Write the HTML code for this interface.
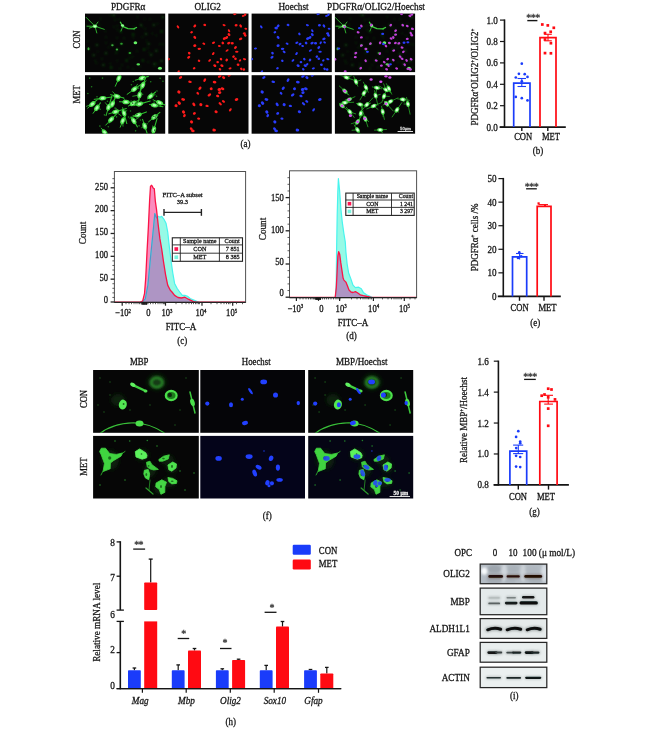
<!DOCTYPE html>
<html><head><meta charset="utf-8"><title>Figure</title>
<style>
html,body{margin:0;padding:0;background:#fff;}
body{width:650px;height:756px;overflow:hidden;}
svg{display:block;font-family:'Liberation Serif', serif;filter:blur(0.3px);}
text{stroke:currentColor;stroke-width:0.28px;}
</style></head>
<body>
<svg width="650" height="756" viewBox="0 0 650 756">
<rect x="0" y="0" width="650" height="756" fill="#fff"/>
<defs>
<filter id="bl" filterUnits="userSpaceOnUse" x="-20" y="-20" width="700" height="800"><feGaussianBlur stdDeviation="0.55"/></filter>
<filter id="bl2" filterUnits="userSpaceOnUse" x="-20" y="-20" width="700" height="800"><feGaussianBlur stdDeviation="1.1"/></filter>
<filter id="bl15" filterUnits="userSpaceOnUse" x="-20" y="-20" width="700" height="800"><feGaussianBlur stdDeviation="0.8"/></filter>
<filter id="bl3" filterUnits="userSpaceOnUse" x="-20" y="-20" width="700" height="800"><feGaussianBlur stdDeviation="2.2"/></filter>
</defs>
<svg x="85.00" y="13.60" width="80.20" height="58.50" overflow="hidden">
<rect x="0.00" y="0.00" width="80.20" height="58.50" fill="#060606" />
<g filter="url(#bl)">
</g><g filter="url(#bl2)">
<ellipse cx="3.52" cy="35.22" rx="1.20" ry="1.00" fill="#135013"/>
<ellipse cx="27.42" cy="31.73" rx="1.20" ry="1.00" fill="#135013"/>
<ellipse cx="32.33" cy="35.87" rx="1.20" ry="1.00" fill="#135013"/>
<ellipse cx="44.87" cy="39.49" rx="1.20" ry="1.00" fill="#135013"/>
<ellipse cx="36.47" cy="30.05" rx="1.20" ry="1.00" fill="#135013"/>
<ellipse cx="11.92" cy="31.35" rx="1.20" ry="1.00" fill="#135013"/>
<ellipse cx="8.69" cy="41.68" rx="1.20" ry="1.00" fill="#135013"/>
<ellipse cx="20.96" cy="39.74" rx="1.20" ry="1.00" fill="#135013"/>
<ellipse cx="59.08" cy="35.87" rx="1.20" ry="1.00" fill="#135013"/>
<ellipse cx="61.02" cy="20.36" rx="1.20" ry="1.00" fill="#135013"/>
<ellipse cx="55.85" cy="11.32" rx="1.20" ry="1.00" fill="#135013"/>
<ellipse cx="68.77" cy="11.32" rx="1.20" ry="1.00" fill="#135013"/>
<ellipse cx="76.52" cy="17.78" rx="1.20" ry="1.00" fill="#135013"/>
<ellipse cx="69.41" cy="50.08" rx="1.20" ry="1.00" fill="#135013"/>
<ellipse cx="41.64" cy="46.85" rx="1.20" ry="1.00" fill="#135013"/>
<ellipse cx="26.13" cy="53.96" rx="1.20" ry="1.00" fill="#135013"/>
<ellipse cx="35.82" cy="17.78" rx="1.20" ry="1.00" fill="#135013"/>
<ellipse cx="48.10" cy="21.01" rx="1.20" ry="1.00" fill="#135013"/>
<ellipse cx="63.60" cy="30.05" rx="1.20" ry="1.00" fill="#135013"/>
<ellipse cx="71.35" cy="37.16" rx="1.20" ry="1.00" fill="#135013"/>
<ellipse cx="18.38" cy="51.37" rx="1.20" ry="1.00" fill="#135013"/>
<ellipse cx="57.79" cy="46.85" rx="1.20" ry="1.00" fill="#135013"/>
<ellipse cx="66.18" cy="41.04" rx="1.20" ry="1.00" fill="#135013"/>
<ellipse cx="76.52" cy="47.50" rx="1.20" ry="1.00" fill="#135013"/>
<ellipse cx="28.72" cy="1.63" rx="1.20" ry="1.00" fill="#135013"/>
<ellipse cx="77.81" cy="3.57" rx="1.20" ry="1.00" fill="#135013"/>
<ellipse cx="32.51" cy="12.20" rx="0.70" ry="0.70" fill="#114411"/>
<ellipse cx="14.95" cy="14.91" rx="0.70" ry="0.70" fill="#114411"/>
<ellipse cx="60.27" cy="15.06" rx="0.70" ry="0.70" fill="#114411"/>
<ellipse cx="30.88" cy="39.32" rx="0.70" ry="0.70" fill="#114411"/>
<ellipse cx="43.01" cy="53.55" rx="0.70" ry="0.70" fill="#114411"/>
<ellipse cx="39.16" cy="24.61" rx="0.70" ry="0.70" fill="#114411"/>
<ellipse cx="48.83" cy="13.13" rx="0.70" ry="0.70" fill="#114411"/>
<ellipse cx="71.36" cy="21.94" rx="0.70" ry="0.70" fill="#114411"/>
<ellipse cx="31.27" cy="39.21" rx="0.70" ry="0.70" fill="#114411"/>
<ellipse cx="12.88" cy="37.99" rx="0.70" ry="0.70" fill="#114411"/>
<ellipse cx="67.30" cy="19.97" rx="0.70" ry="0.70" fill="#114411"/>
<ellipse cx="74.86" cy="30.61" rx="0.70" ry="0.70" fill="#114411"/>
<ellipse cx="61.41" cy="27.27" rx="0.70" ry="0.70" fill="#114411"/>
<ellipse cx="32.40" cy="16.09" rx="0.70" ry="0.70" fill="#114411"/>
<ellipse cx="1.59" cy="12.41" rx="0.70" ry="0.70" fill="#114411"/>
<ellipse cx="78.19" cy="30.92" rx="0.70" ry="0.70" fill="#114411"/>
<ellipse cx="37.04" cy="51.41" rx="0.70" ry="0.70" fill="#114411"/>
<ellipse cx="48.23" cy="55.70" rx="0.70" ry="0.70" fill="#114411"/>
<ellipse cx="28.89" cy="13.09" rx="0.70" ry="0.70" fill="#114411"/>
<ellipse cx="72.82" cy="10.01" rx="0.70" ry="0.70" fill="#114411"/>
<ellipse cx="62.76" cy="34.34" rx="0.70" ry="0.70" fill="#114411"/>
<ellipse cx="77.67" cy="53.86" rx="0.70" ry="0.70" fill="#114411"/>
<ellipse cx="52.50" cy="3.08" rx="0.70" ry="0.70" fill="#114411"/>
<ellipse cx="2.82" cy="27.53" rx="0.70" ry="0.70" fill="#114411"/>
<ellipse cx="64.93" cy="5.54" rx="0.70" ry="0.70" fill="#114411"/>
<ellipse cx="34.18" cy="5.82" rx="0.70" ry="0.70" fill="#114411"/>
<ellipse cx="25.16" cy="1.32" rx="0.70" ry="0.70" fill="#114411"/>
<ellipse cx="26.72" cy="30.31" rx="0.70" ry="0.70" fill="#114411"/>
<ellipse cx="16.66" cy="45.08" rx="0.70" ry="0.70" fill="#114411"/>
<ellipse cx="5.32" cy="12.84" rx="0.70" ry="0.70" fill="#114411"/>
<ellipse cx="21.09" cy="23.63" rx="0.70" ry="0.70" fill="#114411"/>
<ellipse cx="60.58" cy="20.81" rx="0.70" ry="0.70" fill="#114411"/>
<ellipse cx="55.21" cy="52.64" rx="0.70" ry="0.70" fill="#114411"/>
<ellipse cx="11.21" cy="49.38" rx="0.70" ry="0.70" fill="#114411"/>
<ellipse cx="47.77" cy="42.84" rx="0.70" ry="0.70" fill="#114411"/>
<ellipse cx="48.43" cy="23.86" rx="0.70" ry="0.70" fill="#114411"/>
<ellipse cx="8.53" cy="9.05" rx="0.70" ry="0.70" fill="#114411"/>
<ellipse cx="14.58" cy="10.95" rx="0.70" ry="0.70" fill="#114411"/>
<ellipse cx="12.35" cy="12.62" rx="0.70" ry="0.70" fill="#114411"/>
<ellipse cx="44.76" cy="44.15" rx="0.70" ry="0.70" fill="#114411"/>
<ellipse cx="63.24" cy="48.38" rx="0.70" ry="0.70" fill="#114411"/>
<ellipse cx="10.14" cy="47.05" rx="0.70" ry="0.70" fill="#114411"/>
<ellipse cx="15.50" cy="5.05" rx="0.70" ry="0.70" fill="#114411"/>
<ellipse cx="23.44" cy="33.80" rx="0.70" ry="0.70" fill="#114411"/>
<ellipse cx="4.72" cy="13.11" rx="0.70" ry="0.70" fill="#114411"/>
<ellipse cx="32.13" cy="47.05" rx="0.70" ry="0.70" fill="#114411"/>
<ellipse cx="32.15" cy="24.19" rx="0.70" ry="0.70" fill="#114411"/>
<ellipse cx="29.94" cy="6.19" rx="0.70" ry="0.70" fill="#114411"/>
<ellipse cx="69.61" cy="52.69" rx="0.70" ry="0.70" fill="#114411"/>
<ellipse cx="57.29" cy="23.32" rx="0.70" ry="0.70" fill="#114411"/>
<ellipse cx="35.63" cy="18.44" rx="0.70" ry="0.70" fill="#114411"/>
<ellipse cx="52.04" cy="37.59" rx="0.70" ry="0.70" fill="#114411"/>
<ellipse cx="25.23" cy="49.96" rx="0.70" ry="0.70" fill="#114411"/>
<ellipse cx="57.22" cy="13.24" rx="0.70" ry="0.70" fill="#114411"/>
<ellipse cx="64.12" cy="38.76" rx="0.70" ry="0.70" fill="#114411"/>
<ellipse cx="20.48" cy="17.60" rx="0.70" ry="0.70" fill="#114411"/>
<ellipse cx="59.62" cy="5.49" rx="0.70" ry="0.70" fill="#114411"/>
<ellipse cx="35.15" cy="54.97" rx="0.70" ry="0.70" fill="#114411"/>
<ellipse cx="20.98" cy="29.18" rx="0.70" ry="0.70" fill="#114411"/>
<ellipse cx="71.76" cy="49.98" rx="0.70" ry="0.70" fill="#114411"/>
</g><g filter="url(#bl)">
<line x1="9.98" y1="12.61" x2="0.94" y2="3.57" stroke="#2fae2f" stroke-width="1.0" />
<line x1="9.98" y1="12.61" x2="4.17" y2="14.55" stroke="#2fae2f" stroke-width="1.0" />
<line x1="9.98" y1="12.61" x2="11.92" y2="19.72" stroke="#2fae2f" stroke-width="1.0" />
<line x1="9.98" y1="12.61" x2="19.67" y2="15.84" stroke="#2fae2f" stroke-width="1.0" />
<line x1="9.98" y1="12.61" x2="13.21" y2="8.09" stroke="#2fae2f" stroke-width="1.0" />
<line x1="9.98" y1="12.61" x2="1.58" y2="12.61" stroke="#2fae2f" stroke-width="1.0" />
<ellipse cx="9.98" cy="12.61" rx="2.20" ry="1.70" fill="#7dff7d"/>
<ellipse cx="9.98" cy="12.61" rx="1.00" ry="0.80" fill="#d8ffd8"/>
<path d="M35.18,8.09 L37.76,12.87 L42.93,14.94 L48.74,15.20 L51.97,13.65" fill="none" stroke="#3ccc3c" stroke-width="1.3" />
<line x1="48.74" y1="15.20" x2="49.39" y2="16.49" stroke="#2fae2f" stroke-width="0.9" />
<line x1="37.76" y1="12.87" x2="35.82" y2="17.78" stroke="#2fae2f" stroke-width="0.9" />
<ellipse cx="37.50" cy="11.97" rx="1.60" ry="1.30" fill="#8cff8c"/>
<ellipse cx="50.42" cy="29.15" rx="1.80" ry="1.50" fill="#66f266"/>
<ellipse cx="53.26" cy="50.73" rx="1.80" ry="1.20" fill="#55e055"/>
<ellipse cx="74.97" cy="54.60" rx="2.00" ry="1.50" fill="#6af06a"/>
<ellipse cx="31.95" cy="35.87" rx="1.20" ry="1.00" fill="#3caa3c"/>
<ellipse cx="27.42" cy="31.73" rx="1.20" ry="1.00" fill="#3caa3c"/>
<ellipse cx="3.52" cy="35.22" rx="1.00" ry="1.50" fill="#3caa3c"/>
<ellipse cx="44.87" cy="39.49" rx="1.30" ry="1.00" fill="#2e9a2e"/>
<ellipse cx="36.47" cy="30.05" rx="1.30" ry="1.00" fill="#2e9a2e"/>
</g>
</svg>
<svg x="168.30" y="13.60" width="80.20" height="58.50" overflow="hidden">
<rect x="0.00" y="0.00" width="80.20" height="58.50" fill="#060606" />
<g filter="url(#bl)">
<ellipse cx="9.68" cy="13.26" rx="1.76" ry="1.00" fill="#ff1a1a" transform="rotate(54.724112626709925 9.68 13.26)"/>
<ellipse cx="26.48" cy="12.35" rx="1.71" ry="1.23" fill="#ff1a1a" transform="rotate(-49.81536058092941 26.48 12.35)"/>
<ellipse cx="36.43" cy="11.32" rx="1.46" ry="1.19" fill="#ff1a1a" transform="rotate(20.367648172826506 36.43 11.32)"/>
<ellipse cx="55.81" cy="11.58" rx="1.59" ry="1.03" fill="#ff1a1a" transform="rotate(12.816208036900548 55.81 11.58)"/>
<ellipse cx="67.82" cy="11.58" rx="1.50" ry="1.23" fill="#ff1a1a" transform="rotate(-8.319643165047765 67.82 11.58)"/>
<ellipse cx="72.34" cy="12.35" rx="1.76" ry="1.17" fill="#ff1a1a" transform="rotate(59.37834755396912 72.34 12.35)"/>
<ellipse cx="74.93" cy="2.28" rx="1.44" ry="0.99" fill="#ff1a1a" transform="rotate(-6.617497352897573 74.93 2.28)"/>
<ellipse cx="76.87" cy="0.98" rx="1.53" ry="1.09" fill="#ff1a1a" transform="rotate(-56.70661714910172 76.87 0.98)"/>
<ellipse cx="66.53" cy="0.34" rx="1.73" ry="1.16" fill="#ff1a1a" transform="rotate(-14.398209371914604 66.53 0.34)"/>
<ellipse cx="77.51" cy="15.20" rx="1.43" ry="0.99" fill="#ff1a1a" transform="rotate(7.261243323179869 77.51 15.20)"/>
<ellipse cx="23.25" cy="18.68" rx="1.38" ry="1.15" fill="#ff1a1a" transform="rotate(-20.982848548660797 23.25 18.68)"/>
<ellipse cx="60.72" cy="17.13" rx="1.63" ry="1.04" fill="#ff1a1a" transform="rotate(59.84202818310624 60.72 17.13)"/>
<ellipse cx="26.48" cy="23.85" rx="1.69" ry="1.23" fill="#ff1a1a" transform="rotate(47.22858438995861 26.48 23.85)"/>
<ellipse cx="60.72" cy="21.01" rx="1.67" ry="1.25" fill="#ff1a1a" transform="rotate(48.79123798770732 60.72 21.01)"/>
<ellipse cx="56.19" cy="24.89" rx="1.77" ry="1.31" fill="#ff1a1a" transform="rotate(-17.54556265900758 56.19 24.89)"/>
<ellipse cx="58.39" cy="23.85" rx="1.67" ry="1.22" fill="#ff1a1a" transform="rotate(-40.65784160351774 58.39 23.85)"/>
<ellipse cx="75.96" cy="19.72" rx="1.56" ry="1.15" fill="#ff1a1a" transform="rotate(-4.631196270962683 75.96 19.72)"/>
<ellipse cx="76.87" cy="21.66" rx="1.55" ry="1.26" fill="#ff1a1a" transform="rotate(50.97984865134843 76.87 21.66)"/>
<ellipse cx="72.34" cy="25.27" rx="1.73" ry="1.29" fill="#ff1a1a" transform="rotate(-17.529095415754092 72.34 25.27)"/>
<ellipse cx="26.48" cy="31.99" rx="1.58" ry="1.30" fill="#ff1a1a" transform="rotate(-4.67854021420348 26.48 31.99)"/>
<ellipse cx="35.52" cy="30.05" rx="1.54" ry="1.05" fill="#ff1a1a" transform="rotate(26.852754464642203 35.52 30.05)"/>
<ellipse cx="45.21" cy="29.15" rx="1.64" ry="1.03" fill="#ff1a1a" transform="rotate(-21.039930747732242 45.21 29.15)"/>
<ellipse cx="54.51" cy="29.41" rx="1.44" ry="1.29" fill="#ff1a1a" transform="rotate(48.95285959513134 54.51 29.41)"/>
<ellipse cx="60.46" cy="29.41" rx="1.76" ry="1.22" fill="#ff1a1a" transform="rotate(-22.852425006064713 60.46 29.41)"/>
<ellipse cx="63.95" cy="29.67" rx="1.56" ry="1.20" fill="#ff1a1a" transform="rotate(0.5098580379981072 63.95 29.67)"/>
<ellipse cx="51.03" cy="32.38" rx="1.46" ry="1.05" fill="#ff1a1a" transform="rotate(10.553365415338149 51.03 32.38)"/>
<ellipse cx="31.00" cy="35.22" rx="1.75" ry="1.19" fill="#ff1a1a" transform="rotate(1.4269990026338988 31.00 35.22)"/>
<ellipse cx="67.18" cy="33.93" rx="1.70" ry="1.23" fill="#ff1a1a" transform="rotate(-50.95495571111455 67.18 33.93)"/>
<ellipse cx="20.92" cy="39.49" rx="1.41" ry="1.23" fill="#ff1a1a" transform="rotate(48.918434514158506 20.92 39.49)"/>
<ellipse cx="44.95" cy="40.00" rx="1.62" ry="1.07" fill="#ff1a1a" transform="rotate(-52.948932432161314 44.95 40.00)"/>
<ellipse cx="58.78" cy="36.90" rx="1.72" ry="1.01" fill="#ff1a1a" transform="rotate(-32.80601649062844 58.78 36.90)"/>
<ellipse cx="68.47" cy="38.19" rx="1.71" ry="1.06" fill="#ff1a1a" transform="rotate(2.6835198430715934 68.47 38.19)"/>
<ellipse cx="20.41" cy="43.62" rx="1.73" ry="1.12" fill="#ff1a1a" transform="rotate(-34.74252735652242 20.41 43.62)"/>
<ellipse cx="30.74" cy="47.11" rx="1.33" ry="1.10" fill="#ff1a1a" transform="rotate(26.03533186859704 30.74 47.11)"/>
<ellipse cx="41.34" cy="46.85" rx="1.63" ry="1.01" fill="#ff1a1a" transform="rotate(-39.374280944912115 41.34 46.85)"/>
<ellipse cx="52.71" cy="45.56" rx="1.33" ry="1.23" fill="#ff1a1a" transform="rotate(54.547459841489726 52.71 45.56)"/>
<ellipse cx="58.39" cy="46.46" rx="1.44" ry="1.26" fill="#ff1a1a" transform="rotate(-57.46261563322192 58.39 46.46)"/>
<ellipse cx="65.24" cy="42.97" rx="1.40" ry="1.22" fill="#ff1a1a" transform="rotate(-41.14580535758701 65.24 42.97)"/>
<ellipse cx="67.18" cy="45.17" rx="1.34" ry="1.32" fill="#ff1a1a" transform="rotate(-13.732094237692735 67.18 45.17)"/>
<ellipse cx="71.70" cy="46.85" rx="1.33" ry="1.10" fill="#ff1a1a" transform="rotate(-41.82958694921382 71.70 46.85)"/>
<ellipse cx="76.22" cy="45.56" rx="1.66" ry="1.02" fill="#ff1a1a" transform="rotate(13.828737998982902 76.22 45.56)"/>
<ellipse cx="49.35" cy="48.53" rx="1.33" ry="1.13" fill="#ff1a1a" transform="rotate(-19.534347216402573 49.35 48.53)"/>
<ellipse cx="46.50" cy="52.02" rx="1.66" ry="1.29" fill="#ff1a1a" transform="rotate(31.91639239056937 46.50 52.02)"/>
<ellipse cx="53.61" cy="52.02" rx="1.72" ry="1.22" fill="#ff1a1a" transform="rotate(30.67945844100771 53.61 52.02)"/>
<ellipse cx="69.76" cy="51.11" rx="1.42" ry="1.21" fill="#ff1a1a" transform="rotate(-3.266458548202479 69.76 51.11)"/>
<ellipse cx="25.83" cy="54.60" rx="1.36" ry="1.13" fill="#ff1a1a" transform="rotate(-22.043288792608898 25.83 54.60)"/>
<ellipse cx="51.67" cy="55.64" rx="1.38" ry="1.18" fill="#ff1a1a" transform="rotate(44.97156496175609 51.67 55.64)"/>
<ellipse cx="61.75" cy="54.86" rx="1.56" ry="1.03" fill="#ff1a1a" transform="rotate(-12.845693987379917 61.75 54.86)"/>
<ellipse cx="72.99" cy="55.25" rx="1.44" ry="1.19" fill="#ff1a1a" transform="rotate(55.167742378459295 72.99 55.25)"/>
<ellipse cx="75.57" cy="55.89" rx="1.33" ry="1.17" fill="#ff1a1a" transform="rotate(-9.62933452131037 75.57 55.89)"/>
<ellipse cx="10.33" cy="57.83" rx="1.34" ry="0.99" fill="#ff1a1a" transform="rotate(-43.13167452463989 10.33 57.83)"/>
<ellipse cx="0.25" cy="45.56" rx="1.36" ry="1.20" fill="#ff1a1a" transform="rotate(-40.6601981782519 0.25 45.56)"/>
</g>
</svg>
<svg x="251.60" y="13.60" width="80.20" height="58.50" overflow="hidden">
<rect x="0.00" y="0.00" width="80.20" height="58.50" fill="#060606" />
<g filter="url(#bl)">
<ellipse cx="9.68" cy="13.26" rx="1.76" ry="1.00" fill="#2a3cff" transform="rotate(54.724112626709925 9.68 13.26)"/>
<ellipse cx="26.48" cy="12.35" rx="1.71" ry="1.23" fill="#2a3cff" transform="rotate(-49.81536058092941 26.48 12.35)"/>
<ellipse cx="36.43" cy="11.32" rx="1.46" ry="1.19" fill="#2a3cff" transform="rotate(20.367648172826506 36.43 11.32)"/>
<ellipse cx="55.81" cy="11.58" rx="1.59" ry="1.03" fill="#2a3cff" transform="rotate(12.816208036900548 55.81 11.58)"/>
<ellipse cx="67.82" cy="11.58" rx="1.50" ry="1.23" fill="#2a3cff" transform="rotate(-8.319643165047765 67.82 11.58)"/>
<ellipse cx="72.34" cy="12.35" rx="1.76" ry="1.17" fill="#2a3cff" transform="rotate(59.37834755396912 72.34 12.35)"/>
<ellipse cx="74.93" cy="2.28" rx="1.44" ry="0.99" fill="#2a3cff" transform="rotate(-6.617497352897573 74.93 2.28)"/>
<ellipse cx="76.87" cy="0.98" rx="1.53" ry="1.09" fill="#2a3cff" transform="rotate(-56.70661714910172 76.87 0.98)"/>
<ellipse cx="66.53" cy="0.34" rx="1.73" ry="1.16" fill="#2a3cff" transform="rotate(-14.398209371914604 66.53 0.34)"/>
<ellipse cx="77.51" cy="15.20" rx="1.43" ry="0.99" fill="#2a3cff" transform="rotate(7.261243323179869 77.51 15.20)"/>
<ellipse cx="23.25" cy="18.68" rx="1.38" ry="1.15" fill="#2a3cff" transform="rotate(-20.982848548660797 23.25 18.68)"/>
<ellipse cx="60.72" cy="17.13" rx="1.63" ry="1.04" fill="#2a3cff" transform="rotate(59.84202818310624 60.72 17.13)"/>
<ellipse cx="26.48" cy="23.85" rx="1.69" ry="1.23" fill="#2a3cff" transform="rotate(47.22858438995861 26.48 23.85)"/>
<ellipse cx="60.72" cy="21.01" rx="1.67" ry="1.25" fill="#2a3cff" transform="rotate(48.79123798770732 60.72 21.01)"/>
<ellipse cx="56.19" cy="24.89" rx="1.77" ry="1.31" fill="#2a3cff" transform="rotate(-17.54556265900758 56.19 24.89)"/>
<ellipse cx="58.39" cy="23.85" rx="1.67" ry="1.22" fill="#2a3cff" transform="rotate(-40.65784160351774 58.39 23.85)"/>
<ellipse cx="75.96" cy="19.72" rx="1.56" ry="1.15" fill="#2a3cff" transform="rotate(-4.631196270962683 75.96 19.72)"/>
<ellipse cx="76.87" cy="21.66" rx="1.55" ry="1.26" fill="#2a3cff" transform="rotate(50.97984865134843 76.87 21.66)"/>
<ellipse cx="72.34" cy="25.27" rx="1.73" ry="1.29" fill="#2a3cff" transform="rotate(-17.529095415754092 72.34 25.27)"/>
<ellipse cx="26.48" cy="31.99" rx="1.58" ry="1.30" fill="#2a3cff" transform="rotate(-4.67854021420348 26.48 31.99)"/>
<ellipse cx="35.52" cy="30.05" rx="1.54" ry="1.05" fill="#2a3cff" transform="rotate(26.852754464642203 35.52 30.05)"/>
<ellipse cx="45.21" cy="29.15" rx="1.64" ry="1.03" fill="#2a3cff" transform="rotate(-21.039930747732242 45.21 29.15)"/>
<ellipse cx="54.51" cy="29.41" rx="1.44" ry="1.29" fill="#2a3cff" transform="rotate(48.95285959513134 54.51 29.41)"/>
<ellipse cx="60.46" cy="29.41" rx="1.76" ry="1.22" fill="#2a3cff" transform="rotate(-22.852425006064713 60.46 29.41)"/>
<ellipse cx="63.95" cy="29.67" rx="1.56" ry="1.20" fill="#2a3cff" transform="rotate(0.5098580379981072 63.95 29.67)"/>
<ellipse cx="51.03" cy="32.38" rx="1.46" ry="1.05" fill="#2a3cff" transform="rotate(10.553365415338149 51.03 32.38)"/>
<ellipse cx="31.00" cy="35.22" rx="1.75" ry="1.19" fill="#2a3cff" transform="rotate(1.4269990026338988 31.00 35.22)"/>
<ellipse cx="67.18" cy="33.93" rx="1.70" ry="1.23" fill="#2a3cff" transform="rotate(-50.95495571111455 67.18 33.93)"/>
<ellipse cx="20.92" cy="39.49" rx="1.41" ry="1.23" fill="#2a3cff" transform="rotate(48.918434514158506 20.92 39.49)"/>
<ellipse cx="44.95" cy="40.00" rx="1.62" ry="1.07" fill="#2a3cff" transform="rotate(-52.948932432161314 44.95 40.00)"/>
<ellipse cx="58.78" cy="36.90" rx="1.72" ry="1.01" fill="#2a3cff" transform="rotate(-32.80601649062844 58.78 36.90)"/>
<ellipse cx="68.47" cy="38.19" rx="1.71" ry="1.06" fill="#2a3cff" transform="rotate(2.6835198430715934 68.47 38.19)"/>
<ellipse cx="20.41" cy="43.62" rx="1.73" ry="1.12" fill="#2a3cff" transform="rotate(-34.74252735652242 20.41 43.62)"/>
<ellipse cx="30.74" cy="47.11" rx="1.33" ry="1.10" fill="#2a3cff" transform="rotate(26.03533186859704 30.74 47.11)"/>
<ellipse cx="41.34" cy="46.85" rx="1.63" ry="1.01" fill="#2a3cff" transform="rotate(-39.374280944912115 41.34 46.85)"/>
<ellipse cx="52.71" cy="45.56" rx="1.33" ry="1.23" fill="#2a3cff" transform="rotate(54.547459841489726 52.71 45.56)"/>
<ellipse cx="58.39" cy="46.46" rx="1.44" ry="1.26" fill="#2a3cff" transform="rotate(-57.46261563322192 58.39 46.46)"/>
<ellipse cx="65.24" cy="42.97" rx="1.40" ry="1.22" fill="#2a3cff" transform="rotate(-41.14580535758701 65.24 42.97)"/>
<ellipse cx="67.18" cy="45.17" rx="1.34" ry="1.32" fill="#2a3cff" transform="rotate(-13.732094237692735 67.18 45.17)"/>
<ellipse cx="71.70" cy="46.85" rx="1.33" ry="1.10" fill="#2a3cff" transform="rotate(-41.82958694921382 71.70 46.85)"/>
<ellipse cx="76.22" cy="45.56" rx="1.66" ry="1.02" fill="#2a3cff" transform="rotate(13.828737998982902 76.22 45.56)"/>
<ellipse cx="49.35" cy="48.53" rx="1.33" ry="1.13" fill="#2a3cff" transform="rotate(-19.534347216402573 49.35 48.53)"/>
<ellipse cx="46.50" cy="52.02" rx="1.66" ry="1.29" fill="#2a3cff" transform="rotate(31.91639239056937 46.50 52.02)"/>
<ellipse cx="53.61" cy="52.02" rx="1.72" ry="1.22" fill="#2a3cff" transform="rotate(30.67945844100771 53.61 52.02)"/>
<ellipse cx="69.76" cy="51.11" rx="1.42" ry="1.21" fill="#2a3cff" transform="rotate(-3.266458548202479 69.76 51.11)"/>
<ellipse cx="25.83" cy="54.60" rx="1.36" ry="1.13" fill="#2a3cff" transform="rotate(-22.043288792608898 25.83 54.60)"/>
<ellipse cx="51.67" cy="55.64" rx="1.38" ry="1.18" fill="#2a3cff" transform="rotate(44.97156496175609 51.67 55.64)"/>
<ellipse cx="61.75" cy="54.86" rx="1.56" ry="1.03" fill="#2a3cff" transform="rotate(-12.845693987379917 61.75 54.86)"/>
<ellipse cx="72.99" cy="55.25" rx="1.44" ry="1.19" fill="#2a3cff" transform="rotate(55.167742378459295 72.99 55.25)"/>
<ellipse cx="75.57" cy="55.89" rx="1.33" ry="1.17" fill="#2a3cff" transform="rotate(-9.62933452131037 75.57 55.89)"/>
<ellipse cx="10.33" cy="57.83" rx="1.34" ry="0.99" fill="#2a3cff" transform="rotate(-43.13167452463989 10.33 57.83)"/>
<ellipse cx="0.25" cy="45.56" rx="1.36" ry="1.20" fill="#2a3cff" transform="rotate(-40.6601981782519 0.25 45.56)"/>
<ellipse cx="24.54" cy="14.55" rx="1.77" ry="1.30" fill="#2a3cff" transform="rotate(0.9911020842772373 24.54 14.55)"/>
<ellipse cx="47.80" cy="20.36" rx="1.43" ry="1.13" fill="#2a3cff" transform="rotate(59.343027991140374 47.80 20.36)"/>
<ellipse cx="48.44" cy="30.44" rx="1.59" ry="1.19" fill="#2a3cff" transform="rotate(-29.90630857906114 48.44 30.44)"/>
<ellipse cx="32.55" cy="38.19" rx="1.65" ry="1.07" fill="#2a3cff" transform="rotate(36.02489467612756 32.55 38.19)"/>
<ellipse cx="3.87" cy="34.96" rx="1.56" ry="0.98" fill="#2a3cff" transform="rotate(-9.237969268497409 3.87 34.96)"/>
<ellipse cx="69.11" cy="29.15" rx="1.51" ry="1.02" fill="#2a3cff" transform="rotate(-55.74007059506825 69.11 29.15)"/>
<ellipse cx="72.99" cy="28.76" rx="1.43" ry="1.01" fill="#2a3cff" transform="rotate(26.8523607443166 72.99 28.76)"/>
<ellipse cx="55.55" cy="50.73" rx="1.43" ry="1.05" fill="#2a3cff" transform="rotate(-38.188790603948966 55.55 50.73)"/>
</g>
</svg>
<svg x="334.90" y="13.60" width="80.20" height="58.50" overflow="hidden">
<rect x="0.00" y="0.00" width="80.20" height="58.50" fill="#060606" />
<g filter="url(#bl)">
</g><g filter="url(#bl2)">
<ellipse cx="2.62" cy="35.22" rx="1.20" ry="1.00" fill="#135013"/>
<ellipse cx="26.52" cy="31.73" rx="1.20" ry="1.00" fill="#135013"/>
<ellipse cx="31.43" cy="35.87" rx="1.20" ry="1.00" fill="#135013"/>
<ellipse cx="43.97" cy="39.49" rx="1.20" ry="1.00" fill="#135013"/>
<ellipse cx="35.57" cy="30.05" rx="1.20" ry="1.00" fill="#135013"/>
<ellipse cx="11.02" cy="31.35" rx="1.20" ry="1.00" fill="#135013"/>
<ellipse cx="7.79" cy="41.68" rx="1.20" ry="1.00" fill="#135013"/>
<ellipse cx="20.06" cy="39.74" rx="1.20" ry="1.00" fill="#135013"/>
<ellipse cx="58.18" cy="35.87" rx="1.20" ry="1.00" fill="#135013"/>
<ellipse cx="60.12" cy="20.36" rx="1.20" ry="1.00" fill="#135013"/>
<ellipse cx="54.95" cy="11.32" rx="1.20" ry="1.00" fill="#135013"/>
<ellipse cx="67.87" cy="11.32" rx="1.20" ry="1.00" fill="#135013"/>
<ellipse cx="75.62" cy="17.78" rx="1.20" ry="1.00" fill="#135013"/>
<ellipse cx="68.51" cy="50.08" rx="1.20" ry="1.00" fill="#135013"/>
<ellipse cx="40.74" cy="46.85" rx="1.20" ry="1.00" fill="#135013"/>
<ellipse cx="25.23" cy="53.96" rx="1.20" ry="1.00" fill="#135013"/>
<ellipse cx="34.92" cy="17.78" rx="1.20" ry="1.00" fill="#135013"/>
<ellipse cx="47.20" cy="21.01" rx="1.20" ry="1.00" fill="#135013"/>
<ellipse cx="62.70" cy="30.05" rx="1.20" ry="1.00" fill="#135013"/>
<ellipse cx="70.45" cy="37.16" rx="1.20" ry="1.00" fill="#135013"/>
<ellipse cx="17.48" cy="51.37" rx="1.20" ry="1.00" fill="#135013"/>
<ellipse cx="56.89" cy="46.85" rx="1.20" ry="1.00" fill="#135013"/>
<ellipse cx="65.28" cy="41.04" rx="1.20" ry="1.00" fill="#135013"/>
<ellipse cx="75.62" cy="47.50" rx="1.20" ry="1.00" fill="#135013"/>
<ellipse cx="27.82" cy="1.63" rx="1.20" ry="1.00" fill="#135013"/>
<ellipse cx="76.91" cy="3.57" rx="1.20" ry="1.00" fill="#135013"/>
<ellipse cx="32.51" cy="12.20" rx="0.70" ry="0.70" fill="#114411"/>
<ellipse cx="14.95" cy="14.91" rx="0.70" ry="0.70" fill="#114411"/>
<ellipse cx="60.27" cy="15.06" rx="0.70" ry="0.70" fill="#114411"/>
<ellipse cx="30.88" cy="39.32" rx="0.70" ry="0.70" fill="#114411"/>
<ellipse cx="43.01" cy="53.55" rx="0.70" ry="0.70" fill="#114411"/>
<ellipse cx="39.16" cy="24.61" rx="0.70" ry="0.70" fill="#114411"/>
<ellipse cx="48.83" cy="13.13" rx="0.70" ry="0.70" fill="#114411"/>
<ellipse cx="71.36" cy="21.94" rx="0.70" ry="0.70" fill="#114411"/>
<ellipse cx="31.27" cy="39.21" rx="0.70" ry="0.70" fill="#114411"/>
<ellipse cx="12.88" cy="37.99" rx="0.70" ry="0.70" fill="#114411"/>
<ellipse cx="67.30" cy="19.97" rx="0.70" ry="0.70" fill="#114411"/>
<ellipse cx="74.86" cy="30.61" rx="0.70" ry="0.70" fill="#114411"/>
<ellipse cx="61.41" cy="27.27" rx="0.70" ry="0.70" fill="#114411"/>
<ellipse cx="32.40" cy="16.09" rx="0.70" ry="0.70" fill="#114411"/>
<ellipse cx="1.59" cy="12.41" rx="0.70" ry="0.70" fill="#114411"/>
<ellipse cx="78.19" cy="30.92" rx="0.70" ry="0.70" fill="#114411"/>
<ellipse cx="37.04" cy="51.41" rx="0.70" ry="0.70" fill="#114411"/>
<ellipse cx="48.23" cy="55.70" rx="0.70" ry="0.70" fill="#114411"/>
<ellipse cx="28.89" cy="13.09" rx="0.70" ry="0.70" fill="#114411"/>
<ellipse cx="72.82" cy="10.01" rx="0.70" ry="0.70" fill="#114411"/>
<ellipse cx="62.76" cy="34.34" rx="0.70" ry="0.70" fill="#114411"/>
<ellipse cx="77.67" cy="53.86" rx="0.70" ry="0.70" fill="#114411"/>
<ellipse cx="52.50" cy="3.08" rx="0.70" ry="0.70" fill="#114411"/>
<ellipse cx="2.82" cy="27.53" rx="0.70" ry="0.70" fill="#114411"/>
<ellipse cx="64.93" cy="5.54" rx="0.70" ry="0.70" fill="#114411"/>
<ellipse cx="34.18" cy="5.82" rx="0.70" ry="0.70" fill="#114411"/>
<ellipse cx="25.16" cy="1.32" rx="0.70" ry="0.70" fill="#114411"/>
<ellipse cx="26.72" cy="30.31" rx="0.70" ry="0.70" fill="#114411"/>
<ellipse cx="16.66" cy="45.08" rx="0.70" ry="0.70" fill="#114411"/>
<ellipse cx="5.32" cy="12.84" rx="0.70" ry="0.70" fill="#114411"/>
<ellipse cx="21.09" cy="23.63" rx="0.70" ry="0.70" fill="#114411"/>
<ellipse cx="60.58" cy="20.81" rx="0.70" ry="0.70" fill="#114411"/>
<ellipse cx="55.21" cy="52.64" rx="0.70" ry="0.70" fill="#114411"/>
<ellipse cx="11.21" cy="49.38" rx="0.70" ry="0.70" fill="#114411"/>
<ellipse cx="47.77" cy="42.84" rx="0.70" ry="0.70" fill="#114411"/>
<ellipse cx="48.43" cy="23.86" rx="0.70" ry="0.70" fill="#114411"/>
<ellipse cx="8.53" cy="9.05" rx="0.70" ry="0.70" fill="#114411"/>
<ellipse cx="14.58" cy="10.95" rx="0.70" ry="0.70" fill="#114411"/>
<ellipse cx="12.35" cy="12.62" rx="0.70" ry="0.70" fill="#114411"/>
<ellipse cx="44.76" cy="44.15" rx="0.70" ry="0.70" fill="#114411"/>
<ellipse cx="63.24" cy="48.38" rx="0.70" ry="0.70" fill="#114411"/>
<ellipse cx="10.14" cy="47.05" rx="0.70" ry="0.70" fill="#114411"/>
<ellipse cx="15.50" cy="5.05" rx="0.70" ry="0.70" fill="#114411"/>
<ellipse cx="23.44" cy="33.80" rx="0.70" ry="0.70" fill="#114411"/>
<ellipse cx="4.72" cy="13.11" rx="0.70" ry="0.70" fill="#114411"/>
<ellipse cx="32.13" cy="47.05" rx="0.70" ry="0.70" fill="#114411"/>
<ellipse cx="32.15" cy="24.19" rx="0.70" ry="0.70" fill="#114411"/>
<ellipse cx="29.94" cy="6.19" rx="0.70" ry="0.70" fill="#114411"/>
<ellipse cx="69.61" cy="52.69" rx="0.70" ry="0.70" fill="#114411"/>
<ellipse cx="57.29" cy="23.32" rx="0.70" ry="0.70" fill="#114411"/>
<ellipse cx="35.63" cy="18.44" rx="0.70" ry="0.70" fill="#114411"/>
<ellipse cx="52.04" cy="37.59" rx="0.70" ry="0.70" fill="#114411"/>
<ellipse cx="25.23" cy="49.96" rx="0.70" ry="0.70" fill="#114411"/>
<ellipse cx="57.22" cy="13.24" rx="0.70" ry="0.70" fill="#114411"/>
<ellipse cx="64.12" cy="38.76" rx="0.70" ry="0.70" fill="#114411"/>
<ellipse cx="20.48" cy="17.60" rx="0.70" ry="0.70" fill="#114411"/>
<ellipse cx="59.62" cy="5.49" rx="0.70" ry="0.70" fill="#114411"/>
<ellipse cx="35.15" cy="54.97" rx="0.70" ry="0.70" fill="#114411"/>
<ellipse cx="20.98" cy="29.18" rx="0.70" ry="0.70" fill="#114411"/>
<ellipse cx="71.76" cy="49.98" rx="0.70" ry="0.70" fill="#114411"/>
</g><g filter="url(#bl)">
<line x1="9.08" y1="12.61" x2="0.04" y2="3.57" stroke="#2fae2f" stroke-width="1.0" />
<line x1="9.08" y1="12.61" x2="3.27" y2="14.55" stroke="#2fae2f" stroke-width="1.0" />
<line x1="9.08" y1="12.61" x2="11.02" y2="19.72" stroke="#2fae2f" stroke-width="1.0" />
<line x1="9.08" y1="12.61" x2="18.77" y2="15.84" stroke="#2fae2f" stroke-width="1.0" />
<line x1="9.08" y1="12.61" x2="12.31" y2="8.09" stroke="#2fae2f" stroke-width="1.0" />
<line x1="9.08" y1="12.61" x2="0.68" y2="12.61" stroke="#2fae2f" stroke-width="1.0" />
<ellipse cx="9.08" cy="12.61" rx="2.20" ry="1.70" fill="#7dff7d"/>
<ellipse cx="9.08" cy="12.61" rx="1.00" ry="0.80" fill="#d8ffd8"/>
<path d="M34.28,8.09 L36.86,12.87 L42.03,14.94 L47.84,15.20 L51.07,13.65" fill="none" stroke="#3ccc3c" stroke-width="1.3" />
<line x1="47.84" y1="15.20" x2="48.49" y2="16.49" stroke="#2fae2f" stroke-width="0.9" />
<line x1="36.86" y1="12.87" x2="34.92" y2="17.78" stroke="#2fae2f" stroke-width="0.9" />
<ellipse cx="36.60" cy="11.97" rx="1.60" ry="1.30" fill="#8cff8c"/>
<ellipse cx="49.52" cy="29.15" rx="1.80" ry="1.50" fill="#66f266"/>
<ellipse cx="52.36" cy="50.73" rx="1.80" ry="1.20" fill="#55e055"/>
<ellipse cx="74.07" cy="54.60" rx="2.00" ry="1.50" fill="#6af06a"/>
<ellipse cx="31.05" cy="35.87" rx="1.20" ry="1.00" fill="#3caa3c"/>
<ellipse cx="26.52" cy="31.73" rx="1.20" ry="1.00" fill="#3caa3c"/>
<ellipse cx="2.62" cy="35.22" rx="1.00" ry="1.50" fill="#3caa3c"/>
<ellipse cx="43.97" cy="39.49" rx="1.30" ry="1.00" fill="#2e9a2e"/>
<ellipse cx="35.57" cy="30.05" rx="1.30" ry="1.00" fill="#2e9a2e"/>
</g>
<g filter="url(#bl)">
<ellipse cx="9.68" cy="13.26" rx="1.50" ry="1.15" fill="#c040d8" transform="rotate(54.724112626709925 9.68 13.26)"/>
<ellipse cx="26.48" cy="12.35" rx="1.50" ry="1.15" fill="#c040d8" transform="rotate(53.739298447121925 26.48 12.35)"/>
<ellipse cx="36.43" cy="11.32" rx="1.50" ry="1.15" fill="#c040d8" transform="rotate(-53.21383587278296 36.43 11.32)"/>
<ellipse cx="55.81" cy="11.58" rx="1.50" ry="1.15" fill="#c040d8" transform="rotate(-49.81536058092941 55.81 11.58)"/>
<ellipse cx="67.82" cy="11.58" rx="1.50" ry="1.15" fill="#c040d8" transform="rotate(40.25986537553395 67.82 11.58)"/>
<ellipse cx="72.34" cy="12.35" rx="1.50" ry="1.15" fill="#c040d8" transform="rotate(28.31639868822279 72.34 12.35)"/>
<ellipse cx="74.93" cy="2.28" rx="1.50" ry="1.15" fill="#c040d8" transform="rotate(20.367648172826506 74.93 2.28)"/>
<ellipse cx="76.87" cy="0.98" rx="1.50" ry="1.15" fill="#c040d8" transform="rotate(-23.023625089302698 76.87 0.98)"/>
<ellipse cx="66.53" cy="0.34" rx="1.50" ry="1.15" fill="#c040d8" transform="rotate(12.713299881415494 66.53 0.34)"/>
<ellipse cx="77.51" cy="15.20" rx="1.50" ry="1.15" fill="#c040d8" transform="rotate(12.816208036900548 77.51 15.20)"/>
<ellipse cx="23.25" cy="18.68" rx="1.50" ry="1.15" fill="#c040d8" transform="rotate(9.744482053440365 23.25 18.68)"/>
<ellipse cx="60.72" cy="17.13" rx="1.50" ry="1.15" fill="#c040d8" transform="rotate(-40.99405556942333 60.72 17.13)"/>
<ellipse cx="26.48" cy="23.85" rx="1.50" ry="1.15" fill="#c040d8" transform="rotate(-8.319643165047765 26.48 23.85)"/>
<ellipse cx="60.72" cy="21.01" rx="1.50" ry="1.15" fill="#c040d8" transform="rotate(-12.776181575355437 60.72 21.01)"/>
<ellipse cx="56.19" cy="24.89" rx="1.50" ry="1.15" fill="#c040d8" transform="rotate(26.761449748495906 56.19 24.89)"/>
<ellipse cx="58.39" cy="23.85" rx="1.50" ry="1.15" fill="#c040d8" transform="rotate(59.37834755396912 58.39 23.85)"/>
<ellipse cx="75.96" cy="19.72" rx="1.50" ry="1.15" fill="#c040d8" transform="rotate(53.92745677118923 75.96 19.72)"/>
<ellipse cx="76.87" cy="21.66" rx="1.50" ry="1.15" fill="#c040d8" transform="rotate(5.301245691518503 76.87 21.66)"/>
<ellipse cx="72.34" cy="25.27" rx="1.50" ry="1.15" fill="#c040d8" transform="rotate(-6.617497352897573 72.34 25.27)"/>
<ellipse cx="26.48" cy="31.99" rx="1.50" ry="1.15" fill="#c040d8" transform="rotate(-27.81111100208063 26.48 31.99)"/>
<ellipse cx="35.52" cy="30.05" rx="1.50" ry="1.15" fill="#c040d8" transform="rotate(-55.689080472857086 35.52 30.05)"/>
<ellipse cx="45.21" cy="29.15" rx="1.50" ry="1.15" fill="#c040d8" transform="rotate(-56.70661714910172 45.21 29.15)"/>
<ellipse cx="54.51" cy="29.41" rx="1.50" ry="1.15" fill="#c040d8" transform="rotate(-4.212736548322546 54.51 29.41)"/>
<ellipse cx="60.46" cy="29.41" rx="1.50" ry="1.15" fill="#c040d8" transform="rotate(-21.78418465755871 60.46 29.41)"/>
<ellipse cx="63.95" cy="29.67" rx="1.50" ry="1.15" fill="#c040d8" transform="rotate(-14.398209371914604 63.95 29.67)"/>
<ellipse cx="51.03" cy="32.38" rx="1.50" ry="1.15" fill="#c040d8" transform="rotate(47.014734939394486 51.03 32.38)"/>
<ellipse cx="31.00" cy="35.22" rx="1.50" ry="1.15" fill="#c040d8" transform="rotate(3.090332297523396 31.00 35.22)"/>
<ellipse cx="67.18" cy="33.93" rx="1.50" ry="1.15" fill="#c040d8" transform="rotate(7.261243323179869 67.18 33.93)"/>
<ellipse cx="20.92" cy="39.49" rx="1.50" ry="1.15" fill="#c040d8" transform="rotate(-31.66519114619255 20.92 39.49)"/>
<ellipse cx="44.95" cy="40.00" rx="1.50" ry="1.15" fill="#c040d8" transform="rotate(-57.13703050310614 44.95 40.00)"/>
<ellipse cx="58.78" cy="36.90" rx="1.50" ry="1.15" fill="#c040d8" transform="rotate(-20.982848548660797 58.78 36.90)"/>
<ellipse cx="68.47" cy="38.19" rx="1.50" ry="1.15" fill="#c040d8" transform="rotate(-43.596312841624 68.47 38.19)"/>
<ellipse cx="20.41" cy="43.62" rx="1.50" ry="1.15" fill="#c040d8" transform="rotate(1.226861500464139 20.41 43.62)"/>
<ellipse cx="30.74" cy="47.11" rx="1.50" ry="1.15" fill="#c040d8" transform="rotate(59.84202818310624 30.74 47.11)"/>
<ellipse cx="41.34" cy="46.85" rx="1.50" ry="1.15" fill="#c040d8" transform="rotate(20.937563681504415 41.34 46.85)"/>
<ellipse cx="52.71" cy="45.56" rx="1.50" ry="1.15" fill="#c040d8" transform="rotate(-38.17878038122267 52.71 45.56)"/>
<ellipse cx="58.39" cy="46.46" rx="1.50" ry="1.15" fill="#c040d8" transform="rotate(47.22858438995861 58.39 46.46)"/>
<ellipse cx="65.24" cy="42.97" rx="1.50" ry="1.15" fill="#c040d8" transform="rotate(35.61119057059675 65.24 42.97)"/>
<ellipse cx="67.18" cy="45.17" rx="1.50" ry="1.15" fill="#c040d8" transform="rotate(28.128203027277323 67.18 45.17)"/>
<ellipse cx="71.70" cy="46.85" rx="1.50" ry="1.15" fill="#c040d8" transform="rotate(48.79123798770732 71.70 46.85)"/>
<ellipse cx="76.22" cy="45.56" rx="1.50" ry="1.15" fill="#c040d8" transform="rotate(31.546258059968523 76.22 45.56)"/>
<ellipse cx="49.35" cy="48.53" rx="1.50" ry="1.15" fill="#c040d8" transform="rotate(34.769716495411586 49.35 48.53)"/>
<ellipse cx="46.50" cy="52.02" rx="1.50" ry="1.15" fill="#c040d8" transform="rotate(-17.54556265900758 46.50 52.02)"/>
<ellipse cx="53.61" cy="52.02" rx="1.50" ry="1.15" fill="#c040d8" transform="rotate(57.71718876865519 53.61 52.02)"/>
<ellipse cx="69.76" cy="51.11" rx="1.50" ry="1.15" fill="#c040d8" transform="rotate(55.428112547787094 69.76 51.11)"/>
<ellipse cx="25.83" cy="54.60" rx="1.50" ry="1.15" fill="#c040d8" transform="rotate(-40.65784160351774 25.83 54.60)"/>
<ellipse cx="51.67" cy="55.64" rx="1.50" ry="1.15" fill="#c040d8" transform="rotate(30.480488598224653 51.67 55.64)"/>
<ellipse cx="61.75" cy="54.86" rx="1.50" ry="1.15" fill="#c040d8" transform="rotate(25.818107788494416 61.75 54.86)"/>
<ellipse cx="72.99" cy="55.25" rx="1.50" ry="1.15" fill="#c040d8" transform="rotate(-4.631196270962683 72.99 55.25)"/>
<ellipse cx="75.57" cy="55.89" rx="1.50" ry="1.15" fill="#c040d8" transform="rotate(3.6426859348134 75.57 55.89)"/>
<ellipse cx="10.33" cy="57.83" rx="1.50" ry="1.15" fill="#c040d8" transform="rotate(-1.1983293779770392 10.33 57.83)"/>
<ellipse cx="0.25" cy="45.56" rx="1.50" ry="1.15" fill="#c040d8" transform="rotate(50.97984865134843 0.25 45.56)"/>
<ellipse cx="24.54" cy="14.55" rx="1.50" ry="1.15" fill="#2a3cff"/>
<ellipse cx="47.80" cy="20.36" rx="1.50" ry="1.15" fill="#2a3cff"/>
<ellipse cx="48.44" cy="30.44" rx="1.50" ry="1.15" fill="#2a3cff"/>
<ellipse cx="32.55" cy="38.19" rx="1.50" ry="1.15" fill="#2a3cff"/>
<ellipse cx="3.87" cy="34.96" rx="1.50" ry="1.15" fill="#2a3cff"/>
<ellipse cx="69.11" cy="29.15" rx="1.50" ry="1.15" fill="#2a3cff"/>
<ellipse cx="72.99" cy="28.76" rx="1.50" ry="1.15" fill="#2a3cff"/>
<ellipse cx="55.55" cy="50.73" rx="1.50" ry="1.15" fill="#2a3cff"/>
</g>
</svg>
<svg x="85.00" y="75.20" width="80.20" height="58.50" overflow="hidden">
<rect x="0.00" y="0.00" width="80.20" height="58.50" fill="#060606" />
<g filter="url(#bl)">
<line x1="17.73" y1="22.99" x2="27.01" y2="21.75" stroke="#2dbb2d" stroke-width="1.1" stroke-linecap="round"/>
<line x1="17.73" y1="22.99" x2="9.19" y2="24.14" stroke="#2dbb2d" stroke-width="1.0" stroke-linecap="round"/>
<line x1="17.73" y1="22.99" x2="12.82" y2="24.07" stroke="#2dbb2d" stroke-width="0.8" stroke-linecap="round"/>
<line x1="31.95" y1="21.06" x2="38.84" y2="22.77" stroke="#2dbb2d" stroke-width="1.1" stroke-linecap="round"/>
<line x1="31.95" y1="21.06" x2="25.58" y2="19.47" stroke="#2dbb2d" stroke-width="1.0" stroke-linecap="round"/>
<line x1="31.95" y1="21.06" x2="27.72" y2="16.56" stroke="#2dbb2d" stroke-width="0.8" stroke-linecap="round"/>
<line x1="27.42" y1="28.81" x2="30.74" y2="21.72" stroke="#2dbb2d" stroke-width="1.1" stroke-linecap="round"/>
<line x1="27.42" y1="28.81" x2="25.54" y2="32.84" stroke="#2dbb2d" stroke-width="1.0" stroke-linecap="round"/>
<line x1="27.42" y1="28.81" x2="29.54" y2="23.43" stroke="#2dbb2d" stroke-width="0.8" stroke-linecap="round"/>
<line x1="23.55" y1="32.04" x2="26.97" y2="20.65" stroke="#2dbb2d" stroke-width="1.1" stroke-linecap="round"/>
<line x1="23.55" y1="32.04" x2="21.01" y2="40.49" stroke="#2dbb2d" stroke-width="1.0" stroke-linecap="round"/>
<line x1="23.55" y1="32.04" x2="20.45" y2="27.54" stroke="#2dbb2d" stroke-width="0.8" stroke-linecap="round"/>
<line x1="11.92" y1="32.68" x2="15.43" y2="27.71" stroke="#2dbb2d" stroke-width="1.1" stroke-linecap="round"/>
<line x1="11.92" y1="32.68" x2="8.09" y2="38.11" stroke="#2dbb2d" stroke-width="1.0" stroke-linecap="round"/>
<line x1="11.92" y1="32.68" x2="15.42" y2="34.06" stroke="#2dbb2d" stroke-width="0.8" stroke-linecap="round"/>
<line x1="7.40" y1="28.81" x2="12.04" y2="24.73" stroke="#2dbb2d" stroke-width="1.1" stroke-linecap="round"/>
<line x1="7.40" y1="28.81" x2="2.65" y2="32.98" stroke="#2dbb2d" stroke-width="1.0" stroke-linecap="round"/>
<line x1="7.40" y1="28.81" x2="1.47" y2="31.13" stroke="#2dbb2d" stroke-width="0.8" stroke-linecap="round"/>
<line x1="40.99" y1="26.87" x2="50.82" y2="27.40" stroke="#2dbb2d" stroke-width="1.1" stroke-linecap="round"/>
<line x1="40.99" y1="26.87" x2="34.50" y2="26.52" stroke="#2dbb2d" stroke-width="1.0" stroke-linecap="round"/>
<line x1="40.99" y1="26.87" x2="38.47" y2="22.75" stroke="#2dbb2d" stroke-width="0.8" stroke-linecap="round"/>
<line x1="49.39" y1="13.95" x2="59.15" y2="6.99" stroke="#2dbb2d" stroke-width="1.1" stroke-linecap="round"/>
<line x1="49.39" y1="13.95" x2="42.08" y2="19.16" stroke="#2dbb2d" stroke-width="1.0" stroke-linecap="round"/>
<line x1="49.39" y1="13.95" x2="52.52" y2="9.03" stroke="#2dbb2d" stroke-width="0.8" stroke-linecap="round"/>
<line x1="48.10" y1="28.16" x2="54.51" y2="24.52" stroke="#2dbb2d" stroke-width="1.1" stroke-linecap="round"/>
<line x1="48.10" y1="28.16" x2="43.36" y2="30.85" stroke="#2dbb2d" stroke-width="1.0" stroke-linecap="round"/>
<line x1="48.10" y1="28.16" x2="53.58" y2="30.75" stroke="#2dbb2d" stroke-width="0.8" stroke-linecap="round"/>
<line x1="54.56" y1="28.81" x2="65.21" y2="25.77" stroke="#2dbb2d" stroke-width="1.1" stroke-linecap="round"/>
<line x1="54.56" y1="28.81" x2="48.85" y2="30.44" stroke="#2dbb2d" stroke-width="1.0" stroke-linecap="round"/>
<line x1="54.56" y1="28.81" x2="60.72" y2="27.14" stroke="#2dbb2d" stroke-width="0.8" stroke-linecap="round"/>
<line x1="54.56" y1="19.76" x2="55.83" y2="12.62" stroke="#2dbb2d" stroke-width="1.1" stroke-linecap="round"/>
<line x1="54.56" y1="19.76" x2="53.06" y2="28.18" stroke="#2dbb2d" stroke-width="1.0" stroke-linecap="round"/>
<line x1="54.56" y1="19.76" x2="47.76" y2="21.06" stroke="#2dbb2d" stroke-width="0.8" stroke-linecap="round"/>
<line x1="57.14" y1="2.97" x2="63.32" y2="1.15" stroke="#2dbb2d" stroke-width="1.1" stroke-linecap="round"/>
<line x1="57.14" y1="2.97" x2="50.28" y2="4.99" stroke="#2dbb2d" stroke-width="1.0" stroke-linecap="round"/>
<line x1="57.14" y1="2.97" x2="57.87" y2="-1.05" stroke="#2dbb2d" stroke-width="0.8" stroke-linecap="round"/>
<line x1="33.88" y1="2.97" x2="37.13" y2="-4.34" stroke="#2dbb2d" stroke-width="1.1" stroke-linecap="round"/>
<line x1="33.88" y1="2.97" x2="30.30" y2="11.03" stroke="#2dbb2d" stroke-width="1.0" stroke-linecap="round"/>
<line x1="33.88" y1="2.97" x2="34.06" y2="-0.50" stroke="#2dbb2d" stroke-width="0.8" stroke-linecap="round"/>
<line x1="65.54" y1="21.06" x2="70.56" y2="16.76" stroke="#2dbb2d" stroke-width="1.1" stroke-linecap="round"/>
<line x1="65.54" y1="21.06" x2="62.27" y2="23.85" stroke="#2dbb2d" stroke-width="1.0" stroke-linecap="round"/>
<line x1="65.54" y1="21.06" x2="66.62" y2="17.51" stroke="#2dbb2d" stroke-width="0.8" stroke-linecap="round"/>
<line x1="69.41" y1="30.10" x2="77.98" y2="31.53" stroke="#2dbb2d" stroke-width="1.1" stroke-linecap="round"/>
<line x1="69.41" y1="30.10" x2="64.53" y2="29.28" stroke="#2dbb2d" stroke-width="1.0" stroke-linecap="round"/>
<line x1="69.41" y1="30.10" x2="69.01" y2="26.60" stroke="#2dbb2d" stroke-width="0.8" stroke-linecap="round"/>
<line x1="74.58" y1="27.52" x2="80.75" y2="30.13" stroke="#2dbb2d" stroke-width="1.1" stroke-linecap="round"/>
<line x1="74.58" y1="27.52" x2="68.96" y2="25.13" stroke="#2dbb2d" stroke-width="1.0" stroke-linecap="round"/>
<line x1="74.58" y1="27.52" x2="75.52" y2="31.48" stroke="#2dbb2d" stroke-width="0.8" stroke-linecap="round"/>
<line x1="39.05" y1="37.85" x2="41.79" y2="48.32" stroke="#2dbb2d" stroke-width="1.1" stroke-linecap="round"/>
<line x1="39.05" y1="37.85" x2="37.66" y2="32.51" stroke="#2dbb2d" stroke-width="1.0" stroke-linecap="round"/>
<line x1="39.05" y1="37.85" x2="41.93" y2="35.31" stroke="#2dbb2d" stroke-width="0.8" stroke-linecap="round"/>
<line x1="30.65" y1="36.56" x2="41.30" y2="33.32" stroke="#2dbb2d" stroke-width="1.1" stroke-linecap="round"/>
<line x1="30.65" y1="36.56" x2="23.76" y2="38.66" stroke="#2dbb2d" stroke-width="1.0" stroke-linecap="round"/>
<line x1="30.65" y1="36.56" x2="36.27" y2="40.66" stroke="#2dbb2d" stroke-width="0.8" stroke-linecap="round"/>
<line x1="26.13" y1="44.31" x2="31.39" y2="38.89" stroke="#2dbb2d" stroke-width="1.1" stroke-linecap="round"/>
<line x1="26.13" y1="44.31" x2="20.66" y2="49.96" stroke="#2dbb2d" stroke-width="1.0" stroke-linecap="round"/>
<line x1="26.13" y1="44.31" x2="24.14" y2="47.99" stroke="#2dbb2d" stroke-width="0.8" stroke-linecap="round"/>
<line x1="37.76" y1="45.60" x2="40.18" y2="39.53" stroke="#2dbb2d" stroke-width="1.1" stroke-linecap="round"/>
<line x1="37.76" y1="45.60" x2="35.20" y2="52.03" stroke="#2dbb2d" stroke-width="1.0" stroke-linecap="round"/>
<line x1="37.76" y1="45.60" x2="38.00" y2="51.00" stroke="#2dbb2d" stroke-width="0.8" stroke-linecap="round"/>
<line x1="53.26" y1="39.79" x2="61.43" y2="36.73" stroke="#2dbb2d" stroke-width="1.1" stroke-linecap="round"/>
<line x1="53.26" y1="39.79" x2="45.03" y2="42.87" stroke="#2dbb2d" stroke-width="1.0" stroke-linecap="round"/>
<line x1="53.26" y1="39.79" x2="47.99" y2="40.33" stroke="#2dbb2d" stroke-width="0.8" stroke-linecap="round"/>
<line x1="48.74" y1="45.60" x2="52.43" y2="51.66" stroke="#2dbb2d" stroke-width="1.1" stroke-linecap="round"/>
<line x1="48.74" y1="45.60" x2="46.26" y2="41.53" stroke="#2dbb2d" stroke-width="1.0" stroke-linecap="round"/>
<line x1="48.74" y1="45.60" x2="54.00" y2="42.19" stroke="#2dbb2d" stroke-width="0.8" stroke-linecap="round"/>
<line x1="69.41" y1="41.73" x2="74.88" y2="37.13" stroke="#2dbb2d" stroke-width="1.1" stroke-linecap="round"/>
<line x1="69.41" y1="41.73" x2="63.52" y2="46.68" stroke="#2dbb2d" stroke-width="1.0" stroke-linecap="round"/>
<line x1="69.41" y1="41.73" x2="72.94" y2="40.34" stroke="#2dbb2d" stroke-width="0.8" stroke-linecap="round"/>
<line x1="59.72" y1="50.77" x2="63.21" y2="61.51" stroke="#2dbb2d" stroke-width="1.1" stroke-linecap="round"/>
<line x1="59.72" y1="50.77" x2="57.56" y2="44.10" stroke="#2dbb2d" stroke-width="1.0" stroke-linecap="round"/>
<line x1="59.72" y1="50.77" x2="56.72" y2="52.39" stroke="#2dbb2d" stroke-width="0.8" stroke-linecap="round"/>
<line x1="68.77" y1="54.65" x2="72.05" y2="43.34" stroke="#2dbb2d" stroke-width="1.1" stroke-linecap="round"/>
<line x1="68.77" y1="54.65" x2="67.32" y2="59.63" stroke="#2dbb2d" stroke-width="1.0" stroke-linecap="round"/>
<line x1="68.77" y1="54.65" x2="67.63" y2="50.78" stroke="#2dbb2d" stroke-width="0.8" stroke-linecap="round"/>
<line x1="19.67" y1="57.23" x2="25.60" y2="64.76" stroke="#2dbb2d" stroke-width="1.1" stroke-linecap="round"/>
<line x1="19.67" y1="57.23" x2="16.29" y2="52.94" stroke="#2dbb2d" stroke-width="1.0" stroke-linecap="round"/>
<line x1="19.67" y1="57.23" x2="22.33" y2="62.48" stroke="#2dbb2d" stroke-width="0.8" stroke-linecap="round"/>
<line x1="57.79" y1="10.07" x2="60.43" y2="3.19" stroke="#2dbb2d" stroke-width="1.1" stroke-linecap="round"/>
<line x1="57.79" y1="10.07" x2="55.35" y2="16.42" stroke="#2dbb2d" stroke-width="1.0" stroke-linecap="round"/>
<line x1="57.79" y1="10.07" x2="61.06" y2="5.71" stroke="#2dbb2d" stroke-width="0.8" stroke-linecap="round"/>
<ellipse cx="17.73" cy="22.99" rx="3.60" ry="2.20" fill="#4ae04a" transform="rotate(-7.619271438429024 17.73 22.99)"/>
<ellipse cx="17.73" cy="22.99" rx="1.90" ry="1.20" fill="#b0ffb0" transform="rotate(-7.619271438429024 17.73 22.99)"/>
<ellipse cx="31.95" cy="21.06" rx="3.60" ry="2.20" fill="#4ae04a" transform="rotate(13.98157261598351 31.95 21.06)"/>
<ellipse cx="31.95" cy="21.06" rx="1.90" ry="1.20" fill="#b0ffb0" transform="rotate(13.98157261598351 31.95 21.06)"/>
<ellipse cx="27.42" cy="28.81" rx="3.60" ry="2.20" fill="#4ae04a" transform="rotate(-64.94024700332504 27.42 28.81)"/>
<ellipse cx="27.42" cy="28.81" rx="1.90" ry="1.20" fill="#b0ffb0" transform="rotate(-64.94024700332504 27.42 28.81)"/>
<ellipse cx="23.55" cy="32.04" rx="3.60" ry="2.20" fill="#4ae04a" transform="rotate(-73.29914618082464 23.55 32.04)"/>
<ellipse cx="23.55" cy="32.04" rx="1.90" ry="1.20" fill="#b0ffb0" transform="rotate(-73.29914618082464 23.55 32.04)"/>
<ellipse cx="11.92" cy="32.68" rx="3.60" ry="2.20" fill="#4ae04a" transform="rotate(-54.80094477757401 11.92 32.68)"/>
<ellipse cx="11.92" cy="32.68" rx="1.90" ry="1.20" fill="#b0ffb0" transform="rotate(-54.80094477757401 11.92 32.68)"/>
<ellipse cx="7.40" cy="28.81" rx="3.60" ry="2.20" fill="#4ae04a" transform="rotate(-41.28911781356564 7.40 28.81)"/>
<ellipse cx="7.40" cy="28.81" rx="1.90" ry="1.20" fill="#b0ffb0" transform="rotate(-41.28911781356564 7.40 28.81)"/>
<ellipse cx="40.99" cy="26.87" rx="3.60" ry="2.20" fill="#4ae04a" transform="rotate(3.059858362252271 40.99 26.87)"/>
<ellipse cx="40.99" cy="26.87" rx="1.90" ry="1.20" fill="#b0ffb0" transform="rotate(3.059858362252271 40.99 26.87)"/>
<ellipse cx="49.39" cy="13.95" rx="3.60" ry="2.20" fill="#4ae04a" transform="rotate(-35.49393605377826 49.39 13.95)"/>
<ellipse cx="49.39" cy="13.95" rx="1.90" ry="1.20" fill="#b0ffb0" transform="rotate(-35.49393605377826 49.39 13.95)"/>
<ellipse cx="48.10" cy="28.16" rx="3.60" ry="2.20" fill="#4ae04a" transform="rotate(-29.555645277512014 48.10 28.16)"/>
<ellipse cx="48.10" cy="28.16" rx="1.90" ry="1.20" fill="#b0ffb0" transform="rotate(-29.555645277512014 48.10 28.16)"/>
<ellipse cx="54.56" cy="28.81" rx="3.60" ry="2.20" fill="#4ae04a" transform="rotate(-15.936031213041431 54.56 28.81)"/>
<ellipse cx="54.56" cy="28.81" rx="1.90" ry="1.20" fill="#b0ffb0" transform="rotate(-15.936031213041431 54.56 28.81)"/>
<ellipse cx="54.56" cy="19.76" rx="3.60" ry="2.20" fill="#4ae04a" transform="rotate(-79.91281007110872 54.56 19.76)"/>
<ellipse cx="54.56" cy="19.76" rx="1.90" ry="1.20" fill="#b0ffb0" transform="rotate(-79.91281007110872 54.56 19.76)"/>
<ellipse cx="57.14" cy="2.97" rx="3.60" ry="2.20" fill="#4ae04a" transform="rotate(-16.412097907315015 57.14 2.97)"/>
<ellipse cx="57.14" cy="2.97" rx="1.90" ry="1.20" fill="#b0ffb0" transform="rotate(-16.412097907315015 57.14 2.97)"/>
<ellipse cx="33.88" cy="2.97" rx="3.60" ry="2.20" fill="#4ae04a" transform="rotate(-66.05692826365278 33.88 2.97)"/>
<ellipse cx="33.88" cy="2.97" rx="1.90" ry="1.20" fill="#b0ffb0" transform="rotate(-66.05692826365278 33.88 2.97)"/>
<ellipse cx="65.54" cy="21.06" rx="3.60" ry="2.20" fill="#4ae04a" transform="rotate(-40.5779281770992 65.54 21.06)"/>
<ellipse cx="65.54" cy="21.06" rx="1.90" ry="1.20" fill="#b0ffb0" transform="rotate(-40.5779281770992 65.54 21.06)"/>
<ellipse cx="69.41" cy="30.10" rx="3.60" ry="2.20" fill="#4ae04a" transform="rotate(9.487222657663182 69.41 30.10)"/>
<ellipse cx="69.41" cy="30.10" rx="1.90" ry="1.20" fill="#b0ffb0" transform="rotate(9.487222657663182 69.41 30.10)"/>
<ellipse cx="74.58" cy="27.52" rx="3.60" ry="2.20" fill="#4ae04a" transform="rotate(22.994419793786733 74.58 27.52)"/>
<ellipse cx="74.58" cy="27.52" rx="1.90" ry="1.20" fill="#b0ffb0" transform="rotate(22.994419793786733 74.58 27.52)"/>
<ellipse cx="39.05" cy="37.85" rx="3.60" ry="2.20" fill="#4ae04a" transform="rotate(75.34864899499064 39.05 37.85)"/>
<ellipse cx="39.05" cy="37.85" rx="1.90" ry="1.20" fill="#b0ffb0" transform="rotate(75.34864899499064 39.05 37.85)"/>
<ellipse cx="30.65" cy="36.56" rx="3.60" ry="2.20" fill="#4ae04a" transform="rotate(-16.9160580684713 30.65 36.56)"/>
<ellipse cx="30.65" cy="36.56" rx="1.90" ry="1.20" fill="#b0ffb0" transform="rotate(-16.9160580684713 30.65 36.56)"/>
<ellipse cx="26.13" cy="44.31" rx="3.60" ry="2.20" fill="#4ae04a" transform="rotate(-45.88106102759639 26.13 44.31)"/>
<ellipse cx="26.13" cy="44.31" rx="1.90" ry="1.20" fill="#b0ffb0" transform="rotate(-45.88106102759639 26.13 44.31)"/>
<ellipse cx="37.76" cy="45.60" rx="3.60" ry="2.20" fill="#4ae04a" transform="rotate(-68.25623145785214 37.76 45.60)"/>
<ellipse cx="37.76" cy="45.60" rx="1.90" ry="1.20" fill="#b0ffb0" transform="rotate(-68.25623145785214 37.76 45.60)"/>
<ellipse cx="53.26" cy="39.79" rx="3.60" ry="2.20" fill="#4ae04a" transform="rotate(-20.527352545083488 53.26 39.79)"/>
<ellipse cx="53.26" cy="39.79" rx="1.90" ry="1.20" fill="#b0ffb0" transform="rotate(-20.527352545083488 53.26 39.79)"/>
<ellipse cx="48.74" cy="45.60" rx="3.60" ry="2.20" fill="#4ae04a" transform="rotate(58.64410684835556 48.74 45.60)"/>
<ellipse cx="48.74" cy="45.60" rx="1.90" ry="1.20" fill="#b0ffb0" transform="rotate(58.64410684835556 48.74 45.60)"/>
<ellipse cx="69.41" cy="41.73" rx="3.60" ry="2.20" fill="#4ae04a" transform="rotate(-40.08022937132006 69.41 41.73)"/>
<ellipse cx="69.41" cy="41.73" rx="1.90" ry="1.20" fill="#b0ffb0" transform="rotate(-40.08022937132006 69.41 41.73)"/>
<ellipse cx="59.72" cy="50.77" rx="3.60" ry="2.20" fill="#4ae04a" transform="rotate(72.02173636938323 59.72 50.77)"/>
<ellipse cx="59.72" cy="50.77" rx="1.90" ry="1.20" fill="#b0ffb0" transform="rotate(72.02173636938323 59.72 50.77)"/>
<ellipse cx="68.77" cy="54.65" rx="3.60" ry="2.20" fill="#4ae04a" transform="rotate(-73.80856452899478 68.77 54.65)"/>
<ellipse cx="68.77" cy="54.65" rx="1.90" ry="1.20" fill="#b0ffb0" transform="rotate(-73.80856452899478 68.77 54.65)"/>
<ellipse cx="19.67" cy="57.23" rx="3.60" ry="2.20" fill="#4ae04a" transform="rotate(51.79485548117643 19.67 57.23)"/>
<ellipse cx="19.67" cy="57.23" rx="1.90" ry="1.20" fill="#b0ffb0" transform="rotate(51.79485548117643 19.67 57.23)"/>
<ellipse cx="57.79" cy="10.07" rx="3.60" ry="2.20" fill="#4ae04a" transform="rotate(-68.99582013320902 57.79 10.07)"/>
<ellipse cx="57.79" cy="10.07" rx="1.90" ry="1.20" fill="#b0ffb0" transform="rotate(-68.99582013320902 57.79 10.07)"/>
<ellipse cx="23.30" cy="51.54" rx="0.80" ry="0.80" fill="#1f7a1f"/>
<ellipse cx="17.50" cy="2.90" rx="0.80" ry="0.80" fill="#1f7a1f"/>
<ellipse cx="22.46" cy="26.07" rx="0.80" ry="0.80" fill="#1f7a1f"/>
<ellipse cx="6.59" cy="11.52" rx="0.80" ry="0.80" fill="#1f7a1f"/>
<ellipse cx="30.03" cy="32.90" rx="0.80" ry="0.80" fill="#1f7a1f"/>
<ellipse cx="12.00" cy="21.56" rx="0.80" ry="0.80" fill="#1f7a1f"/>
<ellipse cx="69.71" cy="54.95" rx="0.80" ry="0.80" fill="#1f7a1f"/>
<ellipse cx="51.93" cy="39.33" rx="0.80" ry="0.80" fill="#1f7a1f"/>
<ellipse cx="46.42" cy="9.58" rx="0.80" ry="0.80" fill="#1f7a1f"/>
<ellipse cx="4.67" cy="2.97" rx="0.80" ry="0.80" fill="#1f7a1f"/>
<ellipse cx="71.18" cy="39.85" rx="0.80" ry="0.80" fill="#1f7a1f"/>
<ellipse cx="75.17" cy="3.15" rx="0.80" ry="0.80" fill="#1f7a1f"/>
<ellipse cx="50.35" cy="28.04" rx="0.80" ry="0.80" fill="#1f7a1f"/>
<ellipse cx="57.52" cy="19.22" rx="0.80" ry="0.80" fill="#1f7a1f"/>
<ellipse cx="77.95" cy="6.06" rx="0.80" ry="0.80" fill="#1f7a1f"/>
<ellipse cx="43.50" cy="41.80" rx="0.80" ry="0.80" fill="#1f7a1f"/>
<ellipse cx="70.41" cy="41.80" rx="0.80" ry="0.80" fill="#1f7a1f"/>
<ellipse cx="55.48" cy="44.84" rx="0.80" ry="0.80" fill="#1f7a1f"/>
<ellipse cx="71.54" cy="21.00" rx="0.80" ry="0.80" fill="#1f7a1f"/>
<ellipse cx="54.07" cy="50.65" rx="0.80" ry="0.80" fill="#1f7a1f"/>
<ellipse cx="68.20" cy="24.53" rx="0.80" ry="0.80" fill="#1f7a1f"/>
<ellipse cx="62.08" cy="48.63" rx="0.80" ry="0.80" fill="#1f7a1f"/>
<ellipse cx="45.53" cy="35.75" rx="0.80" ry="0.80" fill="#1f7a1f"/>
<ellipse cx="31.06" cy="33.46" rx="0.80" ry="0.80" fill="#1f7a1f"/>
<ellipse cx="48.27" cy="6.33" rx="0.80" ry="0.80" fill="#1f7a1f"/>
<ellipse cx="50.59" cy="55.64" rx="0.80" ry="0.80" fill="#1f7a1f"/>
<ellipse cx="68.86" cy="41.32" rx="0.80" ry="0.80" fill="#1f7a1f"/>
<ellipse cx="31.52" cy="41.69" rx="0.80" ry="0.80" fill="#1f7a1f"/>
<ellipse cx="46.15" cy="25.79" rx="0.80" ry="0.80" fill="#1f7a1f"/>
<ellipse cx="65.72" cy="6.52" rx="0.80" ry="0.80" fill="#1f7a1f"/>
<ellipse cx="59.02" cy="3.61" rx="0.80" ry="0.80" fill="#1f7a1f"/>
<ellipse cx="47.70" cy="27.97" rx="0.80" ry="0.80" fill="#1f7a1f"/>
<ellipse cx="19.50" cy="39.71" rx="0.80" ry="0.80" fill="#1f7a1f"/>
<ellipse cx="39.79" cy="35.18" rx="0.80" ry="0.80" fill="#1f7a1f"/>
<ellipse cx="71.96" cy="15.81" rx="0.80" ry="0.80" fill="#1f7a1f"/>
<ellipse cx="2.86" cy="18.26" rx="0.80" ry="0.80" fill="#1f7a1f"/>
<ellipse cx="53.54" cy="12.94" rx="0.80" ry="0.80" fill="#1f7a1f"/>
<ellipse cx="14.89" cy="50.91" rx="0.80" ry="0.80" fill="#1f7a1f"/>
<ellipse cx="52.16" cy="25.86" rx="0.80" ry="0.80" fill="#1f7a1f"/>
<ellipse cx="69.77" cy="19.66" rx="0.80" ry="0.80" fill="#1f7a1f"/>
</g>
</svg>
<svg x="168.30" y="75.20" width="80.20" height="58.50" overflow="hidden">
<rect x="0.00" y="0.00" width="80.20" height="58.50" fill="#060606" />
<g filter="url(#bl)">
<ellipse cx="12.27" cy="2.32" rx="1.77" ry="1.25" fill="#ff1a1a" transform="rotate(-31.444244748973034 12.27 2.32)"/>
<ellipse cx="21.70" cy="6.59" rx="1.82" ry="1.13" fill="#ff1a1a" transform="rotate(12.470404631543332 21.70 6.59)"/>
<ellipse cx="36.43" cy="4.91" rx="1.93" ry="1.21" fill="#ff1a1a" transform="rotate(-58.4198410134151 36.43 4.91)"/>
<ellipse cx="51.41" cy="1.03" rx="2.01" ry="1.29" fill="#ff1a1a" transform="rotate(-31.880284674396435 51.41 1.03)"/>
<ellipse cx="55.29" cy="2.32" rx="1.74" ry="1.35" fill="#ff1a1a" transform="rotate(40.37537415292665 55.29 2.32)"/>
<ellipse cx="60.97" cy="-0.26" rx="1.82" ry="1.44" fill="#ff1a1a" transform="rotate(-41.92602911717713 60.97 -0.26)"/>
<ellipse cx="46.25" cy="6.84" rx="1.88" ry="1.37" fill="#ff1a1a" transform="rotate(2.781745245996163 46.25 6.84)"/>
<ellipse cx="31.65" cy="13.05" rx="1.89" ry="1.34" fill="#ff1a1a" transform="rotate(-52.31622741276033 31.65 13.05)"/>
<ellipse cx="42.89" cy="13.56" rx="1.50" ry="1.44" fill="#ff1a1a" transform="rotate(-23.84788085811452 42.89 13.56)"/>
<ellipse cx="51.03" cy="14.34" rx="1.86" ry="1.45" fill="#ff1a1a" transform="rotate(-3.2701093601439766 51.03 14.34)"/>
<ellipse cx="54.26" cy="13.56" rx="1.97" ry="1.26" fill="#ff1a1a" transform="rotate(25.695538033344306 54.26 13.56)"/>
<ellipse cx="10.59" cy="16.79" rx="1.72" ry="1.47" fill="#ff1a1a" transform="rotate(36.1090525182274 10.59 16.79)"/>
<ellipse cx="29.45" cy="18.08" rx="1.54" ry="1.16" fill="#ff1a1a" transform="rotate(45.46399924056499 29.45 18.08)"/>
<ellipse cx="41.08" cy="19.76" rx="1.99" ry="1.28" fill="#ff1a1a" transform="rotate(-33.96156705202352 41.08 19.76)"/>
<ellipse cx="49.35" cy="20.80" rx="1.65" ry="1.30" fill="#ff1a1a" transform="rotate(15.197794904016476 49.35 20.80)"/>
<ellipse cx="51.41" cy="17.44" rx="1.67" ry="1.33" fill="#ff1a1a" transform="rotate(-13.696048938611696 51.41 17.44)"/>
<ellipse cx="14.85" cy="24.29" rx="1.96" ry="1.37" fill="#ff1a1a" transform="rotate(10.110215156423862 14.85 24.29)"/>
<ellipse cx="10.97" cy="27.90" rx="1.94" ry="1.49" fill="#ff1a1a" transform="rotate(51.473472144002045 10.97 27.90)"/>
<ellipse cx="7.74" cy="30.49" rx="1.57" ry="1.44" fill="#ff1a1a" transform="rotate(20.552825059502183 7.74 30.49)"/>
<ellipse cx="25.57" cy="29.20" rx="1.96" ry="1.33" fill="#ff1a1a" transform="rotate(55.75595367708736 25.57 29.20)"/>
<ellipse cx="32.55" cy="29.45" rx="1.60" ry="1.43" fill="#ff1a1a" transform="rotate(25.65804242090391 32.55 29.45)"/>
<ellipse cx="38.75" cy="30.75" rx="1.64" ry="1.13" fill="#ff1a1a" transform="rotate(8.823882282154173 38.75 30.75)"/>
<ellipse cx="51.93" cy="28.55" rx="2.01" ry="1.14" fill="#ff1a1a" transform="rotate(42.47309861072162 51.93 28.55)"/>
<ellipse cx="55.16" cy="26.22" rx="1.70" ry="1.16" fill="#ff1a1a" transform="rotate(36.071438550900226 55.16 26.22)"/>
<ellipse cx="68.21" cy="24.29" rx="1.89" ry="1.45" fill="#ff1a1a" transform="rotate(-24.733050381712538 68.21 24.29)"/>
<ellipse cx="62.01" cy="34.62" rx="1.81" ry="1.12" fill="#ff1a1a" transform="rotate(-54.697192664454796 62.01 34.62)"/>
<ellipse cx="47.80" cy="36.56" rx="1.66" ry="1.45" fill="#ff1a1a" transform="rotate(26.212857293821955 47.80 36.56)"/>
<ellipse cx="15.24" cy="36.82" rx="1.75" ry="1.49" fill="#ff1a1a" transform="rotate(57.67629082120075 15.24 36.82)"/>
<ellipse cx="26.09" cy="38.24" rx="1.53" ry="1.34" fill="#ff1a1a" transform="rotate(-22.839593582839314 26.09 38.24)"/>
<ellipse cx="16.14" cy="40.44" rx="1.59" ry="1.26" fill="#ff1a1a" transform="rotate(-56.23466853896187 16.14 40.44)"/>
<ellipse cx="30.35" cy="43.41" rx="1.57" ry="1.12" fill="#ff1a1a" transform="rotate(13.256054756080985 30.35 43.41)"/>
<ellipse cx="23.25" cy="46.64" rx="1.65" ry="1.48" fill="#ff1a1a" transform="rotate(44.13348407132669 23.25 46.64)"/>
<ellipse cx="22.99" cy="53.61" rx="1.69" ry="1.28" fill="#ff1a1a" transform="rotate(47.59915697131218 22.99 53.61)"/>
<ellipse cx="24.54" cy="55.68" rx="1.83" ry="1.34" fill="#ff1a1a" transform="rotate(2.408758151107669 24.54 55.68)"/>
<ellipse cx="45.86" cy="54.91" rx="1.81" ry="1.47" fill="#ff1a1a" transform="rotate(7.1113274418468535 45.86 54.91)"/>
</g>
</svg>
<svg x="251.60" y="75.20" width="80.20" height="58.50" overflow="hidden">
<rect x="0.00" y="0.00" width="80.20" height="58.50" fill="#060606" />
<g filter="url(#bl)">
<ellipse cx="12.27" cy="2.32" rx="1.77" ry="1.25" fill="#2a3cff" transform="rotate(-31.444244748973034 12.27 2.32)"/>
<ellipse cx="21.70" cy="6.59" rx="1.82" ry="1.13" fill="#2a3cff" transform="rotate(12.470404631543332 21.70 6.59)"/>
<ellipse cx="36.43" cy="4.91" rx="1.93" ry="1.21" fill="#2a3cff" transform="rotate(-58.4198410134151 36.43 4.91)"/>
<ellipse cx="51.41" cy="1.03" rx="2.01" ry="1.29" fill="#2a3cff" transform="rotate(-31.880284674396435 51.41 1.03)"/>
<ellipse cx="55.29" cy="2.32" rx="1.74" ry="1.35" fill="#2a3cff" transform="rotate(40.37537415292665 55.29 2.32)"/>
<ellipse cx="60.97" cy="-0.26" rx="1.82" ry="1.44" fill="#2a3cff" transform="rotate(-41.92602911717713 60.97 -0.26)"/>
<ellipse cx="46.25" cy="6.84" rx="1.88" ry="1.37" fill="#2a3cff" transform="rotate(2.781745245996163 46.25 6.84)"/>
<ellipse cx="31.65" cy="13.05" rx="1.89" ry="1.34" fill="#2a3cff" transform="rotate(-52.31622741276033 31.65 13.05)"/>
<ellipse cx="42.89" cy="13.56" rx="1.50" ry="1.44" fill="#2a3cff" transform="rotate(-23.84788085811452 42.89 13.56)"/>
<ellipse cx="51.03" cy="14.34" rx="1.86" ry="1.45" fill="#2a3cff" transform="rotate(-3.2701093601439766 51.03 14.34)"/>
<ellipse cx="54.26" cy="13.56" rx="1.97" ry="1.26" fill="#2a3cff" transform="rotate(25.695538033344306 54.26 13.56)"/>
<ellipse cx="10.59" cy="16.79" rx="1.72" ry="1.47" fill="#2a3cff" transform="rotate(36.1090525182274 10.59 16.79)"/>
<ellipse cx="29.45" cy="18.08" rx="1.54" ry="1.16" fill="#2a3cff" transform="rotate(45.46399924056499 29.45 18.08)"/>
<ellipse cx="41.08" cy="19.76" rx="1.99" ry="1.28" fill="#2a3cff" transform="rotate(-33.96156705202352 41.08 19.76)"/>
<ellipse cx="49.35" cy="20.80" rx="1.65" ry="1.30" fill="#2a3cff" transform="rotate(15.197794904016476 49.35 20.80)"/>
<ellipse cx="51.41" cy="17.44" rx="1.67" ry="1.33" fill="#2a3cff" transform="rotate(-13.696048938611696 51.41 17.44)"/>
<ellipse cx="14.85" cy="24.29" rx="1.96" ry="1.37" fill="#2a3cff" transform="rotate(10.110215156423862 14.85 24.29)"/>
<ellipse cx="10.97" cy="27.90" rx="1.94" ry="1.49" fill="#2a3cff" transform="rotate(51.473472144002045 10.97 27.90)"/>
<ellipse cx="7.74" cy="30.49" rx="1.57" ry="1.44" fill="#2a3cff" transform="rotate(20.552825059502183 7.74 30.49)"/>
<ellipse cx="25.57" cy="29.20" rx="1.96" ry="1.33" fill="#2a3cff" transform="rotate(55.75595367708736 25.57 29.20)"/>
<ellipse cx="32.55" cy="29.45" rx="1.60" ry="1.43" fill="#2a3cff" transform="rotate(25.65804242090391 32.55 29.45)"/>
<ellipse cx="38.75" cy="30.75" rx="1.64" ry="1.13" fill="#2a3cff" transform="rotate(8.823882282154173 38.75 30.75)"/>
<ellipse cx="51.93" cy="28.55" rx="2.01" ry="1.14" fill="#2a3cff" transform="rotate(42.47309861072162 51.93 28.55)"/>
<ellipse cx="55.16" cy="26.22" rx="1.70" ry="1.16" fill="#2a3cff" transform="rotate(36.071438550900226 55.16 26.22)"/>
<ellipse cx="68.21" cy="24.29" rx="1.89" ry="1.45" fill="#2a3cff" transform="rotate(-24.733050381712538 68.21 24.29)"/>
<ellipse cx="62.01" cy="34.62" rx="1.81" ry="1.12" fill="#2a3cff" transform="rotate(-54.697192664454796 62.01 34.62)"/>
<ellipse cx="47.80" cy="36.56" rx="1.66" ry="1.45" fill="#2a3cff" transform="rotate(26.212857293821955 47.80 36.56)"/>
<ellipse cx="15.24" cy="36.82" rx="1.75" ry="1.49" fill="#2a3cff" transform="rotate(57.67629082120075 15.24 36.82)"/>
<ellipse cx="26.09" cy="38.24" rx="1.53" ry="1.34" fill="#2a3cff" transform="rotate(-22.839593582839314 26.09 38.24)"/>
<ellipse cx="16.14" cy="40.44" rx="1.59" ry="1.26" fill="#2a3cff" transform="rotate(-56.23466853896187 16.14 40.44)"/>
<ellipse cx="30.35" cy="43.41" rx="1.57" ry="1.12" fill="#2a3cff" transform="rotate(13.256054756080985 30.35 43.41)"/>
<ellipse cx="23.25" cy="46.64" rx="1.65" ry="1.48" fill="#2a3cff" transform="rotate(44.13348407132669 23.25 46.64)"/>
<ellipse cx="22.99" cy="53.61" rx="1.69" ry="1.28" fill="#2a3cff" transform="rotate(47.59915697131218 22.99 53.61)"/>
<ellipse cx="24.54" cy="55.68" rx="1.83" ry="1.34" fill="#2a3cff" transform="rotate(2.408758151107669 24.54 55.68)"/>
<ellipse cx="45.86" cy="54.91" rx="1.81" ry="1.47" fill="#2a3cff" transform="rotate(7.1113274418468535 45.86 54.91)"/>
</g>
</svg>
<svg x="334.90" y="75.20" width="80.20" height="58.50" overflow="hidden">
<rect x="0.00" y="0.00" width="80.20" height="58.50" fill="#060606" />
<g filter="url(#bl)">
<line x1="11.67" y1="2.32" x2="20.57" y2="5.50" stroke="#26a626" stroke-width="0.8" />
<line x1="11.67" y1="2.32" x2="4.16" y2="-0.36" stroke="#26a626" stroke-width="0.8" />
<line x1="11.67" y1="2.32" x2="17.24" y2="0.21" stroke="#26a626" stroke-width="0.8" />
<line x1="21.10" y1="6.59" x2="23.07" y2="11.37" stroke="#26a626" stroke-width="0.8" />
<line x1="21.10" y1="6.59" x2="18.68" y2="0.74" stroke="#26a626" stroke-width="0.8" />
<line x1="21.10" y1="6.59" x2="26.34" y2="4.64" stroke="#26a626" stroke-width="0.8" />
<line x1="31.05" y1="12.27" x2="33.52" y2="17.38" stroke="#26a626" stroke-width="0.8" />
<line x1="31.05" y1="12.27" x2="28.28" y2="6.56" stroke="#26a626" stroke-width="0.8" />
<line x1="31.05" y1="12.27" x2="31.16" y2="17.44" stroke="#26a626" stroke-width="0.8" />
<line x1="42.03" y1="12.66" x2="47.00" y2="13.70" stroke="#26a626" stroke-width="0.8" />
<line x1="42.03" y1="12.66" x2="37.05" y2="11.62" stroke="#26a626" stroke-width="0.8" />
<line x1="42.03" y1="12.66" x2="40.80" y2="19.21" stroke="#26a626" stroke-width="0.8" />
<line x1="9.99" y1="15.89" x2="14.38" y2="19.91" stroke="#26a626" stroke-width="0.8" />
<line x1="9.99" y1="15.89" x2="4.10" y2="10.49" stroke="#26a626" stroke-width="0.8" />
<line x1="9.99" y1="15.89" x2="13.51" y2="20.08" stroke="#26a626" stroke-width="0.8" />
<line x1="29.11" y1="17.83" x2="31.63" y2="13.50" stroke="#26a626" stroke-width="0.8" />
<line x1="29.11" y1="17.83" x2="24.89" y2="25.04" stroke="#26a626" stroke-width="0.8" />
<line x1="29.11" y1="17.83" x2="30.08" y2="21.56" stroke="#26a626" stroke-width="0.8" />
<line x1="40.74" y1="20.41" x2="43.01" y2="30.39" stroke="#26a626" stroke-width="0.8" />
<line x1="40.74" y1="20.41" x2="39.53" y2="15.10" stroke="#26a626" stroke-width="0.8" />
<line x1="40.74" y1="20.41" x2="45.74" y2="19.17" stroke="#26a626" stroke-width="0.8" />
<line x1="51.07" y1="14.60" x2="56.55" y2="17.56" stroke="#26a626" stroke-width="0.8" />
<line x1="51.07" y1="14.60" x2="43.42" y2="10.45" stroke="#26a626" stroke-width="0.8" />
<line x1="51.07" y1="14.60" x2="48.57" y2="8.20" stroke="#26a626" stroke-width="0.8" />
<line x1="53.91" y1="13.30" x2="57.00" y2="19.36" stroke="#26a626" stroke-width="0.8" />
<line x1="53.91" y1="13.30" x2="51.28" y2="8.13" stroke="#26a626" stroke-width="0.8" />
<line x1="53.91" y1="13.30" x2="55.72" y2="16.40" stroke="#26a626" stroke-width="0.8" />
<line x1="49.13" y1="21.06" x2="51.51" y2="14.68" stroke="#26a626" stroke-width="0.8" />
<line x1="49.13" y1="21.06" x2="46.69" y2="27.63" stroke="#26a626" stroke-width="0.8" />
<line x1="49.13" y1="21.06" x2="54.84" y2="21.18" stroke="#26a626" stroke-width="0.8" />
<line x1="14.25" y1="24.29" x2="20.42" y2="21.29" stroke="#26a626" stroke-width="0.8" />
<line x1="14.25" y1="24.29" x2="6.97" y2="27.83" stroke="#26a626" stroke-width="0.8" />
<line x1="14.25" y1="24.29" x2="10.02" y2="24.80" stroke="#26a626" stroke-width="0.8" />
<line x1="9.99" y1="27.52" x2="19.20" y2="27.03" stroke="#26a626" stroke-width="0.8" />
<line x1="9.99" y1="27.52" x2="5.71" y2="27.74" stroke="#26a626" stroke-width="0.8" />
<line x1="9.99" y1="27.52" x2="13.04" y2="27.03" stroke="#26a626" stroke-width="0.8" />
<line x1="7.14" y1="30.49" x2="14.86" y2="36.96" stroke="#26a626" stroke-width="0.8" />
<line x1="7.14" y1="30.49" x2="4.01" y2="27.86" stroke="#26a626" stroke-width="0.8" />
<line x1="7.14" y1="30.49" x2="8.19" y2="26.15" stroke="#26a626" stroke-width="0.8" />
<line x1="25.23" y1="29.20" x2="30.17" y2="30.29" stroke="#26a626" stroke-width="0.8" />
<line x1="25.23" y1="29.20" x2="21.10" y2="28.27" stroke="#26a626" stroke-width="0.8" />
<line x1="25.23" y1="29.20" x2="28.10" y2="35.38" stroke="#26a626" stroke-width="0.8" />
<line x1="31.95" y1="29.45" x2="38.26" y2="22.31" stroke="#26a626" stroke-width="0.8" />
<line x1="31.95" y1="29.45" x2="26.23" y2="35.94" stroke="#26a626" stroke-width="0.8" />
<line x1="31.95" y1="29.45" x2="36.04" y2="27.89" stroke="#26a626" stroke-width="0.8" />
<line x1="38.80" y1="30.75" x2="46.29" y2="27.53" stroke="#26a626" stroke-width="0.8" />
<line x1="38.80" y1="30.75" x2="31.56" y2="33.85" stroke="#26a626" stroke-width="0.8" />
<line x1="38.80" y1="30.75" x2="43.46" y2="34.51" stroke="#26a626" stroke-width="0.8" />
<line x1="51.72" y1="28.55" x2="58.57" y2="36.05" stroke="#26a626" stroke-width="0.8" />
<line x1="51.72" y1="28.55" x2="48.89" y2="25.46" stroke="#26a626" stroke-width="0.8" />
<line x1="51.72" y1="28.55" x2="54.89" y2="27.43" stroke="#26a626" stroke-width="0.8" />
<line x1="55.59" y1="26.22" x2="63.42" y2="22.50" stroke="#26a626" stroke-width="0.8" />
<line x1="55.59" y1="26.22" x2="47.84" y2="29.92" stroke="#26a626" stroke-width="0.8" />
<line x1="55.59" y1="26.22" x2="52.01" y2="31.88" stroke="#26a626" stroke-width="0.8" />
<line x1="67.87" y1="24.29" x2="74.69" y2="25.15" stroke="#26a626" stroke-width="0.8" />
<line x1="67.87" y1="24.29" x2="62.33" y2="23.58" stroke="#26a626" stroke-width="0.8" />
<line x1="67.87" y1="24.29" x2="69.33" y2="27.26" stroke="#26a626" stroke-width="0.8" />
<line x1="62.05" y1="34.62" x2="67.14" y2="27.03" stroke="#26a626" stroke-width="0.8" />
<line x1="62.05" y1="34.62" x2="57.05" y2="42.09" stroke="#26a626" stroke-width="0.8" />
<line x1="62.05" y1="34.62" x2="63.74" y2="37.33" stroke="#26a626" stroke-width="0.8" />
<line x1="47.84" y1="36.56" x2="49.56" y2="44.58" stroke="#26a626" stroke-width="0.8" />
<line x1="47.84" y1="36.56" x2="46.57" y2="30.66" stroke="#26a626" stroke-width="0.8" />
<line x1="47.84" y1="36.56" x2="48.27" y2="41.92" stroke="#26a626" stroke-width="0.8" />
<line x1="14.90" y1="36.56" x2="19.64" y2="42.67" stroke="#26a626" stroke-width="0.8" />
<line x1="14.90" y1="36.56" x2="11.15" y2="31.73" stroke="#26a626" stroke-width="0.8" />
<line x1="14.90" y1="36.56" x2="21.16" y2="38.84" stroke="#26a626" stroke-width="0.8" />
<line x1="25.88" y1="38.24" x2="27.97" y2="30.56" stroke="#26a626" stroke-width="0.8" />
<line x1="25.88" y1="38.24" x2="23.73" y2="46.14" stroke="#26a626" stroke-width="0.8" />
<line x1="25.88" y1="38.24" x2="29.92" y2="42.57" stroke="#26a626" stroke-width="0.8" />
<line x1="30.40" y1="43.67" x2="33.12" y2="52.02" stroke="#26a626" stroke-width="0.8" />
<line x1="30.40" y1="43.67" x2="27.94" y2="36.12" stroke="#26a626" stroke-width="0.8" />
<line x1="30.40" y1="43.67" x2="34.11" y2="46.61" stroke="#26a626" stroke-width="0.8" />
<line x1="22.65" y1="46.64" x2="28.26" y2="38.28" stroke="#26a626" stroke-width="0.8" />
<line x1="22.65" y1="46.64" x2="19.60" y2="51.18" stroke="#26a626" stroke-width="0.8" />
<line x1="22.65" y1="46.64" x2="15.95" y2="48.67" stroke="#26a626" stroke-width="0.8" />
<line x1="22.65" y1="54.65" x2="28.66" y2="63.69" stroke="#26a626" stroke-width="0.8" />
<line x1="22.65" y1="54.65" x2="19.18" y2="49.43" stroke="#26a626" stroke-width="0.8" />
<line x1="22.65" y1="54.65" x2="16.75" y2="55.09" stroke="#26a626" stroke-width="0.8" />
<line x1="45.26" y1="54.65" x2="51.99" y2="54.25" stroke="#26a626" stroke-width="0.8" />
<line x1="45.26" y1="54.65" x2="39.25" y2="55.00" stroke="#26a626" stroke-width="0.8" />
<line x1="45.26" y1="54.65" x2="47.99" y2="58.24" stroke="#26a626" stroke-width="0.8" />
<line x1="73.04" y1="28.81" x2="75.25" y2="39.34" stroke="#26a626" stroke-width="0.8" />
<line x1="73.04" y1="28.81" x2="71.57" y2="21.83" stroke="#26a626" stroke-width="0.8" />
<line x1="73.04" y1="28.81" x2="68.68" y2="28.83" stroke="#26a626" stroke-width="0.8" />
<ellipse cx="11.67" cy="2.32" rx="3.00" ry="1.90" fill="#4ee04e" transform="rotate(19.66427118235231 11.67 2.32)"/>
<ellipse cx="11.67" cy="2.32" rx="1.60" ry="1.20" fill="#e0ffe0" transform="rotate(19.66427118235231 11.67 2.32)"/>
<ellipse cx="21.10" cy="6.59" rx="3.00" ry="1.90" fill="#4ee04e" transform="rotate(67.5719994664667 21.10 6.59)"/>
<ellipse cx="21.10" cy="6.59" rx="1.60" ry="1.20" fill="#e0ffe0" transform="rotate(67.5719994664667 21.10 6.59)"/>
<ellipse cx="31.05" cy="12.27" rx="3.00" ry="1.90" fill="#4ee04e" transform="rotate(64.14407868009962 31.05 12.27)"/>
<ellipse cx="31.05" cy="12.27" rx="1.60" ry="1.20" fill="#e0ffe0" transform="rotate(64.14407868009962 31.05 12.27)"/>
<ellipse cx="42.03" cy="12.66" rx="3.00" ry="1.90" fill="#4ee04e" transform="rotate(11.830590068496122 42.03 12.66)"/>
<ellipse cx="42.03" cy="12.66" rx="1.60" ry="1.20" fill="#e0ffe0" transform="rotate(11.830590068496122 42.03 12.66)"/>
<ellipse cx="9.99" cy="15.89" rx="3.00" ry="1.90" fill="#4ee04e" transform="rotate(42.51607226066268 9.99 15.89)"/>
<ellipse cx="9.99" cy="15.89" rx="1.60" ry="1.20" fill="#e0ffe0" transform="rotate(42.51607226066268 9.99 15.89)"/>
<ellipse cx="29.11" cy="17.83" rx="3.00" ry="1.90" fill="#4ee04e" transform="rotate(-59.72812279195685 29.11 17.83)"/>
<ellipse cx="29.11" cy="17.83" rx="1.60" ry="1.20" fill="#e0ffe0" transform="rotate(-59.72812279195685 29.11 17.83)"/>
<ellipse cx="40.74" cy="20.41" rx="3.00" ry="1.90" fill="#4ee04e" transform="rotate(77.18737741214804 40.74 20.41)"/>
<ellipse cx="40.74" cy="20.41" rx="1.60" ry="1.20" fill="#e0ffe0" transform="rotate(77.18737741214804 40.74 20.41)"/>
<ellipse cx="51.07" cy="14.60" rx="3.00" ry="1.90" fill="#4ee04e" transform="rotate(28.452876360094763 51.07 14.60)"/>
<ellipse cx="51.07" cy="14.60" rx="1.60" ry="1.20" fill="#e0ffe0" transform="rotate(28.452876360094763 51.07 14.60)"/>
<ellipse cx="53.91" cy="13.30" rx="3.00" ry="1.90" fill="#4ee04e" transform="rotate(62.998668412236555 53.91 13.30)"/>
<ellipse cx="53.91" cy="13.30" rx="1.60" ry="1.20" fill="#e0ffe0" transform="rotate(62.998668412236555 53.91 13.30)"/>
<ellipse cx="49.13" cy="21.06" rx="3.00" ry="1.90" fill="#4ee04e" transform="rotate(-69.5776458598918 49.13 21.06)"/>
<ellipse cx="49.13" cy="21.06" rx="1.60" ry="1.20" fill="#e0ffe0" transform="rotate(-69.5776458598918 49.13 21.06)"/>
<ellipse cx="14.25" cy="24.29" rx="3.00" ry="1.90" fill="#4ee04e" transform="rotate(-25.936502139541574 14.25 24.29)"/>
<ellipse cx="14.25" cy="24.29" rx="1.60" ry="1.20" fill="#e0ffe0" transform="rotate(-25.936502139541574 14.25 24.29)"/>
<ellipse cx="9.99" cy="27.52" rx="3.00" ry="1.90" fill="#4ee04e" transform="rotate(-3.005058202101779 9.99 27.52)"/>
<ellipse cx="9.99" cy="27.52" rx="1.60" ry="1.20" fill="#e0ffe0" transform="rotate(-3.005058202101779 9.99 27.52)"/>
<ellipse cx="7.14" cy="30.49" rx="3.00" ry="1.90" fill="#4ee04e" transform="rotate(39.96720356660373 7.14 30.49)"/>
<ellipse cx="7.14" cy="30.49" rx="1.60" ry="1.20" fill="#e0ffe0" transform="rotate(39.96720356660373 7.14 30.49)"/>
<ellipse cx="25.23" cy="29.20" rx="3.00" ry="1.90" fill="#4ee04e" transform="rotate(12.563012649099932 25.23 29.20)"/>
<ellipse cx="25.23" cy="29.20" rx="1.60" ry="1.20" fill="#e0ffe0" transform="rotate(12.563012649099932 25.23 29.20)"/>
<ellipse cx="31.95" cy="29.45" rx="3.00" ry="1.90" fill="#4ee04e" transform="rotate(-48.55653271791869 31.95 29.45)"/>
<ellipse cx="31.95" cy="29.45" rx="1.60" ry="1.20" fill="#e0ffe0" transform="rotate(-48.55653271791869 31.95 29.45)"/>
<ellipse cx="38.80" cy="30.75" rx="3.00" ry="1.90" fill="#4ee04e" transform="rotate(-23.23308719073404 38.80 30.75)"/>
<ellipse cx="38.80" cy="30.75" rx="1.60" ry="1.20" fill="#e0ffe0" transform="rotate(-23.23308719073404 38.80 30.75)"/>
<ellipse cx="51.72" cy="28.55" rx="3.00" ry="1.90" fill="#4ee04e" transform="rotate(47.55626841461324 51.72 28.55)"/>
<ellipse cx="51.72" cy="28.55" rx="1.60" ry="1.20" fill="#e0ffe0" transform="rotate(47.55626841461324 51.72 28.55)"/>
<ellipse cx="55.59" cy="26.22" rx="3.00" ry="1.90" fill="#4ee04e" transform="rotate(-25.481514319324447 55.59 26.22)"/>
<ellipse cx="55.59" cy="26.22" rx="1.60" ry="1.20" fill="#e0ffe0" transform="rotate(-25.481514319324447 55.59 26.22)"/>
<ellipse cx="67.87" cy="24.29" rx="3.00" ry="1.90" fill="#4ee04e" transform="rotate(7.223045935718218 67.87 24.29)"/>
<ellipse cx="67.87" cy="24.29" rx="1.60" ry="1.20" fill="#e0ffe0" transform="rotate(7.223045935718218 67.87 24.29)"/>
<ellipse cx="62.05" cy="34.62" rx="3.00" ry="1.90" fill="#4ee04e" transform="rotate(-56.18111286028024 62.05 34.62)"/>
<ellipse cx="62.05" cy="34.62" rx="1.60" ry="1.20" fill="#e0ffe0" transform="rotate(-56.18111286028024 62.05 34.62)"/>
<ellipse cx="47.84" cy="36.56" rx="3.00" ry="1.90" fill="#4ee04e" transform="rotate(77.87185740548279 47.84 36.56)"/>
<ellipse cx="47.84" cy="36.56" rx="1.60" ry="1.20" fill="#e0ffe0" transform="rotate(77.87185740548279 47.84 36.56)"/>
<ellipse cx="14.90" cy="36.56" rx="3.00" ry="1.90" fill="#4ee04e" transform="rotate(52.207281887780255 14.90 36.56)"/>
<ellipse cx="14.90" cy="36.56" rx="1.60" ry="1.20" fill="#e0ffe0" transform="rotate(52.207281887780255 14.90 36.56)"/>
<ellipse cx="25.88" cy="38.24" rx="3.00" ry="1.90" fill="#4ee04e" transform="rotate(-74.76460480491588 25.88 38.24)"/>
<ellipse cx="25.88" cy="38.24" rx="1.60" ry="1.20" fill="#e0ffe0" transform="rotate(-74.76460480491588 25.88 38.24)"/>
<ellipse cx="30.40" cy="43.67" rx="3.00" ry="1.90" fill="#4ee04e" transform="rotate(71.9677700195038 30.40 43.67)"/>
<ellipse cx="30.40" cy="43.67" rx="1.60" ry="1.20" fill="#e0ffe0" transform="rotate(71.9677700195038 30.40 43.67)"/>
<ellipse cx="22.65" cy="46.64" rx="3.00" ry="1.90" fill="#4ee04e" transform="rotate(-56.12074487355875 22.65 46.64)"/>
<ellipse cx="22.65" cy="46.64" rx="1.60" ry="1.20" fill="#e0ffe0" transform="rotate(-56.12074487355875 22.65 46.64)"/>
<ellipse cx="22.65" cy="54.65" rx="3.00" ry="1.90" fill="#4ee04e" transform="rotate(56.36042734299886 22.65 54.65)"/>
<ellipse cx="22.65" cy="54.65" rx="1.60" ry="1.20" fill="#e0ffe0" transform="rotate(56.36042734299886 22.65 54.65)"/>
<ellipse cx="45.26" cy="54.65" rx="3.00" ry="1.90" fill="#4ee04e" transform="rotate(-3.3532079767757352 45.26 54.65)"/>
<ellipse cx="45.26" cy="54.65" rx="1.60" ry="1.20" fill="#e0ffe0" transform="rotate(-3.3532079767757352 45.26 54.65)"/>
<ellipse cx="73.04" cy="28.81" rx="3.00" ry="1.90" fill="#4ee04e" transform="rotate(78.14203206509572 73.04 28.81)"/>
<ellipse cx="73.04" cy="28.81" rx="1.60" ry="1.20" fill="#e0ffe0" transform="rotate(78.14203206509572 73.04 28.81)"/>
<ellipse cx="14.25" cy="24.29" rx="1.60" ry="1.30" fill="#d050e8"/>
<ellipse cx="15.54" cy="40.44" rx="1.60" ry="1.30" fill="#d050e8"/>
<ellipse cx="29.75" cy="43.41" rx="1.60" ry="1.30" fill="#d050e8"/>
<ellipse cx="22.65" cy="46.64" rx="1.60" ry="1.30" fill="#d050e8"/>
<ellipse cx="51.07" cy="28.55" rx="1.60" ry="1.30" fill="#d050e8"/>
<ellipse cx="36.21" cy="4.26" rx="1.60" ry="1.30" fill="#d050e8"/>
<ellipse cx="45.90" cy="6.59" rx="1.60" ry="1.30" fill="#d050e8"/>
<ellipse cx="51.07" cy="1.03" rx="1.60" ry="1.30" fill="#d050e8"/>
<ellipse cx="54.95" cy="2.32" rx="1.60" ry="1.30" fill="#d050e8"/>
<ellipse cx="9.73" cy="15.89" rx="1.60" ry="1.30" fill="#d050e8"/>
<ellipse cx="7.14" cy="30.49" rx="1.60" ry="1.30" fill="#d050e8"/>
</g>
<line x1="62.70" y1="56.30" x2="78.10" y2="56.30" stroke="#e8e8e8" stroke-width="1.0" />
<text transform="translate(70.50,54.40) scale(0.9259,1)" font-size="4.97" text-anchor="middle" fill="#d8d8d8" color="#d8d8d8" >50μm</text>
</svg>
<text transform="translate(111.00,9.70) scale(0.9259,1)" font-size="9.94" text-anchor="start" fill="#151515" color="#151515" >PDGFRα</text>
<text transform="translate(207.70,9.70) scale(0.9259,1)" font-size="9.94" text-anchor="middle" fill="#151515" color="#151515" >OLIG2</text>
<text transform="translate(293.50,9.70) scale(0.9259,1)" font-size="9.94" text-anchor="middle" fill="#151515" color="#151515" >Hoechst</text>
<text transform="translate(376.00,9.70) scale(0.9259,1)" font-size="10.10" text-anchor="middle" fill="#151515" color="#151515" >PDGFRα/OLIG2/Hoechst</text>
<text transform="translate(80.30,39.50) rotate(-90) scale(0.9259,1)" font-size="9.29" text-anchor="middle" fill="#151515" color="#151515" >CON</text>
<text transform="translate(80.30,94.40) rotate(-90) scale(0.9259,1)" font-size="9.29" text-anchor="middle" fill="#151515" color="#151515" >MET</text>
<text transform="translate(245.40,147.20) scale(0.9259,1)" font-size="9.72" text-anchor="middle" fill="#151515" color="#151515" >(a)</text>
<line x1="504.50" y1="19.40" x2="504.50" y2="127.80" stroke="#151515" stroke-width="1.6" />
<line x1="499.60" y1="127.10" x2="565.80" y2="127.10" stroke="#151515" stroke-width="1.6" />
<line x1="500.00" y1="127.10" x2="504.50" y2="127.10" stroke="#151515" stroke-width="1.2" />
<text transform="translate(497.90,130.60) scale(0.9259,1)" font-size="9.83" text-anchor="end" fill="#151515" color="#151515" >0.0</text>
<line x1="500.00" y1="105.70" x2="504.50" y2="105.70" stroke="#151515" stroke-width="1.2" />
<text transform="translate(497.90,109.20) scale(0.9259,1)" font-size="9.83" text-anchor="end" fill="#151515" color="#151515" >0.2</text>
<line x1="500.00" y1="84.30" x2="504.50" y2="84.30" stroke="#151515" stroke-width="1.2" />
<text transform="translate(497.90,87.80) scale(0.9259,1)" font-size="9.83" text-anchor="end" fill="#151515" color="#151515" >0.4</text>
<line x1="500.00" y1="62.90" x2="504.50" y2="62.90" stroke="#151515" stroke-width="1.2" />
<text transform="translate(497.90,66.40) scale(0.9259,1)" font-size="9.83" text-anchor="end" fill="#151515" color="#151515" >0.6</text>
<line x1="500.00" y1="41.50" x2="504.50" y2="41.50" stroke="#151515" stroke-width="1.2" />
<text transform="translate(497.90,45.00) scale(0.9259,1)" font-size="9.83" text-anchor="end" fill="#151515" color="#151515" >0.8</text>
<line x1="500.00" y1="20.10" x2="504.50" y2="20.10" stroke="#151515" stroke-width="1.2" />
<text transform="translate(497.90,23.60) scale(0.9259,1)" font-size="9.83" text-anchor="end" fill="#151515" color="#151515" >1.0</text>
<line x1="521.80" y1="127.10" x2="521.80" y2="131.00" stroke="#151515" stroke-width="1.4" />
<line x1="547.80" y1="127.10" x2="547.80" y2="131.00" stroke="#151515" stroke-width="1.4" />
<text transform="translate(523.20,139.70) scale(0.9259,1)" font-size="9.29" text-anchor="middle" fill="#151515" color="#151515" >CON</text>
<text transform="translate(551.00,139.70) scale(0.9259,1)" font-size="9.29" text-anchor="middle" fill="#151515" color="#151515" >MET</text>
<text transform="translate(538.00,154.30) scale(0.9259,1)" font-size="9.72" text-anchor="middle" fill="#151515" color="#151515" >(b)</text>
<path d="M513.7,127.1 L513.7,83.2 L530.0,83.2 L530.0,127.1" fill="none" stroke="#1a3cfa" stroke-width="1.7" />
<path d="M540.0,127.1 L540.0,37.7 L556.0,37.7 L556.0,127.1" fill="none" stroke="#ff0a12" stroke-width="1.7" />
<line x1="521.80" y1="78.50" x2="521.80" y2="86.50" stroke="#1a3cfa" stroke-width="1.1" />
<line x1="517.50" y1="78.50" x2="526.00" y2="78.50" stroke="#1a3cfa" stroke-width="1.1" />
<line x1="517.50" y1="86.50" x2="526.00" y2="86.50" stroke="#1a3cfa" stroke-width="1.1" />
<line x1="548.00" y1="34.30" x2="548.00" y2="40.80" stroke="#ff0a12" stroke-width="1.1" />
<line x1="544.20" y1="34.30" x2="551.80" y2="34.30" stroke="#ff0a12" stroke-width="1.1" />
<line x1="544.20" y1="40.80" x2="551.80" y2="40.80" stroke="#ff0a12" stroke-width="1.1" />
<circle cx="521.80" cy="63.70" r="1.35" fill="#1a3cfa"/>
<circle cx="518.90" cy="73.80" r="1.35" fill="#1a3cfa"/>
<circle cx="524.70" cy="74.20" r="1.35" fill="#1a3cfa"/>
<circle cx="515.80" cy="77.50" r="1.35" fill="#1a3cfa"/>
<circle cx="527.50" cy="76.90" r="1.35" fill="#1a3cfa"/>
<circle cx="521.80" cy="81.30" r="1.35" fill="#1a3cfa"/>
<circle cx="515.80" cy="96.90" r="1.35" fill="#1a3cfa"/>
<circle cx="521.80" cy="98.20" r="1.35" fill="#1a3cfa"/>
<circle cx="527.50" cy="100.40" r="1.35" fill="#1a3cfa"/>
<rect x="540.95" y="23.15" width="2.70" height="2.70" fill="#ff0a12" />
<rect x="546.45" y="24.05" width="2.70" height="2.70" fill="#ff0a12" />
<rect x="552.45" y="26.45" width="2.70" height="2.70" fill="#ff0a12" />
<rect x="549.35" y="30.45" width="2.70" height="2.70" fill="#ff0a12" />
<rect x="543.65" y="31.75" width="2.70" height="2.70" fill="#ff0a12" />
<rect x="543.65" y="38.15" width="2.70" height="2.70" fill="#ff0a12" />
<rect x="549.55" y="41.85" width="2.70" height="2.70" fill="#ff0a12" />
<rect x="543.65" y="51.75" width="2.70" height="2.70" fill="#ff0a12" />
<rect x="549.55" y="51.95" width="2.70" height="2.70" fill="#ff0a12" />
<line x1="527.30" y1="20.60" x2="537.40" y2="20.60" stroke="#151515" stroke-width="1.4" />
<text transform="translate(533.00,21.00) scale(0.9259,1)" font-size="10.80" text-anchor="middle" fill="#3a3a3a" color="#3a3a3a" letter-spacing="-0.6" style="stroke-width:0.3px">***</text>
<text transform="translate(478.00,77.00) rotate(-90) scale(0.9259,1)" font-size="9.72" text-anchor="middle" fill="#151515" color="#151515" >PDGFRα<tspan font-size="5.5" dy="-3.2">+</tspan><tspan dy="3.2">OLIG2</tspan><tspan font-size="5.5" dy="-3.2">+</tspan><tspan dy="3.2">/OLIG2</tspan><tspan font-size="5.5" dy="-3.2">+</tspan></text>
<line x1="503.30" y1="177.90" x2="503.30" y2="297.10" stroke="#151515" stroke-width="1.6" />
<line x1="497.80" y1="296.40" x2="560.80" y2="296.40" stroke="#151515" stroke-width="1.6" />
<line x1="498.40" y1="296.40" x2="503.30" y2="296.40" stroke="#151515" stroke-width="1.2" />
<text transform="translate(496.60,299.90) scale(0.9259,1)" font-size="9.83" text-anchor="end" fill="#151515" color="#151515" >0</text>
<line x1="498.40" y1="272.84" x2="503.30" y2="272.84" stroke="#151515" stroke-width="1.2" />
<text transform="translate(496.60,276.34) scale(0.9259,1)" font-size="9.83" text-anchor="end" fill="#151515" color="#151515" >10</text>
<line x1="498.40" y1="249.28" x2="503.30" y2="249.28" stroke="#151515" stroke-width="1.2" />
<text transform="translate(496.60,252.78) scale(0.9259,1)" font-size="9.83" text-anchor="end" fill="#151515" color="#151515" >20</text>
<line x1="498.40" y1="225.72" x2="503.30" y2="225.72" stroke="#151515" stroke-width="1.2" />
<text transform="translate(496.60,229.22) scale(0.9259,1)" font-size="9.83" text-anchor="end" fill="#151515" color="#151515" >30</text>
<line x1="498.40" y1="202.16" x2="503.30" y2="202.16" stroke="#151515" stroke-width="1.2" />
<text transform="translate(496.60,205.66) scale(0.9259,1)" font-size="9.83" text-anchor="end" fill="#151515" color="#151515" >40</text>
<line x1="498.40" y1="178.60" x2="503.30" y2="178.60" stroke="#151515" stroke-width="1.2" />
<text transform="translate(496.60,182.10) scale(0.9259,1)" font-size="9.83" text-anchor="end" fill="#151515" color="#151515" >50</text>
<line x1="519.50" y1="296.40" x2="519.50" y2="300.80" stroke="#151515" stroke-width="1.4" />
<line x1="544.00" y1="296.40" x2="544.00" y2="300.80" stroke="#151515" stroke-width="1.4" />
<text transform="translate(519.60,311.40) scale(0.9259,1)" font-size="9.29" text-anchor="middle" fill="#151515" color="#151515" >CON</text>
<text transform="translate(547.50,311.40) scale(0.9259,1)" font-size="9.29" text-anchor="middle" fill="#151515" color="#151515" >MET</text>
<text transform="translate(535.20,326.20) scale(0.9259,1)" font-size="9.72" text-anchor="middle" fill="#151515" color="#151515" >(e)</text>
<path d="M512.5,296.4 L512.5,256.9 L526.7,256.9 L526.7,296.4" fill="none" stroke="#1a3cfa" stroke-width="1.7" />
<path d="M537.2,296.4 L537.2,206.4 L551.0,206.4 L551.0,296.4" fill="none" stroke="#ff0a12" stroke-width="1.7" />
<line x1="519.60" y1="252.80" x2="519.60" y2="259.50" stroke="#1a3cfa" stroke-width="1.1" />
<line x1="516.00" y1="253.50" x2="523.50" y2="253.50" stroke="#1a3cfa" stroke-width="1.1" />
<circle cx="519.30" cy="252.40" r="1.35" fill="#1a3cfa"/>
<circle cx="521.20" cy="256.20" r="1.30" fill="#1a3cfa"/>
<circle cx="518.00" cy="258.00" r="1.30" fill="#1a3cfa"/>
<line x1="538.50" y1="204.60" x2="548.00" y2="204.60" stroke="#ff0a12" stroke-width="1.1" />
<rect x="537.50" y="202.30" width="2.20" height="2.20" fill="#ff0a12" />
<rect x="544.00" y="204.50" width="2.00" height="2.00" fill="#ff0a12" />
<line x1="526.10" y1="188.80" x2="536.80" y2="188.80" stroke="#151515" stroke-width="1.3" />
<text transform="translate(531.50,189.50) scale(0.9259,1)" font-size="10.80" text-anchor="middle" fill="#3a3a3a" color="#3a3a3a" letter-spacing="-0.6" style="stroke-width:0.3px">***</text>
<text transform="translate(478.20,237.40) rotate(-90) scale(0.9259,1)" font-size="9.72" text-anchor="middle" fill="#151515" color="#151515" >PDGFRα<tspan font-size="5.5" dy="-3.2">+</tspan><tspan dy="3.2"> cells /%</tspan></text>
<line x1="498.40" y1="360.60" x2="498.40" y2="485.60" stroke="#151515" stroke-width="1.6" />
<line x1="493.60" y1="484.90" x2="568.90" y2="484.90" stroke="#151515" stroke-width="1.6" />
<line x1="493.80" y1="484.90" x2="498.40" y2="484.90" stroke="#151515" stroke-width="1.2" />
<text transform="translate(488.80,488.40) scale(0.9259,1)" font-size="9.83" text-anchor="end" fill="#151515" color="#151515" >0.8</text>
<line x1="493.80" y1="453.97" x2="498.40" y2="453.97" stroke="#151515" stroke-width="1.2" />
<text transform="translate(488.80,457.47) scale(0.9259,1)" font-size="9.83" text-anchor="end" fill="#151515" color="#151515" >1.0</text>
<line x1="493.80" y1="423.04" x2="498.40" y2="423.04" stroke="#151515" stroke-width="1.2" />
<text transform="translate(488.80,426.54) scale(0.9259,1)" font-size="9.83" text-anchor="end" fill="#151515" color="#151515" >1.2</text>
<line x1="493.80" y1="392.11" x2="498.40" y2="392.11" stroke="#151515" stroke-width="1.2" />
<text transform="translate(488.80,395.61) scale(0.9259,1)" font-size="9.83" text-anchor="end" fill="#151515" color="#151515" >1.4</text>
<line x1="493.80" y1="361.18" x2="498.40" y2="361.18" stroke="#151515" stroke-width="1.2" />
<text transform="translate(488.80,364.68) scale(0.9259,1)" font-size="9.83" text-anchor="end" fill="#151515" color="#151515" >1.6</text>
<line x1="518.30" y1="484.90" x2="518.30" y2="489.60" stroke="#151515" stroke-width="1.4" />
<line x1="548.50" y1="484.90" x2="548.50" y2="489.60" stroke="#151515" stroke-width="1.4" />
<text transform="translate(518.00,499.80) scale(0.9259,1)" font-size="9.29" text-anchor="middle" fill="#151515" color="#151515" >CON</text>
<text transform="translate(546.00,499.80) scale(0.9259,1)" font-size="9.29" text-anchor="middle" fill="#151515" color="#151515" >MET</text>
<text transform="translate(534.60,515.20) scale(0.9259,1)" font-size="9.72" text-anchor="middle" fill="#151515" color="#151515" >(g)</text>
<path d="M509.9,484.9 L509.9,451.2 L526.7,451.2 L526.7,484.9" fill="none" stroke="#1a3cfa" stroke-width="1.7" />
<path d="M539.8,484.9 L539.8,401.5 L557.1,401.5 L557.1,484.9" fill="none" stroke="#ff0a12" stroke-width="1.7" />
<line x1="518.30" y1="445.10" x2="518.30" y2="453.60" stroke="#1a3cfa" stroke-width="1.1" />
<line x1="513.10" y1="445.10" x2="523.20" y2="445.10" stroke="#1a3cfa" stroke-width="1.1" />
<line x1="513.10" y1="453.60" x2="523.20" y2="453.60" stroke="#1a3cfa" stroke-width="1.1" />
<line x1="548.20" y1="395.30" x2="548.20" y2="404.10" stroke="#ff0a12" stroke-width="1.1" />
<line x1="544.20" y1="395.30" x2="553.00" y2="395.30" stroke="#ff0a12" stroke-width="1.1" />
<line x1="544.20" y1="404.10" x2="553.00" y2="404.10" stroke="#ff0a12" stroke-width="1.1" />
<circle cx="518.30" cy="431.20" r="1.35" fill="#1a3cfa"/>
<circle cx="516.10" cy="436.90" r="1.35" fill="#1a3cfa"/>
<circle cx="520.20" cy="441.60" r="1.35" fill="#1a3cfa"/>
<circle cx="520.20" cy="443.20" r="1.35" fill="#1a3cfa"/>
<circle cx="516.20" cy="448.10" r="1.35" fill="#1a3cfa"/>
<circle cx="516.10" cy="455.80" r="1.35" fill="#1a3cfa"/>
<circle cx="520.20" cy="457.00" r="1.35" fill="#1a3cfa"/>
<circle cx="516.10" cy="466.60" r="1.35" fill="#1a3cfa"/>
<circle cx="520.20" cy="467.10" r="1.35" fill="#1a3cfa"/>
<rect x="546.85" y="387.35" width="2.70" height="2.70" fill="#ff0a12" />
<rect x="550.15" y="388.15" width="2.70" height="2.70" fill="#ff0a12" />
<rect x="540.35" y="394.35" width="2.70" height="2.70" fill="#ff0a12" />
<rect x="543.15" y="393.15" width="2.70" height="2.70" fill="#ff0a12" />
<rect x="546.85" y="395.95" width="2.70" height="2.70" fill="#ff0a12" />
<rect x="553.65" y="398.05" width="2.70" height="2.70" fill="#ff0a12" />
<rect x="546.85" y="407.25" width="2.70" height="2.70" fill="#ff0a12" />
<rect x="546.85" y="424.45" width="2.70" height="2.70" fill="#ff0a12" />
<line x1="524.10" y1="379.40" x2="535.80" y2="379.40" stroke="#151515" stroke-width="1.3" />
<text transform="translate(530.00,380.10) scale(0.9259,1)" font-size="10.80" text-anchor="middle" fill="#3a3a3a" color="#3a3a3a" letter-spacing="-0.6" style="stroke-width:0.3px">***</text>
<text transform="translate(467.00,420.00) rotate(-90) scale(0.9259,1)" font-size="9.72" text-anchor="middle" fill="#151515" color="#151515" >Relative MBP<tspan font-size="5.5" dy="-3.2">+</tspan><tspan dy="3.2">/Hoechst</tspan></text>
<clipPath id="hcr"><path d="M114.40,302.20 L140.20,302.20 L142.70,301.00 L144.50,293.70 L145.70,278.20 L147.00,252.40 L148.40,226.60 L149.60,200.80 L150.50,186.20 L151.70,185.30 L153.10,187.90 L154.30,188.80 L155.30,200.80 L156.50,209.40 L158.20,224.90 L159.90,238.70 L161.70,249.00 L163.40,261.00 L165.60,274.80 L167.70,285.10 L170.30,290.30 L172.00,292.00 L174.60,295.40 L178.00,297.50 L181.50,298.00 L184.90,297.20 L188.30,299.20 L193.50,301.60 L196.90,302.20 L245.60,302.20 Z"/></clipPath>
<clipPath id="hcc"><path d="M141.90,302.20 L145.30,298.90 L147.90,285.10 L150.50,257.60 L153.10,231.80 L154.80,213.70 L156.50,218.00 L158.20,216.30 L159.90,217.20 L161.70,216.30 L164.20,219.70 L166.00,223.20 L167.70,231.80 L169.40,247.30 L171.10,261.00 L172.80,273.10 L174.60,283.40 L177.20,288.50 L179.70,292.00 L182.30,295.40 L184.90,295.40 L187.50,296.30 L190.10,298.50 L195.00,300.60 L198.90,302.20 Z"/></clipPath>
<path d="M141.90,302.20 L145.30,298.90 L147.90,285.10 L150.50,257.60 L153.10,231.80 L154.80,213.70 L156.50,218.00 L158.20,216.30 L159.90,217.20 L161.70,216.30 L164.20,219.70 L166.00,223.20 L167.70,231.80 L169.40,247.30 L171.10,261.00 L172.80,273.10 L174.60,283.40 L177.20,288.50 L179.70,292.00 L182.30,295.40 L184.90,295.40 L187.50,296.30 L190.10,298.50 L195.00,300.60 L198.90,302.20 Z" fill="#96fae6" />
<path d="M114.40,302.20 L140.20,302.20 L142.70,301.00 L144.50,293.70 L145.70,278.20 L147.00,252.40 L148.40,226.60 L149.60,200.80 L150.50,186.20 L151.70,185.30 L153.10,187.90 L154.30,188.80 L155.30,200.80 L156.50,209.40 L158.20,224.90 L159.90,238.70 L161.70,249.00 L163.40,261.00 L165.60,274.80 L167.70,285.10 L170.30,290.30 L172.00,292.00 L174.60,295.40 L178.00,297.50 L181.50,298.00 L184.90,297.20 L188.30,299.20 L193.50,301.60 L196.90,302.20 L245.60,302.20 Z" fill="#fa8cbe" />
<g clip-path="url(#hcc)">
<path d="M114.40,302.20 L140.20,302.20 L142.70,301.00 L144.50,293.70 L145.70,278.20 L147.00,252.40 L148.40,226.60 L149.60,200.80 L150.50,186.20 L151.70,185.30 L153.10,187.90 L154.30,188.80 L155.30,200.80 L156.50,209.40 L158.20,224.90 L159.90,238.70 L161.70,249.00 L163.40,261.00 L165.60,274.80 L167.70,285.10 L170.30,290.30 L172.00,292.00 L174.60,295.40 L178.00,297.50 L181.50,298.00 L184.90,297.20 L188.30,299.20 L193.50,301.60 L196.90,302.20 L245.60,302.20 Z" fill="#ae95c4" />
</g>
<path d="M141.90,302.20 L145.30,298.90 L147.90,285.10 L150.50,257.60 L153.10,231.80 L154.80,213.70 L156.50,218.00 L158.20,216.30 L159.90,217.20 L161.70,216.30 L164.20,219.70 L166.00,223.20 L167.70,231.80 L169.40,247.30 L171.10,261.00 L172.80,273.10 L174.60,283.40 L177.20,288.50 L179.70,292.00 L182.30,295.40 L184.90,295.40 L187.50,296.30 L190.10,298.50 L195.00,300.60 L198.90,302.20" fill="none" stroke="#48f4ee" stroke-width="1.2" stroke-linejoin="round"/>
<g clip-path="url(#hcr)">
<path d="M141.90,302.20 L145.30,298.90 L147.90,285.10 L150.50,257.60 L153.10,231.80 L154.80,213.70 L156.50,218.00 L158.20,216.30 L159.90,217.20 L161.70,216.30 L164.20,219.70 L166.00,223.20 L167.70,231.80 L169.40,247.30 L171.10,261.00 L172.80,273.10 L174.60,283.40 L177.20,288.50 L179.70,292.00 L182.30,295.40 L184.90,295.40 L187.50,296.30 L190.10,298.50 L195.00,300.60 L198.90,302.20" fill="none" stroke="#5096c8" stroke-width="1.2" stroke-linejoin="round"/>
</g>
<path d="M114.40,302.20 L140.20,302.20 L142.70,301.00 L144.50,293.70 L145.70,278.20 L147.00,252.40 L148.40,226.60 L149.60,200.80 L150.50,186.20 L151.70,185.30 L153.10,187.90 L154.30,188.80 L155.30,200.80 L156.50,209.40 L158.20,224.90 L159.90,238.70 L161.70,249.00 L163.40,261.00 L165.60,274.80 L167.70,285.10 L170.30,290.30 L172.00,292.00 L174.60,295.40 L178.00,297.50 L181.50,298.00 L184.90,297.20 L188.30,299.20 L193.50,301.60 L196.90,302.20 L245.60,302.20" fill="none" stroke="#fa1446" stroke-width="1.3" stroke-linejoin="round"/>
<rect x="114.40" y="171.50" width="131.20" height="130.90" fill="none" stroke="#505050" stroke-width="1.0" />
<line x1="114.40" y1="302.40" x2="245.60" y2="302.40" stroke="#222" stroke-width="1.2" />
<line x1="110.60" y1="302.00" x2="114.40" y2="302.00" stroke="#222" stroke-width="1.3" />
<text transform="translate(108.00,302.60) scale(0.9259,1)" font-size="9.29" text-anchor="end" fill="#151515" color="#151515" >0</text>
<line x1="112.40" y1="297.43" x2="114.40" y2="297.43" stroke="#333" stroke-width="0.8" />
<line x1="112.40" y1="292.86" x2="114.40" y2="292.86" stroke="#333" stroke-width="0.8" />
<line x1="112.40" y1="288.30" x2="114.40" y2="288.30" stroke="#333" stroke-width="0.8" />
<line x1="112.40" y1="283.73" x2="114.40" y2="283.73" stroke="#333" stroke-width="0.8" />
<line x1="110.60" y1="279.16" x2="114.40" y2="279.16" stroke="#222" stroke-width="1.3" />
<text transform="translate(108.00,280.86) scale(0.9259,1)" font-size="9.29" text-anchor="end" fill="#151515" color="#151515" >50</text>
<line x1="112.40" y1="274.59" x2="114.40" y2="274.59" stroke="#333" stroke-width="0.8" />
<line x1="112.40" y1="270.02" x2="114.40" y2="270.02" stroke="#333" stroke-width="0.8" />
<line x1="112.40" y1="265.46" x2="114.40" y2="265.46" stroke="#333" stroke-width="0.8" />
<line x1="112.40" y1="260.89" x2="114.40" y2="260.89" stroke="#333" stroke-width="0.8" />
<line x1="110.60" y1="256.32" x2="114.40" y2="256.32" stroke="#222" stroke-width="1.3" />
<text transform="translate(108.00,257.72) scale(0.9259,1)" font-size="9.29" text-anchor="end" fill="#151515" color="#151515" >100</text>
<line x1="112.40" y1="251.75" x2="114.40" y2="251.75" stroke="#333" stroke-width="0.8" />
<line x1="112.40" y1="247.18" x2="114.40" y2="247.18" stroke="#333" stroke-width="0.8" />
<line x1="112.40" y1="242.62" x2="114.40" y2="242.62" stroke="#333" stroke-width="0.8" />
<line x1="112.40" y1="238.05" x2="114.40" y2="238.05" stroke="#333" stroke-width="0.8" />
<line x1="110.60" y1="233.48" x2="114.40" y2="233.48" stroke="#222" stroke-width="1.3" />
<text transform="translate(108.00,235.28) scale(0.9259,1)" font-size="9.29" text-anchor="end" fill="#151515" color="#151515" >150</text>
<line x1="112.40" y1="228.91" x2="114.40" y2="228.91" stroke="#333" stroke-width="0.8" />
<line x1="112.40" y1="224.34" x2="114.40" y2="224.34" stroke="#333" stroke-width="0.8" />
<line x1="112.40" y1="219.78" x2="114.40" y2="219.78" stroke="#333" stroke-width="0.8" />
<line x1="112.40" y1="215.21" x2="114.40" y2="215.21" stroke="#333" stroke-width="0.8" />
<line x1="110.60" y1="210.64" x2="114.40" y2="210.64" stroke="#222" stroke-width="1.3" />
<text transform="translate(108.00,212.04) scale(0.9259,1)" font-size="9.29" text-anchor="end" fill="#151515" color="#151515" >200</text>
<line x1="112.40" y1="206.07" x2="114.40" y2="206.07" stroke="#333" stroke-width="0.8" />
<line x1="112.40" y1="201.50" x2="114.40" y2="201.50" stroke="#333" stroke-width="0.8" />
<line x1="112.40" y1="196.94" x2="114.40" y2="196.94" stroke="#333" stroke-width="0.8" />
<line x1="112.40" y1="192.37" x2="114.40" y2="192.37" stroke="#333" stroke-width="0.8" />
<line x1="110.60" y1="187.80" x2="114.40" y2="187.80" stroke="#222" stroke-width="1.3" />
<text transform="translate(108.00,190.20) scale(0.9259,1)" font-size="9.29" text-anchor="end" fill="#151515" color="#151515" >250</text>
<line x1="112.40" y1="183.23" x2="114.40" y2="183.23" stroke="#333" stroke-width="0.8" />
<line x1="112.40" y1="178.66" x2="114.40" y2="178.66" stroke="#333" stroke-width="0.8" />
<line x1="122.20" y1="302.40" x2="122.20" y2="305.70" stroke="#222" stroke-width="1.2" />
<line x1="165.50" y1="302.40" x2="165.50" y2="305.70" stroke="#222" stroke-width="1.2" />
<line x1="202.00" y1="302.40" x2="202.00" y2="305.70" stroke="#222" stroke-width="1.2" />
<line x1="232.70" y1="302.40" x2="232.70" y2="305.70" stroke="#222" stroke-width="1.2" />
<line x1="126.00" y1="302.40" x2="126.00" y2="304.20" stroke="#333" stroke-width="0.8" />
<line x1="129.00" y1="302.40" x2="129.00" y2="304.20" stroke="#333" stroke-width="0.8" />
<line x1="131.50" y1="302.40" x2="131.50" y2="304.20" stroke="#333" stroke-width="0.8" />
<line x1="134.00" y1="302.40" x2="134.00" y2="304.20" stroke="#333" stroke-width="0.8" />
<line x1="136.00" y1="302.40" x2="136.00" y2="304.20" stroke="#333" stroke-width="0.8" />
<line x1="138.00" y1="302.40" x2="138.00" y2="304.20" stroke="#333" stroke-width="0.8" />
<line x1="139.50" y1="302.40" x2="139.50" y2="304.20" stroke="#333" stroke-width="0.8" />
<line x1="141.00" y1="302.40" x2="141.00" y2="304.20" stroke="#333" stroke-width="0.8" />
<line x1="142.00" y1="302.40" x2="142.00" y2="304.20" stroke="#333" stroke-width="0.8" />
<line x1="143.00" y1="302.40" x2="143.00" y2="304.20" stroke="#333" stroke-width="0.8" />
<line x1="144.00" y1="302.40" x2="144.00" y2="304.20" stroke="#333" stroke-width="0.8" />
<line x1="145.00" y1="302.40" x2="145.00" y2="304.20" stroke="#333" stroke-width="0.8" />
<line x1="146.00" y1="302.40" x2="146.00" y2="304.20" stroke="#333" stroke-width="0.8" />
<line x1="147.00" y1="302.40" x2="147.00" y2="304.20" stroke="#333" stroke-width="0.8" />
<line x1="148.00" y1="302.40" x2="148.00" y2="304.20" stroke="#333" stroke-width="0.8" />
<line x1="150.50" y1="302.40" x2="150.50" y2="304.20" stroke="#333" stroke-width="0.8" />
<line x1="153.00" y1="302.40" x2="153.00" y2="304.20" stroke="#333" stroke-width="0.8" />
<line x1="155.50" y1="302.40" x2="155.50" y2="304.20" stroke="#333" stroke-width="0.8" />
<line x1="158.00" y1="302.40" x2="158.00" y2="304.20" stroke="#333" stroke-width="0.8" />
<line x1="160.00" y1="302.40" x2="160.00" y2="304.20" stroke="#333" stroke-width="0.8" />
<line x1="162.00" y1="302.40" x2="162.00" y2="304.20" stroke="#333" stroke-width="0.8" />
<line x1="163.50" y1="302.40" x2="163.50" y2="304.20" stroke="#333" stroke-width="0.8" />
<line x1="164.50" y1="302.40" x2="164.50" y2="304.20" stroke="#333" stroke-width="0.8" />
<line x1="176.00" y1="302.40" x2="176.00" y2="304.20" stroke="#333" stroke-width="0.8" />
<line x1="182.00" y1="302.40" x2="182.00" y2="304.20" stroke="#333" stroke-width="0.8" />
<line x1="186.00" y1="302.40" x2="186.00" y2="304.20" stroke="#333" stroke-width="0.8" />
<line x1="189.00" y1="302.40" x2="189.00" y2="304.20" stroke="#333" stroke-width="0.8" />
<line x1="191.50" y1="302.40" x2="191.50" y2="304.20" stroke="#333" stroke-width="0.8" />
<line x1="193.50" y1="302.40" x2="193.50" y2="304.20" stroke="#333" stroke-width="0.8" />
<line x1="195.50" y1="302.40" x2="195.50" y2="304.20" stroke="#333" stroke-width="0.8" />
<line x1="197.00" y1="302.40" x2="197.00" y2="304.20" stroke="#333" stroke-width="0.8" />
<line x1="198.50" y1="302.40" x2="198.50" y2="304.20" stroke="#333" stroke-width="0.8" />
<line x1="199.50" y1="302.40" x2="199.50" y2="304.20" stroke="#333" stroke-width="0.8" />
<line x1="211.00" y1="302.40" x2="211.00" y2="304.20" stroke="#333" stroke-width="0.8" />
<line x1="217.00" y1="302.40" x2="217.00" y2="304.20" stroke="#333" stroke-width="0.8" />
<line x1="221.00" y1="302.40" x2="221.00" y2="304.20" stroke="#333" stroke-width="0.8" />
<line x1="224.00" y1="302.40" x2="224.00" y2="304.20" stroke="#333" stroke-width="0.8" />
<line x1="226.50" y1="302.40" x2="226.50" y2="304.20" stroke="#333" stroke-width="0.8" />
<line x1="228.50" y1="302.40" x2="228.50" y2="304.20" stroke="#333" stroke-width="0.8" />
<line x1="230.00" y1="302.40" x2="230.00" y2="304.20" stroke="#333" stroke-width="0.8" />
<line x1="236.50" y1="302.40" x2="236.50" y2="304.20" stroke="#333" stroke-width="0.8" />
<line x1="242.50" y1="302.40" x2="242.50" y2="304.20" stroke="#333" stroke-width="0.8" />
<line x1="142.00" y1="302.40" x2="142.00" y2="304.80" stroke="#111" stroke-width="0.9" />
<line x1="142.80" y1="302.40" x2="142.80" y2="304.80" stroke="#111" stroke-width="0.9" />
<line x1="143.60" y1="302.40" x2="143.60" y2="304.80" stroke="#111" stroke-width="0.9" />
<line x1="144.40" y1="302.40" x2="144.40" y2="304.80" stroke="#111" stroke-width="0.9" />
<line x1="145.20" y1="302.40" x2="145.20" y2="304.80" stroke="#111" stroke-width="0.9" />
<line x1="146.00" y1="302.40" x2="146.00" y2="304.80" stroke="#111" stroke-width="0.9" />
<line x1="146.60" y1="302.40" x2="146.60" y2="304.80" stroke="#111" stroke-width="0.9" />
<text transform="translate(123.00,316.00) scale(0.9259,1)" font-size="9.29" text-anchor="middle" fill="#151515" color="#151515" >−10<tspan font-size="5.2" dy="-3.4">2</tspan></text>
<text transform="translate(148.40,316.00) scale(0.9259,1)" font-size="9.29" text-anchor="middle" fill="#151515" color="#151515" >0</text>
<text transform="translate(167.00,316.00) scale(0.9259,1)" font-size="9.29" text-anchor="middle" fill="#151515" color="#151515" >10<tspan font-size="5.2" dy="-3.4">3</tspan></text>
<text transform="translate(201.00,316.00) scale(0.9259,1)" font-size="9.29" text-anchor="middle" fill="#151515" color="#151515" >10<tspan font-size="5.2" dy="-3.4">4</tspan></text>
<text transform="translate(231.60,316.00) scale(0.9259,1)" font-size="9.29" text-anchor="middle" fill="#151515" color="#151515" >10<tspan font-size="5.2" dy="-3.4">5</tspan></text>
<text transform="translate(181.10,330.00) scale(0.9259,1)" font-size="9.72" text-anchor="middle" fill="#151515" color="#151515" >FITC–A</text>
<text transform="translate(182.20,344.40) scale(0.9259,1)" font-size="9.72" text-anchor="middle" fill="#151515" color="#151515" >(c)</text>
<text transform="translate(86.00,233.00) rotate(-90) scale(0.9259,1)" font-size="9.94" text-anchor="middle" fill="#151515" color="#151515" >Count</text>
<line x1="163.90" y1="212.40" x2="201.50" y2="212.40" stroke="#222" stroke-width="1.4" />
<line x1="164.00" y1="209.00" x2="164.00" y2="215.80" stroke="#222" stroke-width="1.4" />
<line x1="201.40" y1="209.00" x2="201.40" y2="215.80" stroke="#222" stroke-width="1.4" />
<text transform="translate(182.60,197.20) scale(0.9259,1)" font-size="7.13" text-anchor="middle" fill="#151515" color="#151515" >FITC–A subset</text>
<text transform="translate(182.40,203.90) scale(0.9259,1)" font-size="7.02" text-anchor="middle" fill="#151515" color="#151515" >39.3</text>
<rect x="172.30" y="237.80" width="70.20" height="23.50" fill="#fff" stroke="#222" stroke-width="1.1" />
<line x1="172.30" y1="244.90" x2="242.50" y2="244.90" stroke="#222" stroke-width="0.9" />
<line x1="172.30" y1="253.20" x2="242.50" y2="253.20" stroke="#222" stroke-width="0.9" />
<line x1="180.30" y1="237.80" x2="180.30" y2="261.30" stroke="#222" stroke-width="0.9" />
<line x1="219.40" y1="237.80" x2="219.40" y2="261.30" stroke="#222" stroke-width="0.9" />
<text transform="translate(199.85,243.40) scale(0.9259,1)" font-size="6.70" text-anchor="middle" fill="#151515" color="#151515" >Sample name</text>
<text transform="translate(239.70,243.40) scale(0.9259,1)" font-size="6.70" text-anchor="end" fill="#151515" color="#151515" >Count</text>
<text transform="translate(199.85,251.10) scale(0.9259,1)" font-size="6.70" text-anchor="middle" fill="#151515" color="#151515" >CON</text>
<text transform="translate(199.85,259.30) scale(0.9259,1)" font-size="6.70" text-anchor="middle" fill="#151515" color="#151515" >MET</text>
<text transform="translate(239.70,251.10) scale(0.9259,1)" font-size="6.70" text-anchor="end" fill="#151515" color="#151515" >7 851</text>
<text transform="translate(239.70,259.30) scale(0.9259,1)" font-size="6.70" text-anchor="end" fill="#151515" color="#151515" >8 385</text>
<rect x="174.45" y="247.20" width="3.69" height="3.69" fill="#ff1450" />
<rect x="174.45" y="255.40" width="3.69" height="3.69" fill="#7af5e0" />
<clipPath id="hdr"><path d="M289.50,297.30 L335.20,297.30 L336.30,287.60 L337.10,271.70 L337.90,255.90 L338.70,251.70 L339.70,254.30 L340.70,262.20 L341.90,270.20 L343.10,278.10 L343.90,280.10 L345.90,282.10 L347.50,286.00 L349.00,290.00 L351.00,292.00 L353.00,292.50 L355.40,291.60 L357.40,292.80 L360.20,294.80 L363.30,295.60 L367.30,296.50 L371.30,297.30 L416.60,297.30 Z"/></clipPath>
<clipPath id="hdc"><path d="M335.40,297.30 L336.20,285.00 L336.60,250.00 L337.20,215.00 L337.80,192.00 L338.40,178.60 L339.60,190.60 L340.80,207.80 L342.20,221.60 L343.90,233.60 L345.30,242.20 L345.90,251.90 L347.10,263.80 L348.70,273.30 L350.60,278.10 L353.00,285.20 L355.40,287.60 L358.60,287.20 L361.30,288.80 L363.30,292.40 L366.50,294.80 L370.50,296.50 L372.10,297.30 Z"/></clipPath>
<path d="M335.40,297.30 L336.20,285.00 L336.60,250.00 L337.20,215.00 L337.80,192.00 L338.40,178.60 L339.60,190.60 L340.80,207.80 L342.20,221.60 L343.90,233.60 L345.30,242.20 L345.90,251.90 L347.10,263.80 L348.70,273.30 L350.60,278.10 L353.00,285.20 L355.40,287.60 L358.60,287.20 L361.30,288.80 L363.30,292.40 L366.50,294.80 L370.50,296.50 L372.10,297.30 Z" fill="#96fae6" />
<path d="M289.50,297.30 L335.20,297.30 L336.30,287.60 L337.10,271.70 L337.90,255.90 L338.70,251.70 L339.70,254.30 L340.70,262.20 L341.90,270.20 L343.10,278.10 L343.90,280.10 L345.90,282.10 L347.50,286.00 L349.00,290.00 L351.00,292.00 L353.00,292.50 L355.40,291.60 L357.40,292.80 L360.20,294.80 L363.30,295.60 L367.30,296.50 L371.30,297.30 L416.60,297.30 Z" fill="#fa8cbe" />
<g clip-path="url(#hdc)">
<path d="M289.50,297.30 L335.20,297.30 L336.30,287.60 L337.10,271.70 L337.90,255.90 L338.70,251.70 L339.70,254.30 L340.70,262.20 L341.90,270.20 L343.10,278.10 L343.90,280.10 L345.90,282.10 L347.50,286.00 L349.00,290.00 L351.00,292.00 L353.00,292.50 L355.40,291.60 L357.40,292.80 L360.20,294.80 L363.30,295.60 L367.30,296.50 L371.30,297.30 L416.60,297.30 Z" fill="#ae95c4" />
</g>
<path d="M335.40,297.30 L336.20,285.00 L336.60,250.00 L337.20,215.00 L337.80,192.00 L338.40,178.60 L339.60,190.60 L340.80,207.80 L342.20,221.60 L343.90,233.60 L345.30,242.20 L345.90,251.90 L347.10,263.80 L348.70,273.30 L350.60,278.10 L353.00,285.20 L355.40,287.60 L358.60,287.20 L361.30,288.80 L363.30,292.40 L366.50,294.80 L370.50,296.50 L372.10,297.30" fill="none" stroke="#48f4ee" stroke-width="1.2" stroke-linejoin="round"/>
<g clip-path="url(#hdr)">
<path d="M335.40,297.30 L336.20,285.00 L336.60,250.00 L337.20,215.00 L337.80,192.00 L338.40,178.60 L339.60,190.60 L340.80,207.80 L342.20,221.60 L343.90,233.60 L345.30,242.20 L345.90,251.90 L347.10,263.80 L348.70,273.30 L350.60,278.10 L353.00,285.20 L355.40,287.60 L358.60,287.20 L361.30,288.80 L363.30,292.40 L366.50,294.80 L370.50,296.50 L372.10,297.30" fill="none" stroke="#5096c8" stroke-width="1.2" stroke-linejoin="round"/>
</g>
<path d="M289.50,297.30 L335.20,297.30 L336.30,287.60 L337.10,271.70 L337.90,255.90 L338.70,251.70 L339.70,254.30 L340.70,262.20 L341.90,270.20 L343.10,278.10 L343.90,280.10 L345.90,282.10 L347.50,286.00 L349.00,290.00 L351.00,292.00 L353.00,292.50 L355.40,291.60 L357.40,292.80 L360.20,294.80 L363.30,295.60 L367.30,296.50 L371.30,297.30 L416.60,297.30" fill="none" stroke="#fa1446" stroke-width="1.3" stroke-linejoin="round"/>
<rect x="289.50" y="170.80" width="127.10" height="126.80" fill="none" stroke="#505050" stroke-width="1.0" />
<line x1="289.50" y1="297.60" x2="416.60" y2="297.60" stroke="#222" stroke-width="1.2" />
<line x1="285.60" y1="297.20" x2="289.50" y2="297.20" stroke="#222" stroke-width="1.3" />
<text transform="translate(283.80,295.90) scale(0.9259,1)" font-size="9.29" text-anchor="end" fill="#151515" color="#151515" >0</text>
<line x1="287.50" y1="290.56" x2="289.50" y2="290.56" stroke="#333" stroke-width="0.8" />
<line x1="287.50" y1="283.92" x2="289.50" y2="283.92" stroke="#333" stroke-width="0.8" />
<line x1="287.50" y1="277.28" x2="289.50" y2="277.28" stroke="#333" stroke-width="0.8" />
<line x1="287.50" y1="270.64" x2="289.50" y2="270.64" stroke="#333" stroke-width="0.8" />
<line x1="285.60" y1="264.00" x2="289.50" y2="264.00" stroke="#222" stroke-width="1.3" />
<text transform="translate(283.80,264.50) scale(0.9259,1)" font-size="9.29" text-anchor="end" fill="#151515" color="#151515" >50</text>
<line x1="287.50" y1="257.36" x2="289.50" y2="257.36" stroke="#333" stroke-width="0.8" />
<line x1="287.50" y1="250.72" x2="289.50" y2="250.72" stroke="#333" stroke-width="0.8" />
<line x1="287.50" y1="244.08" x2="289.50" y2="244.08" stroke="#333" stroke-width="0.8" />
<line x1="287.50" y1="237.44" x2="289.50" y2="237.44" stroke="#333" stroke-width="0.8" />
<line x1="285.60" y1="230.80" x2="289.50" y2="230.80" stroke="#222" stroke-width="1.3" />
<text transform="translate(283.80,232.60) scale(0.9259,1)" font-size="9.29" text-anchor="end" fill="#151515" color="#151515" >100</text>
<line x1="287.50" y1="224.16" x2="289.50" y2="224.16" stroke="#333" stroke-width="0.8" />
<line x1="287.50" y1="217.52" x2="289.50" y2="217.52" stroke="#333" stroke-width="0.8" />
<line x1="287.50" y1="210.88" x2="289.50" y2="210.88" stroke="#333" stroke-width="0.8" />
<line x1="287.50" y1="204.24" x2="289.50" y2="204.24" stroke="#333" stroke-width="0.8" />
<line x1="285.60" y1="197.60" x2="289.50" y2="197.60" stroke="#222" stroke-width="1.3" />
<text transform="translate(283.80,200.60) scale(0.9259,1)" font-size="9.29" text-anchor="end" fill="#151515" color="#151515" >150</text>
<line x1="287.50" y1="190.96" x2="289.50" y2="190.96" stroke="#333" stroke-width="0.8" />
<line x1="287.50" y1="184.32" x2="289.50" y2="184.32" stroke="#333" stroke-width="0.8" />
<line x1="287.50" y1="177.68" x2="289.50" y2="177.68" stroke="#333" stroke-width="0.8" />
<line x1="296.40" y1="297.60" x2="296.40" y2="300.90" stroke="#222" stroke-width="1.2" />
<line x1="318.50" y1="297.60" x2="318.50" y2="300.90" stroke="#222" stroke-width="1.2" />
<line x1="339.60" y1="297.60" x2="339.60" y2="300.90" stroke="#222" stroke-width="1.2" />
<line x1="373.40" y1="297.60" x2="373.40" y2="300.90" stroke="#222" stroke-width="1.2" />
<line x1="404.30" y1="297.60" x2="404.30" y2="300.90" stroke="#222" stroke-width="1.2" />
<line x1="300.00" y1="297.60" x2="300.00" y2="299.40" stroke="#333" stroke-width="0.8" />
<line x1="303.00" y1="297.60" x2="303.00" y2="299.40" stroke="#333" stroke-width="0.8" />
<line x1="306.00" y1="297.60" x2="306.00" y2="299.40" stroke="#333" stroke-width="0.8" />
<line x1="308.50" y1="297.60" x2="308.50" y2="299.40" stroke="#333" stroke-width="0.8" />
<line x1="310.50" y1="297.60" x2="310.50" y2="299.40" stroke="#333" stroke-width="0.8" />
<line x1="312.00" y1="297.60" x2="312.00" y2="299.40" stroke="#333" stroke-width="0.8" />
<line x1="313.50" y1="297.60" x2="313.50" y2="299.40" stroke="#333" stroke-width="0.8" />
<line x1="314.50" y1="297.60" x2="314.50" y2="299.40" stroke="#333" stroke-width="0.8" />
<line x1="315.50" y1="297.60" x2="315.50" y2="299.40" stroke="#333" stroke-width="0.8" />
<line x1="316.50" y1="297.60" x2="316.50" y2="299.40" stroke="#333" stroke-width="0.8" />
<line x1="317.50" y1="297.60" x2="317.50" y2="299.40" stroke="#333" stroke-width="0.8" />
<line x1="318.50" y1="297.60" x2="318.50" y2="299.40" stroke="#333" stroke-width="0.8" />
<line x1="319.50" y1="297.60" x2="319.50" y2="299.40" stroke="#333" stroke-width="0.8" />
<line x1="320.50" y1="297.60" x2="320.50" y2="299.40" stroke="#333" stroke-width="0.8" />
<line x1="322.50" y1="297.60" x2="322.50" y2="299.40" stroke="#333" stroke-width="0.8" />
<line x1="324.50" y1="297.60" x2="324.50" y2="299.40" stroke="#333" stroke-width="0.8" />
<line x1="326.50" y1="297.60" x2="326.50" y2="299.40" stroke="#333" stroke-width="0.8" />
<line x1="328.50" y1="297.60" x2="328.50" y2="299.40" stroke="#333" stroke-width="0.8" />
<line x1="331.00" y1="297.60" x2="331.00" y2="299.40" stroke="#333" stroke-width="0.8" />
<line x1="333.50" y1="297.60" x2="333.50" y2="299.40" stroke="#333" stroke-width="0.8" />
<line x1="336.00" y1="297.60" x2="336.00" y2="299.40" stroke="#333" stroke-width="0.8" />
<line x1="338.00" y1="297.60" x2="338.00" y2="299.40" stroke="#333" stroke-width="0.8" />
<line x1="340.00" y1="297.60" x2="340.00" y2="299.40" stroke="#333" stroke-width="0.8" />
<line x1="351.50" y1="297.60" x2="351.50" y2="299.40" stroke="#333" stroke-width="0.8" />
<line x1="357.00" y1="297.60" x2="357.00" y2="299.40" stroke="#333" stroke-width="0.8" />
<line x1="360.50" y1="297.60" x2="360.50" y2="299.40" stroke="#333" stroke-width="0.8" />
<line x1="363.00" y1="297.60" x2="363.00" y2="299.40" stroke="#333" stroke-width="0.8" />
<line x1="365.00" y1="297.60" x2="365.00" y2="299.40" stroke="#333" stroke-width="0.8" />
<line x1="367.00" y1="297.60" x2="367.00" y2="299.40" stroke="#333" stroke-width="0.8" />
<line x1="368.50" y1="297.60" x2="368.50" y2="299.40" stroke="#333" stroke-width="0.8" />
<line x1="370.00" y1="297.60" x2="370.00" y2="299.40" stroke="#333" stroke-width="0.8" />
<line x1="371.50" y1="297.60" x2="371.50" y2="299.40" stroke="#333" stroke-width="0.8" />
<line x1="382.50" y1="297.60" x2="382.50" y2="299.40" stroke="#333" stroke-width="0.8" />
<line x1="388.00" y1="297.60" x2="388.00" y2="299.40" stroke="#333" stroke-width="0.8" />
<line x1="391.50" y1="297.60" x2="391.50" y2="299.40" stroke="#333" stroke-width="0.8" />
<line x1="394.00" y1="297.60" x2="394.00" y2="299.40" stroke="#333" stroke-width="0.8" />
<line x1="396.00" y1="297.60" x2="396.00" y2="299.40" stroke="#333" stroke-width="0.8" />
<line x1="398.00" y1="297.60" x2="398.00" y2="299.40" stroke="#333" stroke-width="0.8" />
<line x1="400.00" y1="297.60" x2="400.00" y2="299.40" stroke="#333" stroke-width="0.8" />
<line x1="401.50" y1="297.60" x2="401.50" y2="299.40" stroke="#333" stroke-width="0.8" />
<line x1="410.00" y1="297.60" x2="410.00" y2="299.40" stroke="#333" stroke-width="0.8" />
<line x1="415.00" y1="297.60" x2="415.00" y2="299.40" stroke="#333" stroke-width="0.8" />
<line x1="315.80" y1="297.60" x2="315.80" y2="300.00" stroke="#111" stroke-width="0.9" />
<line x1="316.60" y1="297.60" x2="316.60" y2="300.00" stroke="#111" stroke-width="0.9" />
<line x1="317.40" y1="297.60" x2="317.40" y2="300.00" stroke="#111" stroke-width="0.9" />
<line x1="318.20" y1="297.60" x2="318.20" y2="300.00" stroke="#111" stroke-width="0.9" />
<line x1="319.00" y1="297.60" x2="319.00" y2="300.00" stroke="#111" stroke-width="0.9" />
<line x1="319.80" y1="297.60" x2="319.80" y2="300.00" stroke="#111" stroke-width="0.9" />
<line x1="320.40" y1="297.60" x2="320.40" y2="300.00" stroke="#111" stroke-width="0.9" />
<text transform="translate(295.30,311.80) scale(0.9259,1)" font-size="9.29" text-anchor="middle" fill="#151515" color="#151515" >−10<tspan font-size="5.2" dy="-3.4">3</tspan></text>
<text transform="translate(321.40,311.80) scale(0.9259,1)" font-size="9.29" text-anchor="middle" fill="#151515" color="#151515" >0</text>
<text transform="translate(341.10,311.80) scale(0.9259,1)" font-size="9.29" text-anchor="middle" fill="#151515" color="#151515" >10<tspan font-size="5.2" dy="-3.4">3</tspan></text>
<text transform="translate(373.60,311.80) scale(0.9259,1)" font-size="9.29" text-anchor="middle" fill="#151515" color="#151515" >10<tspan font-size="5.2" dy="-3.4">4</tspan></text>
<text transform="translate(404.40,311.80) scale(0.9259,1)" font-size="9.29" text-anchor="middle" fill="#151515" color="#151515" >10<tspan font-size="5.2" dy="-3.4">5</tspan></text>
<text transform="translate(353.00,326.40) scale(0.9259,1)" font-size="9.72" text-anchor="middle" fill="#151515" color="#151515" >FITC–A</text>
<text transform="translate(351.60,339.10) scale(0.9259,1)" font-size="9.72" text-anchor="middle" fill="#151515" color="#151515" >(d)</text>
<text transform="translate(265.80,229.00) rotate(-90) scale(0.9259,1)" font-size="9.94" text-anchor="middle" fill="#151515" color="#151515" >Count</text>
<rect x="345.80" y="193.10" width="68.40" height="22.30" fill="#fff" stroke="#222" stroke-width="1.1" />
<line x1="345.80" y1="200.00" x2="414.20" y2="200.00" stroke="#222" stroke-width="0.9" />
<line x1="345.80" y1="207.40" x2="414.20" y2="207.40" stroke="#222" stroke-width="0.9" />
<line x1="353.10" y1="193.10" x2="353.10" y2="215.40" stroke="#222" stroke-width="0.9" />
<line x1="391.50" y1="193.10" x2="391.50" y2="215.40" stroke="#222" stroke-width="0.9" />
<text transform="translate(372.30,198.46) scale(0.9259,1)" font-size="6.26" text-anchor="middle" fill="#151515" color="#151515" >Sample name</text>
<text transform="translate(413.00,198.46) scale(0.9259,1)" font-size="6.26" text-anchor="end" fill="#151515" color="#151515" >Count</text>
<text transform="translate(372.30,205.61) scale(0.9259,1)" font-size="6.26" text-anchor="middle" fill="#151515" color="#151515" >CON</text>
<text transform="translate(372.30,213.31) scale(0.9259,1)" font-size="6.26" text-anchor="middle" fill="#151515" color="#151515" >MET</text>
<text transform="translate(413.00,205.61) scale(0.9259,1)" font-size="6.26" text-anchor="end" fill="#151515" color="#151515" >1 241</text>
<text transform="translate(413.00,213.31) scale(0.9259,1)" font-size="6.26" text-anchor="end" fill="#151515" color="#151515" >3 297</text>
<rect x="347.66" y="201.91" width="3.59" height="3.59" fill="#ff1450" />
<rect x="347.66" y="209.61" width="3.59" height="3.59" fill="#7af5e0" />
<svg x="93.10" y="370.00" width="105.70" height="62.80" overflow="hidden">
<rect x="0.00" y="0.00" width="105.70" height="62.80" fill="#060606" />
<g filter="url(#bl3)">
<ellipse cx="63.70" cy="12.00" rx="9.00" ry="7.50" fill="#0f300f"/>
<ellipse cx="24.90" cy="30.00" rx="7.00" ry="6.00" fill="#0b240b"/>
</g>
<g filter="url(#bl)">
</g><g filter="url(#bl2)">
<ellipse cx="63.70" cy="12.50" rx="5.8" ry="4.8" fill="#123a12" stroke="#2a8a2a" stroke-width="2.2"/>
</g><g filter="url(#bl)">
<ellipse cx="29.70" cy="34.60" rx="4.00" ry="5.00" fill="#52e852" transform="rotate(10 29.70 34.60)"/>
<ellipse cx="30.50" cy="34.00" rx="0.90" ry="1.00" fill="#226a22"/>
<line x1="38.90" y1="14.60" x2="52.50" y2="21.00" stroke="#40d040" stroke-width="2.4" stroke-linecap="round"/>
<ellipse cx="39.70" cy="14.80" rx="2.80" ry="1.90" fill="#60f060" transform="rotate(25 39.70 14.80)"/>
<ellipse cx="52.50" cy="21.00" rx="1.90" ry="1.60" fill="#50e050"/>
<ellipse cx="78.10" cy="25.50" rx="5.4" ry="4.6" fill="#1e7a1e" stroke="#4ce04c" stroke-width="2.2"/>
<ellipse cx="76.80" cy="24.90" rx="2.00" ry="2.20" fill="#0a250a"/>
<line x1="96.90" y1="22.00" x2="101.90" y2="43.00" stroke="#3cc83c" stroke-width="1.5" stroke-linecap="round"/>
<ellipse cx="99.40" cy="32.50" rx="2.20" ry="3.80" fill="#4ce04c" transform="rotate(-15 99.40 32.50)"/>
<path d="M3.90,66.00 Q16.90,53.50 40.90,52.80 Q56.90,53.50 71.40,63.00" fill="none" stroke="#38c038" stroke-width="1.1" />
<ellipse cx="46.40" cy="53.60" rx="4.00" ry="3.00" fill="#4ce04c"/>
<ellipse cx="6.90" cy="8.00" rx="0.70" ry="0.70" fill="#1a5a1a"/>
<ellipse cx="16.90" cy="12.00" rx="0.70" ry="0.70" fill="#1a5a1a"/>
<ellipse cx="4.90" cy="35.00" rx="0.70" ry="0.70" fill="#1a5a1a"/>
<ellipse cx="10.90" cy="42.00" rx="0.70" ry="0.70" fill="#1a5a1a"/>
<ellipse cx="92.90" cy="8.00" rx="0.70" ry="0.70" fill="#1a5a1a"/>
<ellipse cx="86.90" cy="40.00" rx="0.70" ry="0.70" fill="#1a5a1a"/>
<ellipse cx="36.90" cy="40.00" rx="0.70" ry="0.70" fill="#1a5a1a"/>
<ellipse cx="56.90" cy="35.00" rx="0.70" ry="0.70" fill="#1a5a1a"/>
<ellipse cx="81.90" cy="55.00" rx="0.70" ry="0.70" fill="#1a5a1a"/>
<ellipse cx="16.90" cy="25.00" rx="0.70" ry="0.70" fill="#1a5a1a"/>
</g>
</svg>
<svg x="200.30" y="370.00" width="104.70" height="62.80" overflow="hidden">
<rect x="0.00" y="0.00" width="104.70" height="62.80" fill="#050508" />
<g filter="url(#bl)">
<ellipse cx="7.00" cy="33.60" rx="2.10" ry="2.10" fill="#2040ff"/>
<ellipse cx="30.70" cy="34.80" rx="2.00" ry="2.50" fill="#2040ff"/>
<ellipse cx="42.00" cy="29.30" rx="1.50" ry="1.50" fill="#2040ff"/>
<ellipse cx="50.20" cy="21.20" rx="1.20" ry="3.60" fill="#2040ff" transform="rotate(-35 50.20 21.20)"/>
<ellipse cx="63.40" cy="11.90" rx="3.40" ry="2.40" fill="#2040ff"/>
<ellipse cx="75.20" cy="25.00" rx="2.50" ry="2.60" fill="#2040ff"/>
<ellipse cx="98.00" cy="33.10" rx="1.70" ry="2.10" fill="#2040ff"/>
<ellipse cx="44.70" cy="53.00" rx="3.00" ry="2.00" fill="#2040ff" transform="rotate(-15 44.70 53.00)"/>
</g>
</svg>
<svg x="308.20" y="370.00" width="105.00" height="62.80" overflow="hidden">
<rect x="0.00" y="0.00" width="105.00" height="62.80" fill="#050607" />
<g filter="url(#bl3)">
<ellipse cx="63.70" cy="12.00" rx="9.00" ry="7.50" fill="#0f300f"/>
<ellipse cx="24.90" cy="30.00" rx="7.00" ry="6.00" fill="#0b240b"/>
</g>
<g filter="url(#bl)">
</g><g filter="url(#bl2)">
<ellipse cx="63.70" cy="12.50" rx="5.8" ry="4.8" fill="#123a12" stroke="#2a8a2a" stroke-width="2.2"/>
</g><g filter="url(#bl)">
<ellipse cx="29.70" cy="34.60" rx="4.00" ry="5.00" fill="#52e852" transform="rotate(10 29.70 34.60)"/>
<ellipse cx="30.50" cy="34.00" rx="0.90" ry="1.00" fill="#226a22"/>
<line x1="38.90" y1="14.60" x2="52.50" y2="21.00" stroke="#40d040" stroke-width="2.4" stroke-linecap="round"/>
<ellipse cx="39.70" cy="14.80" rx="2.80" ry="1.90" fill="#60f060" transform="rotate(25 39.70 14.80)"/>
<ellipse cx="52.50" cy="21.00" rx="1.90" ry="1.60" fill="#50e050"/>
<ellipse cx="78.10" cy="25.50" rx="5.4" ry="4.6" fill="#1e7a1e" stroke="#4ce04c" stroke-width="2.2"/>
<ellipse cx="76.80" cy="24.90" rx="2.00" ry="2.20" fill="#0a250a"/>
<line x1="96.90" y1="22.00" x2="101.90" y2="43.00" stroke="#3cc83c" stroke-width="1.5" stroke-linecap="round"/>
<ellipse cx="99.40" cy="32.50" rx="2.20" ry="3.80" fill="#4ce04c" transform="rotate(-15 99.40 32.50)"/>
<path d="M3.90,66.00 Q16.90,53.50 40.90,52.80 Q56.90,53.50 71.40,63.00" fill="none" stroke="#38c038" stroke-width="1.1" />
<ellipse cx="46.40" cy="53.60" rx="4.00" ry="3.00" fill="#4ce04c"/>
<ellipse cx="6.90" cy="8.00" rx="0.70" ry="0.70" fill="#1a5a1a"/>
<ellipse cx="16.90" cy="12.00" rx="0.70" ry="0.70" fill="#1a5a1a"/>
<ellipse cx="4.90" cy="35.00" rx="0.70" ry="0.70" fill="#1a5a1a"/>
<ellipse cx="10.90" cy="42.00" rx="0.70" ry="0.70" fill="#1a5a1a"/>
<ellipse cx="92.90" cy="8.00" rx="0.70" ry="0.70" fill="#1a5a1a"/>
<ellipse cx="86.90" cy="40.00" rx="0.70" ry="0.70" fill="#1a5a1a"/>
<ellipse cx="36.90" cy="40.00" rx="0.70" ry="0.70" fill="#1a5a1a"/>
<ellipse cx="56.90" cy="35.00" rx="0.70" ry="0.70" fill="#1a5a1a"/>
<ellipse cx="81.90" cy="55.00" rx="0.70" ry="0.70" fill="#1a5a1a"/>
<ellipse cx="16.90" cy="25.00" rx="0.70" ry="0.70" fill="#1a5a1a"/>
</g>
<g filter="url(#bl)">
<ellipse cx="7.00" cy="33.60" rx="2.10" ry="2.10" fill="#2040ff"/>
<ellipse cx="30.70" cy="34.80" rx="2.00" ry="2.50" fill="#2040ff"/>
<ellipse cx="42.00" cy="29.30" rx="1.50" ry="1.50" fill="#2040ff"/>
<ellipse cx="50.20" cy="21.20" rx="1.20" ry="3.60" fill="#2040ff" transform="rotate(-35 50.20 21.20)"/>
<ellipse cx="63.40" cy="11.90" rx="3.40" ry="2.40" fill="#2040ff"/>
<ellipse cx="75.20" cy="25.00" rx="2.50" ry="2.60" fill="#2040ff"/>
<ellipse cx="98.00" cy="33.10" rx="1.70" ry="2.10" fill="#2040ff"/>
<ellipse cx="44.70" cy="53.00" rx="3.00" ry="2.00" fill="#2040ff" transform="rotate(-15 44.70 53.00)"/>
</g>
</svg>
<svg x="93.10" y="435.90" width="105.70" height="62.60" overflow="hidden">
<rect x="0.00" y="0.00" width="105.70" height="62.60" fill="#060606" />
<g filter="url(#bl3)">
<ellipse cx="16.90" cy="24.10" rx="9.00" ry="10.00" fill="#0b220b"/>
<ellipse cx="48.90" cy="19.10" rx="7.00" ry="6.00" fill="#0b220b"/>
<ellipse cx="56.90" cy="34.10" rx="6.00" ry="7.00" fill="#0b220b"/>
<ellipse cx="73.90" cy="24.10" rx="7.00" ry="5.00" fill="#0b220b"/>
<ellipse cx="78.90" cy="31.10" rx="6.00" ry="6.00" fill="#0b220b"/>
<ellipse cx="76.90" cy="46.10" rx="7.00" ry="5.00" fill="#0b220b"/>
<ellipse cx="66.90" cy="52.10" rx="6.00" ry="6.00" fill="#0b220b"/>
</g>
<g filter="url(#bl)">
<path d="M8.20,12.30 L12.40,12.30 L16.60,17.70 L23.20,18.50 L29.50,17.10 L27.90,20.30 L20.70,24.50 L17.30,27.10 L17.10,32.90 L9.90,35.70 L11.40,27.60 L7.90,18.40 L6.50,15.70 Z" fill="#40d440" stroke="#40d440" stroke-width="0.8" stroke-linejoin="round"/>
<path d="M42.20,15.70 L46.60,13.00 L52.70,16.90 L53.90,19.30 L53.50,21.90 L49.10,23.30 L42.90,21.10 Z" fill="#5cf25c" stroke="#5cf25c" stroke-width="0.8" stroke-linejoin="round"/>
<path d="M53.30,26.40 L56.90,25.30 L58.70,28.70 L65.30,33.50 L60.50,34.10 L56.90,33.00 L54.20,31.10 Z" fill="#3ccc3c" stroke="#3ccc3c" stroke-width="0.8" stroke-linejoin="round"/>
<path d="M51.20,34.40 L55.10,33.50 L56.60,38.20 L55.70,43.90 L52.30,42.10 L50.70,38.20 Z" fill="#46d846" stroke="#46d846" stroke-width="0.8" stroke-linejoin="round"/>
<path d="M65.70,23.70 L70.50,20.30 L76.20,18.90 L75.20,23.00 L69.60,25.30 L66.20,25.30 Z" fill="#40d040" stroke="#40d040" stroke-width="0.8" stroke-linejoin="round"/>
<path d="M74.80,29.10 L79.60,26.10 L83.40,28.10 L82.90,32.10 L78.70,35.30 L75.70,33.90 Z" fill="#4ee44e" stroke="#4ee44e" stroke-width="0.8" stroke-linejoin="round"/>
<path d="M74.80,41.60 L79.60,42.50 L83.90,44.90 L83.40,47.50 L78.70,48.00 L75.70,45.70 Z" fill="#48dc48" stroke="#48dc48" stroke-width="0.8" stroke-linejoin="round"/>
<path d="M63.00,47.10 L68.70,43.90 L73.40,46.30 L71.70,50.90 L71.70,56.50 L67.80,58.40 L66.20,53.70 L62.60,50.90 Z" fill="#44d644" stroke="#44d644" stroke-width="0.8" stroke-linejoin="round"/>
<ellipse cx="16.60" cy="22.10" rx="1.60" ry="1.80" fill="#1f701f"/>
<ellipse cx="48.40" cy="18.10" rx="0.80" ry="0.80" fill="#1f701f"/>
<ellipse cx="55.50" cy="29.90" rx="0.90" ry="0.90" fill="#1f701f"/>
<ellipse cx="53.20" cy="38.60" rx="0.90" ry="1.60" fill="#1f701f"/>
<ellipse cx="70.40" cy="22.70" rx="1.40" ry="0.80" fill="#1f701f"/>
<ellipse cx="78.90" cy="30.60" rx="1.00" ry="1.40" fill="#1f701f"/>
<ellipse cx="79.10" cy="45.30" rx="1.40" ry="0.80" fill="#1f701f"/>
<ellipse cx="67.90" cy="50.60" rx="1.00" ry="1.60" fill="#1f701f"/>
<line x1="9.90" y1="35.10" x2="7.90" y2="39.10" stroke="#2a9a2a" stroke-width="1.0" stroke-linecap="round"/>
<line x1="29.50" y1="17.10" x2="31.90" y2="15.60" stroke="#2a9a2a" stroke-width="1.0" stroke-linecap="round"/>
<line x1="56.90" y1="44.10" x2="55.90" y2="54.10" stroke="#2a9a2a" stroke-width="0.8" stroke-linecap="round"/>
<line x1="52.90" y1="52.10" x2="59.90" y2="58.10" stroke="#2a9a2a" stroke-width="1.2" stroke-linecap="round"/>
<ellipse cx="36.60" cy="5.10" rx="0.80" ry="0.80" fill="#22802a"/>
<ellipse cx="54.20" cy="4.60" rx="0.80" ry="0.80" fill="#22802a"/>
<ellipse cx="86.90" cy="35.10" rx="0.80" ry="0.80" fill="#22802a"/>
<ellipse cx="100.90" cy="37.10" rx="0.80" ry="0.80" fill="#22802a"/>
<ellipse cx="21.90" cy="5.10" rx="0.80" ry="0.80" fill="#22802a"/>
<ellipse cx="31.90" cy="44.10" rx="0.80" ry="0.80" fill="#22802a"/>
<ellipse cx="6.90" cy="49.10" rx="0.80" ry="0.80" fill="#22802a"/>
<ellipse cx="91.90" cy="54.10" rx="0.80" ry="0.80" fill="#22802a"/>
<ellipse cx="63.90" cy="10.10" rx="0.80" ry="0.80" fill="#22802a"/>
</g>
</svg>
<svg x="200.30" y="435.90" width="104.70" height="62.60" overflow="hidden">
<rect x="0.00" y="0.00" width="104.70" height="62.60" fill="#04041a" />
<g filter="url(#bl)">
<ellipse cx="18.30" cy="22.50" rx="3.20" ry="2.30" fill="#2040ff"/>
<ellipse cx="48.80" cy="20.70" rx="3.50" ry="2.40" fill="#2040ff"/>
<ellipse cx="70.80" cy="22.40" rx="2.20" ry="2.80" fill="#2040ff" transform="rotate(20 70.80 22.40)"/>
<ellipse cx="58.30" cy="31.30" rx="3.20" ry="2.10" fill="#2040ff" transform="rotate(30 58.30 31.30)"/>
<ellipse cx="54.40" cy="37.20" rx="2.10" ry="3.60" fill="#2040ff" transform="rotate(-20 54.40 37.20)"/>
<ellipse cx="77.60" cy="31.70" rx="2.10" ry="3.10" fill="#2040ff"/>
<ellipse cx="79.30" cy="44.00" rx="3.20" ry="1.80" fill="#2040ff"/>
<ellipse cx="67.10" cy="46.90" rx="2.10" ry="2.70" fill="#2040ff" transform="rotate(20 67.10 46.90)"/>
<ellipse cx="71.60" cy="47.40" rx="2.10" ry="2.10" fill="#2040ff"/>
<ellipse cx="68.70" cy="49.90" rx="1.50" ry="1.50" fill="#2040ff"/>
<ellipse cx="63.70" cy="15.10" rx="0.70" ry="0.70" fill="#2040ff"/>
</g>
</svg>
<svg x="308.20" y="435.90" width="105.00" height="62.60" overflow="hidden">
<rect x="0.00" y="0.00" width="105.00" height="62.60" fill="#050514" />
<g filter="url(#bl3)">
<ellipse cx="16.90" cy="24.10" rx="9.00" ry="10.00" fill="#0b220b"/>
<ellipse cx="48.90" cy="19.10" rx="7.00" ry="6.00" fill="#0b220b"/>
<ellipse cx="56.90" cy="34.10" rx="6.00" ry="7.00" fill="#0b220b"/>
<ellipse cx="73.90" cy="24.10" rx="7.00" ry="5.00" fill="#0b220b"/>
<ellipse cx="78.90" cy="31.10" rx="6.00" ry="6.00" fill="#0b220b"/>
<ellipse cx="76.90" cy="46.10" rx="7.00" ry="5.00" fill="#0b220b"/>
<ellipse cx="66.90" cy="52.10" rx="6.00" ry="6.00" fill="#0b220b"/>
</g>
<g filter="url(#bl)">
<path d="M8.20,12.30 L12.40,12.30 L16.60,17.70 L23.20,18.50 L29.50,17.10 L27.90,20.30 L20.70,24.50 L17.30,27.10 L17.10,32.90 L9.90,35.70 L11.40,27.60 L7.90,18.40 L6.50,15.70 Z" fill="#40d440" stroke="#40d440" stroke-width="0.8" stroke-linejoin="round"/>
<path d="M42.20,15.70 L46.60,13.00 L52.70,16.90 L53.90,19.30 L53.50,21.90 L49.10,23.30 L42.90,21.10 Z" fill="#5cf25c" stroke="#5cf25c" stroke-width="0.8" stroke-linejoin="round"/>
<path d="M53.30,26.40 L56.90,25.30 L58.70,28.70 L65.30,33.50 L60.50,34.10 L56.90,33.00 L54.20,31.10 Z" fill="#3ccc3c" stroke="#3ccc3c" stroke-width="0.8" stroke-linejoin="round"/>
<path d="M51.20,34.40 L55.10,33.50 L56.60,38.20 L55.70,43.90 L52.30,42.10 L50.70,38.20 Z" fill="#46d846" stroke="#46d846" stroke-width="0.8" stroke-linejoin="round"/>
<path d="M65.70,23.70 L70.50,20.30 L76.20,18.90 L75.20,23.00 L69.60,25.30 L66.20,25.30 Z" fill="#40d040" stroke="#40d040" stroke-width="0.8" stroke-linejoin="round"/>
<path d="M74.80,29.10 L79.60,26.10 L83.40,28.10 L82.90,32.10 L78.70,35.30 L75.70,33.90 Z" fill="#4ee44e" stroke="#4ee44e" stroke-width="0.8" stroke-linejoin="round"/>
<path d="M74.80,41.60 L79.60,42.50 L83.90,44.90 L83.40,47.50 L78.70,48.00 L75.70,45.70 Z" fill="#48dc48" stroke="#48dc48" stroke-width="0.8" stroke-linejoin="round"/>
<path d="M63.00,47.10 L68.70,43.90 L73.40,46.30 L71.70,50.90 L71.70,56.50 L67.80,58.40 L66.20,53.70 L62.60,50.90 Z" fill="#44d644" stroke="#44d644" stroke-width="0.8" stroke-linejoin="round"/>
<ellipse cx="16.60" cy="22.10" rx="1.60" ry="1.80" fill="#1f701f"/>
<ellipse cx="48.40" cy="18.10" rx="0.80" ry="0.80" fill="#1f701f"/>
<ellipse cx="55.50" cy="29.90" rx="0.90" ry="0.90" fill="#1f701f"/>
<ellipse cx="53.20" cy="38.60" rx="0.90" ry="1.60" fill="#1f701f"/>
<ellipse cx="70.40" cy="22.70" rx="1.40" ry="0.80" fill="#1f701f"/>
<ellipse cx="78.90" cy="30.60" rx="1.00" ry="1.40" fill="#1f701f"/>
<ellipse cx="79.10" cy="45.30" rx="1.40" ry="0.80" fill="#1f701f"/>
<ellipse cx="67.90" cy="50.60" rx="1.00" ry="1.60" fill="#1f701f"/>
<line x1="9.90" y1="35.10" x2="7.90" y2="39.10" stroke="#2a9a2a" stroke-width="1.0" stroke-linecap="round"/>
<line x1="29.50" y1="17.10" x2="31.90" y2="15.60" stroke="#2a9a2a" stroke-width="1.0" stroke-linecap="round"/>
<line x1="56.90" y1="44.10" x2="55.90" y2="54.10" stroke="#2a9a2a" stroke-width="0.8" stroke-linecap="round"/>
<line x1="52.90" y1="52.10" x2="59.90" y2="58.10" stroke="#2a9a2a" stroke-width="1.2" stroke-linecap="round"/>
<ellipse cx="36.60" cy="5.10" rx="0.80" ry="0.80" fill="#22802a"/>
<ellipse cx="54.20" cy="4.60" rx="0.80" ry="0.80" fill="#22802a"/>
<ellipse cx="86.90" cy="35.10" rx="0.80" ry="0.80" fill="#22802a"/>
<ellipse cx="100.90" cy="37.10" rx="0.80" ry="0.80" fill="#22802a"/>
<ellipse cx="21.90" cy="5.10" rx="0.80" ry="0.80" fill="#22802a"/>
<ellipse cx="31.90" cy="44.10" rx="0.80" ry="0.80" fill="#22802a"/>
<ellipse cx="6.90" cy="49.10" rx="0.80" ry="0.80" fill="#22802a"/>
<ellipse cx="91.90" cy="54.10" rx="0.80" ry="0.80" fill="#22802a"/>
<ellipse cx="63.90" cy="10.10" rx="0.80" ry="0.80" fill="#22802a"/>
</g>
<g opacity="0.85">
<g filter="url(#bl)">
<ellipse cx="18.30" cy="22.50" rx="3.20" ry="2.30" fill="#2040ff"/>
<ellipse cx="48.80" cy="20.70" rx="3.50" ry="2.40" fill="#2040ff"/>
<ellipse cx="70.80" cy="22.40" rx="2.20" ry="2.80" fill="#2040ff" transform="rotate(20 70.80 22.40)"/>
<ellipse cx="58.30" cy="31.30" rx="3.20" ry="2.10" fill="#2040ff" transform="rotate(30 58.30 31.30)"/>
<ellipse cx="54.40" cy="37.20" rx="2.10" ry="3.60" fill="#2040ff" transform="rotate(-20 54.40 37.20)"/>
<ellipse cx="77.60" cy="31.70" rx="2.10" ry="3.10" fill="#2040ff"/>
<ellipse cx="79.30" cy="44.00" rx="3.20" ry="1.80" fill="#2040ff"/>
<ellipse cx="67.10" cy="46.90" rx="2.10" ry="2.70" fill="#2040ff" transform="rotate(20 67.10 46.90)"/>
<ellipse cx="71.60" cy="47.40" rx="2.10" ry="2.10" fill="#2040ff"/>
<ellipse cx="68.70" cy="49.90" rx="1.50" ry="1.50" fill="#2040ff"/>
<ellipse cx="63.70" cy="15.10" rx="0.70" ry="0.70" fill="#2040ff"/>
</g>
</g>
<line x1="81.40" y1="60.60" x2="101.80" y2="60.60" stroke="#e0e0e0" stroke-width="1.0" />
<text transform="translate(92.60,59.00) scale(0.9259,1)" font-size="6.05" text-anchor="middle" fill="#e8e8e8" color="#e8e8e8" font-weight="bold">50 μm</text>
</svg>
<text transform="translate(139.20,364.60) scale(0.9259,1)" font-size="9.50" text-anchor="middle" fill="#151515" color="#151515" >MBP</text>
<text transform="translate(256.20,364.60) scale(0.9259,1)" font-size="9.50" text-anchor="middle" fill="#151515" color="#151515" >Hoechst</text>
<text transform="translate(361.70,364.60) scale(0.9259,1)" font-size="9.83" text-anchor="middle" fill="#151515" color="#151515" >MBP/Hoechst</text>
<text transform="translate(87.00,399.00) rotate(-90) scale(0.9259,1)" font-size="9.29" text-anchor="middle" fill="#151515" color="#151515" >CON</text>
<text transform="translate(87.00,466.60) rotate(-90) scale(0.9259,1)" font-size="9.29" text-anchor="middle" fill="#151515" color="#151515" >MET</text>
<text transform="translate(267.20,519.20) scale(0.9259,1)" font-size="9.72" text-anchor="middle" fill="#151515" color="#151515" >(f)</text>
<line x1="120.30" y1="541.20" x2="120.30" y2="610.10" stroke="#151515" stroke-width="1.6" />
<line x1="120.30" y1="621.40" x2="120.30" y2="689.30" stroke="#151515" stroke-width="1.6" />
<line x1="116.60" y1="541.90" x2="120.30" y2="541.90" stroke="#151515" stroke-width="1.3" />
<line x1="116.60" y1="576.20" x2="120.30" y2="576.20" stroke="#151515" stroke-width="1.3" />
<line x1="116.60" y1="610.10" x2="123.90" y2="610.10" stroke="#151515" stroke-width="1.3" />
<line x1="116.60" y1="621.40" x2="123.90" y2="621.40" stroke="#151515" stroke-width="1.3" />
<line x1="116.60" y1="652.60" x2="120.30" y2="652.60" stroke="#151515" stroke-width="1.3" />
<line x1="116.60" y1="688.60" x2="341.20" y2="688.60" stroke="#151515" stroke-width="1.4" />
<text transform="translate(114.80,546.20) scale(0.9259,1)" font-size="10.04" text-anchor="end" fill="#151515" color="#151515" >8</text>
<text transform="translate(114.80,581.30) scale(0.9259,1)" font-size="10.04" text-anchor="end" fill="#151515" color="#151515" >7</text>
<text transform="translate(114.80,618.40) scale(0.9259,1)" font-size="10.04" text-anchor="end" fill="#151515" color="#151515" >6</text>
<text transform="translate(114.80,653.40) scale(0.9259,1)" font-size="10.04" text-anchor="end" fill="#151515" color="#151515" >2</text>
<text transform="translate(114.80,689.20) scale(0.9259,1)" font-size="10.04" text-anchor="end" fill="#151515" color="#151515" >0</text>
<line x1="142.40" y1="688.60" x2="142.40" y2="692.80" stroke="#151515" stroke-width="1.2" />
<line x1="134.40" y1="670.20" x2="134.40" y2="668.00" stroke="#151515" stroke-width="1.2" />
<line x1="132.60" y1="668.00" x2="136.20" y2="668.00" stroke="#151515" stroke-width="1.3" />
<rect x="128.00" y="670.20" width="12.80" height="18.40" rx="0.8" fill="#1a3cfa"/>
<line x1="150.70" y1="582.40" x2="150.70" y2="559.10" stroke="#151515" stroke-width="1.2" />
<line x1="148.70" y1="559.10" x2="152.70" y2="559.10" stroke="#151515" stroke-width="1.3" />
<rect x="144.20" y="582.40" width="13.00" height="27.70" rx="0.8" fill="#ff0a12"/>
<rect x="144.20" y="621.40" width="13.00" height="67.20" fill="#ff0a12"/>
<text transform="translate(140.20,703.60) scale(0.9259,1)" font-size="9.94" text-anchor="middle" fill="#151515" color="#151515" font-style="italic" >Mag</text>
<line x1="186.20" y1="688.60" x2="186.20" y2="692.80" stroke="#151515" stroke-width="1.2" />
<line x1="178.20" y1="670.20" x2="178.20" y2="664.90" stroke="#151515" stroke-width="1.2" />
<line x1="176.40" y1="664.90" x2="180.00" y2="664.90" stroke="#151515" stroke-width="1.3" />
<rect x="171.80" y="670.20" width="12.80" height="18.40" rx="0.8" fill="#1a3cfa"/>
<line x1="194.50" y1="650.50" x2="194.50" y2="648.50" stroke="#151515" stroke-width="1.2" />
<line x1="192.70" y1="648.50" x2="196.30" y2="648.50" stroke="#151515" stroke-width="1.3" />
<rect x="188.00" y="650.50" width="13.00" height="38.10" rx="0.8" fill="#ff0a12"/>
<text transform="translate(186.50,703.60) scale(0.9259,1)" font-size="9.94" text-anchor="middle" fill="#151515" color="#151515" font-style="italic" >Mbp</text>
<line x1="230.30" y1="688.60" x2="230.30" y2="692.80" stroke="#151515" stroke-width="1.2" />
<line x1="222.30" y1="670.20" x2="222.30" y2="668.80" stroke="#151515" stroke-width="1.2" />
<line x1="220.50" y1="668.80" x2="224.10" y2="668.80" stroke="#151515" stroke-width="1.3" />
<rect x="215.90" y="670.20" width="12.80" height="18.40" rx="0.8" fill="#1a3cfa"/>
<line x1="238.60" y1="660.00" x2="238.60" y2="659.20" stroke="#151515" stroke-width="1.2" />
<line x1="236.80" y1="659.20" x2="240.40" y2="659.20" stroke="#151515" stroke-width="1.3" />
<rect x="232.10" y="660.00" width="13.00" height="28.60" rx="0.8" fill="#ff0a12"/>
<text transform="translate(230.50,703.60) scale(0.9259,1)" font-size="9.94" text-anchor="middle" fill="#151515" color="#151515" font-style="italic" >Olig2</text>
<line x1="274.20" y1="688.60" x2="274.20" y2="692.80" stroke="#151515" stroke-width="1.2" />
<line x1="266.20" y1="670.20" x2="266.20" y2="665.40" stroke="#151515" stroke-width="1.2" />
<line x1="264.40" y1="665.40" x2="268.00" y2="665.40" stroke="#151515" stroke-width="1.3" />
<rect x="259.80" y="670.20" width="12.80" height="18.40" rx="0.8" fill="#1a3cfa"/>
<line x1="282.50" y1="626.60" x2="282.50" y2="621.50" stroke="#151515" stroke-width="1.2" />
<line x1="280.70" y1="621.50" x2="284.30" y2="621.50" stroke="#151515" stroke-width="1.3" />
<rect x="276.00" y="626.60" width="13.00" height="62.00" rx="0.8" fill="#ff0a12"/>
<text transform="translate(274.90,703.60) scale(0.9259,1)" font-size="9.94" text-anchor="middle" fill="#151515" color="#151515" font-style="italic" >Sox10</text>
<line x1="318.50" y1="688.60" x2="318.50" y2="692.80" stroke="#151515" stroke-width="1.2" />
<line x1="310.50" y1="670.20" x2="310.50" y2="669.50" stroke="#151515" stroke-width="1.2" />
<line x1="308.70" y1="669.50" x2="312.30" y2="669.50" stroke="#151515" stroke-width="1.3" />
<rect x="304.10" y="670.20" width="12.80" height="18.40" rx="0.8" fill="#1a3cfa"/>
<line x1="326.80" y1="673.40" x2="326.80" y2="667.40" stroke="#151515" stroke-width="1.2" />
<line x1="325.00" y1="667.40" x2="328.60" y2="667.40" stroke="#151515" stroke-width="1.3" />
<rect x="320.30" y="673.40" width="13.00" height="15.20" rx="0.8" fill="#ff0a12"/>
<text transform="translate(313.50,703.60) scale(0.9259,1)" font-size="9.94" text-anchor="middle" fill="#151515" color="#151515" font-style="italic" >Gfap</text>
<line x1="116.60" y1="688.60" x2="341.20" y2="688.60" stroke="#151515" stroke-width="1.4" />
<line x1="133.20" y1="549.10" x2="145.10" y2="549.10" stroke="#151515" stroke-width="1.3" />
<text transform="translate(138.60,547.60) scale(0.9259,1)" font-size="10.80" text-anchor="middle" fill="#3a3a3a" color="#3a3a3a" letter-spacing="-0.6" style="stroke-width:0.3px">**</text>
<line x1="177.70" y1="638.50" x2="189.20" y2="638.50" stroke="#151515" stroke-width="1.3" />
<text transform="translate(183.50,637.00) scale(0.9259,1)" font-size="10.80" text-anchor="middle" fill="#3a3a3a" color="#3a3a3a" letter-spacing="-0.6" style="stroke-width:0.3px">*</text>
<line x1="220.00" y1="648.50" x2="231.50" y2="648.50" stroke="#151515" stroke-width="1.3" />
<text transform="translate(224.60,646.30) scale(0.9259,1)" font-size="10.80" text-anchor="middle" fill="#3a3a3a" color="#3a3a3a" letter-spacing="-0.6" style="stroke-width:0.3px">*</text>
<line x1="264.60" y1="612.30" x2="276.50" y2="612.30" stroke="#151515" stroke-width="1.3" />
<text transform="translate(271.80,610.70) scale(0.9259,1)" font-size="10.80" text-anchor="middle" fill="#3a3a3a" color="#3a3a3a" letter-spacing="-0.6" style="stroke-width:0.3px">*</text>
<rect x="292.7" y="544.8" width="18.1" height="9.9" rx="1.2" fill="#1a3cfa"/>
<rect x="292.7" y="559.6" width="18.1" height="9.9" rx="1.2" fill="#ff0a12"/>
<text transform="translate(318.80,553.80) scale(0.9259,1)" font-size="9.50" text-anchor="start" fill="#151515" color="#151515" >CON</text>
<text transform="translate(318.80,566.70) scale(0.9259,1)" font-size="9.50" text-anchor="start" fill="#151515" color="#151515" >MET</text>
<text transform="translate(99.60,622.30) rotate(-90) scale(0.9259,1)" font-size="9.94" text-anchor="middle" fill="#151515" color="#151515" >Relative mRNA level</text>
<text transform="translate(230.80,724.60) scale(0.9259,1)" font-size="9.72" text-anchor="middle" fill="#151515" color="#151515" >(h)</text>
<rect x="480.20" y="564.10" width="66.60" height="19.60" fill="#b4bcc4" />
<rect x="480.20" y="588.10" width="66.60" height="26.60" fill="#e4eaeb" />
<rect x="480.20" y="618.60" width="66.60" height="19.80" fill="#e5eaea" />
<rect x="480.20" y="642.40" width="66.60" height="19.80" fill="#e9eeee" />
<rect x="480.20" y="667.20" width="66.60" height="20.40" fill="#ebf0f0" />
<svg x="480.20" y="564.10" width="66.60" height="19.60" overflow="hidden">
<g filter="url(#bl2)">
<ellipse cx="14.00" cy="5.00" rx="7.00" ry="4.00" fill="#9ea6ae"/>
<ellipse cx="14.00" cy="16.00" rx="8.00" ry="4.00" fill="#a4acb4"/>
<ellipse cx="24.00" cy="9.00" rx="3.00" ry="9.00" fill="#d0d6dc"/>
<ellipse cx="33.00" cy="5.00" rx="6.00" ry="4.00" fill="#aab2ba"/>
<ellipse cx="43.00" cy="9.00" rx="3.00" ry="9.00" fill="#cad0d6"/>
<ellipse cx="52.00" cy="6.00" rx="7.00" ry="4.00" fill="#b0b8c0"/>
<ellipse cx="55.00" cy="16.00" rx="7.00" ry="4.00" fill="#a8b0b8"/>
<ellipse cx="64.00" cy="9.00" rx="3.00" ry="9.00" fill="#d8dee4"/>
<ellipse cx="30.00" cy="17.00" rx="6.00" ry="3.00" fill="#acb4bc"/>
<ellipse cx="4.00" cy="7.00" rx="3.20" ry="3.60" fill="#f8fafc"/>
</g>
<g filter="url(#bl2)">
<line x1="9.50" y1="12.30" x2="21.50" y2="12.30" stroke="#6a5a58" stroke-width="4.0" stroke-linecap="round" opacity="0.6"/>
<line x1="27.50" y1="12.30" x2="38.50" y2="12.30" stroke="#6a5a58" stroke-width="3.6" stroke-linecap="round" opacity="0.6"/>
<line x1="45.50" y1="12.30" x2="60.50" y2="12.30" stroke="#6a5a58" stroke-width="4.199999999999999" stroke-linecap="round" opacity="0.6"/>
</g><g filter="url(#bl)">
<line x1="9.50" y1="12.30" x2="21.50" y2="12.30" stroke="#240c08" stroke-width="2.6" stroke-linecap="round"/>
<line x1="27.50" y1="12.30" x2="38.50" y2="12.30" stroke="#2a0e08" stroke-width="2.2" stroke-linecap="round"/>
<line x1="45.50" y1="12.30" x2="60.50" y2="12.30" stroke="#200a06" stroke-width="2.8" stroke-linecap="round"/>
</g>
</svg>
<svg x="480.20" y="588.10" width="66.60" height="26.60" overflow="hidden">
<g filter="url(#bl2)">
<line x1="9.00" y1="15.30" x2="19.00" y2="15.30" stroke="#9aa2a2" stroke-width="3.4000000000000004" stroke-linecap="round" opacity="0.6"/>
<line x1="26.00" y1="15.00" x2="36.00" y2="15.00" stroke="#9aa2a2" stroke-width="4.2" stroke-linecap="round" opacity="0.6"/>
<line x1="41.00" y1="14.80" x2="56.00" y2="14.80" stroke="#9aa2a2" stroke-width="5.0" stroke-linecap="round" opacity="0.6"/>
<line x1="9.00" y1="9.80" x2="19.00" y2="9.80" stroke="#9aa2a2" stroke-width="2.6" stroke-linecap="round" opacity="0.6"/>
<line x1="27.00" y1="9.60" x2="35.00" y2="9.60" stroke="#9aa2a2" stroke-width="3.0" stroke-linecap="round" opacity="0.6"/>
<line x1="43.00" y1="9.20" x2="53.00" y2="9.20" stroke="#9aa2a2" stroke-width="4.0" stroke-linecap="round" opacity="0.6"/>
</g><g filter="url(#bl)">
<line x1="9.00" y1="15.30" x2="19.00" y2="15.30" stroke="#5a6262" stroke-width="1.8" stroke-linecap="round"/>
<line x1="26.00" y1="15.00" x2="36.00" y2="15.00" stroke="#161c1c" stroke-width="2.6" stroke-linecap="round"/>
<line x1="41.00" y1="14.80" x2="56.00" y2="14.80" stroke="#080c0c" stroke-width="3.4" stroke-linecap="round"/>
<line x1="9.00" y1="9.80" x2="19.00" y2="9.80" stroke="#b0b6b6" stroke-width="1.0" stroke-linecap="round"/>
<line x1="27.00" y1="9.60" x2="35.00" y2="9.60" stroke="#7a8282" stroke-width="1.4" stroke-linecap="round"/>
<line x1="43.00" y1="9.20" x2="53.00" y2="9.20" stroke="#121818" stroke-width="2.4" stroke-linecap="round"/>
</g>
</svg>
<svg x="480.20" y="618.60" width="66.60" height="19.80" overflow="hidden">
<g filter="url(#bl2)">
<path d="M7.5,11.2 Q14.0,8.6 20.5,10.6" fill="none" stroke="#7a8282" stroke-width="4.8" stroke-linecap="round" opacity="0.6"/>
<path d="M27.0,11.2 Q33.8,8.6 40.5,10.6" fill="none" stroke="#7a8282" stroke-width="4.8" stroke-linecap="round" opacity="0.6"/>
<path d="M47.0,11.2 Q53.5,8.6 60.0,10.6" fill="none" stroke="#7a8282" stroke-width="4.8" stroke-linecap="round" opacity="0.6"/>
</g><g filter="url(#bl)">
<path d="M7.5,11.2 Q14.0,8.6 20.5,10.6" fill="none" stroke="#080c0c" stroke-width="3.0" stroke-linecap="round"/>
<path d="M27.0,11.2 Q33.8,8.6 40.5,10.6" fill="none" stroke="#080c0c" stroke-width="3.0" stroke-linecap="round"/>
<path d="M47.0,11.2 Q53.5,8.6 60.0,10.6" fill="none" stroke="#080c0c" stroke-width="3.0" stroke-linecap="round"/>
</g>
</svg>
<svg x="480.20" y="642.40" width="66.60" height="19.80" overflow="hidden">
<g filter="url(#bl2)">
<line x1="8.50" y1="10.20" x2="16.00" y2="10.20" stroke="#8a9292" stroke-width="4.2" stroke-linecap="round" opacity="0.6"/>
<line x1="16.00" y1="10.20" x2="21.00" y2="10.20" stroke="#8a9292" stroke-width="3.6" stroke-linecap="round" opacity="0.6"/>
<line x1="27.00" y1="10.20" x2="33.00" y2="10.20" stroke="#8a9292" stroke-width="3.4000000000000004" stroke-linecap="round" opacity="0.6"/>
<line x1="33.00" y1="10.20" x2="40.00" y2="10.20" stroke="#8a9292" stroke-width="3.8000000000000003" stroke-linecap="round" opacity="0.6"/>
<line x1="46.00" y1="10.20" x2="52.00" y2="10.20" stroke="#8a9292" stroke-width="4.4" stroke-linecap="round" opacity="0.6"/>
<line x1="52.00" y1="10.20" x2="58.00" y2="10.20" stroke="#8a9292" stroke-width="4.0" stroke-linecap="round" opacity="0.6"/>
</g><g filter="url(#bl)">
<line x1="8.50" y1="10.20" x2="16.00" y2="10.20" stroke="#121818" stroke-width="2.6" stroke-linecap="round"/>
<line x1="16.00" y1="10.20" x2="21.00" y2="10.20" stroke="#3a4242" stroke-width="2.0" stroke-linecap="round"/>
<line x1="27.00" y1="10.20" x2="33.00" y2="10.20" stroke="#3e4646" stroke-width="1.8" stroke-linecap="round"/>
<line x1="33.00" y1="10.20" x2="40.00" y2="10.20" stroke="#1e2626" stroke-width="2.2" stroke-linecap="round"/>
<line x1="46.00" y1="10.20" x2="52.00" y2="10.20" stroke="#0c1212" stroke-width="2.8" stroke-linecap="round"/>
<line x1="52.00" y1="10.20" x2="58.00" y2="10.20" stroke="#1e2626" stroke-width="2.4" stroke-linecap="round"/>
</g>
</svg>
<svg x="480.20" y="667.20" width="66.60" height="20.40" overflow="hidden">
<g filter="url(#bl2)">
<line x1="7.00" y1="10.60" x2="20.00" y2="10.60" stroke="#9aa2a2" stroke-width="3.0" stroke-linecap="round" opacity="0.6"/>
<line x1="27.00" y1="10.60" x2="40.00" y2="10.60" stroke="#9aa2a2" stroke-width="3.2" stroke-linecap="round" opacity="0.6"/>
<line x1="46.00" y1="10.60" x2="60.00" y2="10.60" stroke="#9aa2a2" stroke-width="3.6" stroke-linecap="round" opacity="0.6"/>
</g><g filter="url(#bl)">
<line x1="7.00" y1="10.60" x2="20.00" y2="10.60" stroke="#263030" stroke-width="1.6" stroke-linecap="round"/>
<line x1="27.00" y1="10.60" x2="40.00" y2="10.60" stroke="#1e2828" stroke-width="1.8" stroke-linecap="round"/>
<line x1="46.00" y1="10.60" x2="60.00" y2="10.60" stroke="#101818" stroke-width="2.2" stroke-linecap="round"/>
</g>
</svg>
<rect x="480.20" y="564.10" width="66.60" height="19.60" fill="none" stroke="#262626" stroke-width="1.25" />
<text transform="translate(469.80,577.10) scale(0.9259,1)" font-size="9.94" text-anchor="end" fill="#151515" color="#151515" >OLIG2</text>
<rect x="480.20" y="588.10" width="66.60" height="26.60" fill="none" stroke="#262626" stroke-width="1.25" />
<text transform="translate(469.80,604.60) scale(0.9259,1)" font-size="9.94" text-anchor="end" fill="#151515" color="#151515" >MBP</text>
<rect x="480.20" y="618.60" width="66.60" height="19.80" fill="none" stroke="#262626" stroke-width="1.25" />
<text transform="translate(469.80,631.70) scale(0.9259,1)" font-size="9.94" text-anchor="end" fill="#151515" color="#151515" >ALDH1L1</text>
<rect x="480.20" y="642.40" width="66.60" height="19.80" fill="none" stroke="#262626" stroke-width="1.25" />
<text transform="translate(469.80,655.50) scale(0.9259,1)" font-size="9.94" text-anchor="end" fill="#151515" color="#151515" >GFAP</text>
<rect x="480.20" y="667.20" width="66.60" height="20.40" fill="none" stroke="#262626" stroke-width="1.25" />
<text transform="translate(469.80,680.60) scale(0.9259,1)" font-size="9.94" text-anchor="end" fill="#151515" color="#151515" >ACTIN</text>
<text transform="translate(454.40,555.60) scale(0.9259,1)" font-size="9.72" text-anchor="start" fill="#151515" color="#151515" >OPC</text>
<text transform="translate(495.00,555.60) scale(0.9259,1)" font-size="9.72" text-anchor="middle" fill="#151515" color="#151515" >0</text>
<text transform="translate(513.00,555.60) scale(0.9259,1)" font-size="9.72" text-anchor="middle" fill="#151515" color="#151515" >10</text>
<text transform="translate(522.60,555.60) scale(0.9259,1)" font-size="10.04" text-anchor="start" fill="#151515" color="#151515" >100 (μ mol/L)</text>
<text transform="translate(514.20,699.20) scale(0.9259,1)" font-size="9.72" text-anchor="middle" fill="#151515" color="#151515" >(i)</text>
</svg>
</body></html>
